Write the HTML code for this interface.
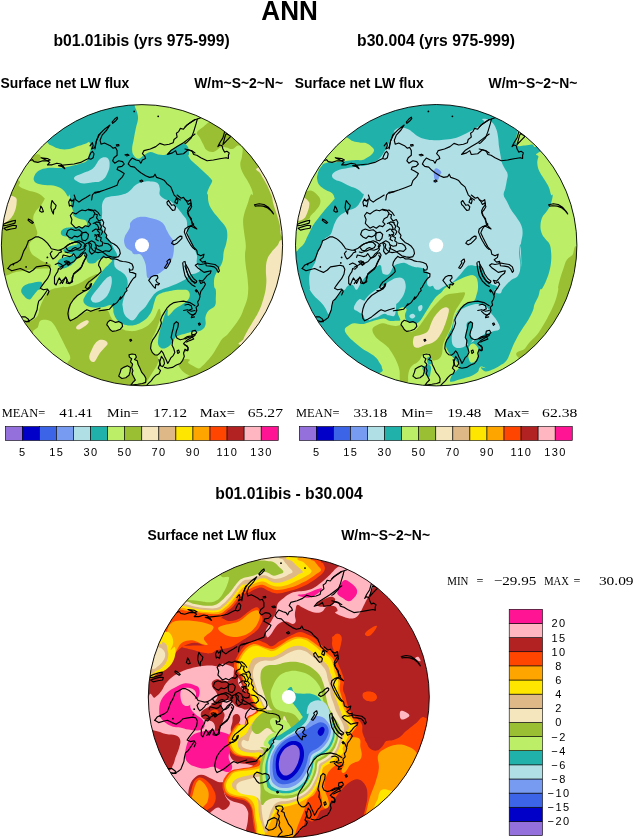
<!DOCTYPE html><html><head><meta charset="utf-8"><style>html,body{margin:0;padding:0;background:#fff;}svg{display:block;will-change:transform}text{font-family:"Liberation Sans",sans-serif;fill:#000}.b{font-weight:bold}.s{font-family:"Liberation Serif",serif;}</style></head><body>
<svg width="633" height="839" viewBox="0 0 633 839">
<rect width="633" height="839" fill="#fff"/>
<defs>
<clipPath id="cp1"><circle cx="142.0" cy="245.2" r="140.6"/></clipPath>
<clipPath id="cp2"><circle cx="436.2" cy="245.2" r="140.7"/></clipPath>
<clipPath id="cp3"><circle cx="288.8" cy="697.0" r="140.5"/></clipPath>
</defs>
<g clip-path="url(#cp1)">
<rect x="0" y="100" width="290" height="290" fill="#BCEE68"/><path d="M17.4,179.8 C23.6,183.0 17.1,184.0 19.0,186.1 C20.9,188.2 23.1,188.6 26.9,190.0 C30.6,191.5 34.4,191.6 37.9,193.2 C41.4,194.8 43.0,196.6 44.2,197.9 C45.5,199.3 45.0,198.1 44.2,199.7 C43.4,201.4 42.0,203.7 40.3,206.1 C38.5,208.4 37.0,209.1 35.5,211.6 C34.1,214.1 33.2,215.7 33.2,218.7 C33.2,221.7 34.8,223.4 35.5,226.6 C36.3,229.8 37.9,231.7 37.1,234.5 C36.3,237.3 33.2,238.6 31.6,240.8 C30.0,243.0 29.2,243.0 29.2,245.6 C29.2,248.1 29.9,250.9 31.6,253.5 C33.3,256.0 35.4,256.5 37.9,258.2 C40.4,259.9 41.7,260.9 44.2,262.1 C46.8,263.4 49.4,263.3 50.6,264.5 C51.7,265.7 51.3,267.2 49.8,268.0 C48.2,268.8 46.0,268.4 42.7,268.6 C39.3,268.9 37.0,268.8 33.2,269.2 C29.4,269.7 27.5,270.2 23.7,270.8 C19.9,271.5 17.7,271.5 14.2,272.4 C10.7,273.4 8.8,275.0 6.3,275.6 C3.8,276.1 5.2,274.4 1.6,275.3 C-2.1,276.1 -9.3,301.1 -12.0,280.0 C-14.7,258.9 -17.9,190.0 -12.0,170.0 C-6.1,150.0 11.2,176.6 17.4,179.8Z" fill="#9ABF32"/>
<path d="M30.8,156.1 C32.5,154.8 35.9,154.0 37.9,154.2 C39.9,154.3 40.4,155.5 40.8,156.9 C41.1,158.2 40.5,159.8 39.5,160.8 C38.5,161.8 37.6,161.9 35.5,161.9 C33.5,161.9 30.2,162.0 29.2,160.8 C28.3,159.7 29.1,157.4 30.8,156.1Z" fill="#9ABF32"/>
<path d="M23.7,323.2 C30.5,321.5 27.2,322.4 29.2,321.6 C31.3,320.8 32.2,320.5 34.0,319.2 C35.7,318.0 36.8,317.3 37.9,315.3 C39.0,313.2 38.7,311.5 39.5,309.0 C40.3,306.4 40.8,305.2 41.9,302.6 C43.0,300.1 44.2,297.8 45.0,296.3 C45.8,294.8 44.7,296.3 45.8,295.0 C46.9,293.7 47.7,291.3 50.6,289.8 C53.4,288.3 56.2,288.0 60.0,287.4 C63.8,286.8 65.7,287.4 69.5,286.6 C73.3,285.8 75.5,285.0 79.0,283.5 C82.5,281.9 84.0,280.3 86.9,278.7 C89.7,277.1 91.3,276.5 93.2,275.6 C95.2,274.6 95.8,274.0 96.7,274.1 C97.5,274.3 98.7,274.8 97.7,276.3 C96.7,277.8 93.9,279.1 91.6,281.7 C89.2,284.3 88.4,286.8 85.9,289.3 C83.4,291.8 81.4,292.3 79.0,294.3 C76.6,296.4 75.5,297.1 73.9,299.4 C72.3,301.7 71.6,302.9 70.7,305.7 C69.9,308.5 69.4,310.4 69.5,313.3 C69.6,316.2 70.1,319.2 71.4,320.0 C72.6,320.8 73.7,318.5 75.8,317.2 C78.0,315.8 79.3,314.6 82.1,313.4 C85.0,312.1 87.5,311.6 90.0,310.9 C92.6,310.1 92.7,310.0 95.0,309.7 C97.3,309.5 98.8,309.6 101.3,309.7 C103.8,309.9 105.7,309.1 107.6,310.5 C109.5,312.0 109.2,314.3 110.8,316.9 C112.4,319.4 113.3,320.8 115.5,323.2 C117.7,325.5 119.0,327.1 121.9,328.7 C124.7,330.3 126.6,330.8 129.8,331.1 C132.9,331.4 134.5,331.1 137.7,330.3 C140.8,329.5 142.9,328.7 145.6,327.1 C148.2,325.5 149.2,324.4 151.1,322.4 C153.0,320.3 153.6,319.4 155.0,316.9 C156.5,314.3 157.2,311.2 158.2,309.7 C159.2,308.3 159.6,308.3 160.1,309.7 C160.6,311.2 160.9,313.9 160.6,316.9 C160.2,319.9 159.3,321.6 158.2,324.8 C157.1,327.9 156.3,329.8 155.0,332.7 C153.8,335.5 152.8,336.4 151.9,339.0 C150.9,341.5 150.3,342.8 150.3,345.3 C150.3,347.8 150.8,349.7 151.9,351.6 C153.0,353.5 154.6,353.3 155.8,354.8 C157.1,356.2 157.9,356.8 158.2,358.7 C158.5,360.6 158.2,362.0 157.4,364.2 C156.6,366.5 155.7,367.4 154.2,369.8 C152.8,372.1 151.7,373.7 150.3,376.1 C148.9,378.5 148.0,379.6 147.1,381.6 C146.2,383.7 145.3,382.7 145.9,386.4 C146.4,390.0 180.2,397.3 150.0,400.0 C119.8,402.7 26.0,414.0 -5.0,400.0 C-36.0,386.0 -10.7,345.4 -5.0,330.0 C0.7,314.6 16.9,324.9 23.7,323.2Z" fill="#9ABF32"/>
<path d="M209.5,121.3 C204.9,126.0 208.5,122.1 207.1,123.4 C205.7,124.6 204.4,125.8 202.4,127.6 C200.3,129.5 197.3,130.8 196.8,132.9 C196.4,134.9 198.7,135.6 200.0,137.9 C201.3,140.2 201.9,141.9 203.2,144.2 C204.4,146.6 204.6,148.2 206.3,149.8 C208.1,151.3 209.8,152.0 211.9,152.1 C213.9,152.2 214.9,151.2 216.6,150.2 C218.3,149.3 218.6,148.0 220.5,147.4 C222.4,146.8 223.7,147.1 226.1,147.4 C228.4,147.7 230.2,149.3 232.4,149.0 C234.6,148.7 235.6,146.4 237.1,145.8 C238.6,145.2 239.0,145.6 240.0,145.8 C240.9,146.0 241.3,146.1 241.9,146.9 C242.4,147.7 242.7,147.8 242.7,149.8 C242.7,151.8 242.3,153.9 241.9,156.9 C241.4,159.9 240.1,161.6 240.3,164.8 C240.5,167.9 241.2,169.5 242.7,172.7 C244.1,175.8 245.7,177.4 247.4,180.6 C249.1,183.7 250.2,185.6 251.4,188.5 C252.5,191.3 253.1,193.5 252.9,194.8 C252.8,196.1 251.7,193.1 250.6,195.0 C249.5,196.9 248.7,200.7 247.4,204.5 C246.1,208.3 245.1,210.5 244.2,214.0 C243.4,217.4 243.1,218.1 243.1,221.9 C243.1,225.6 243.7,228.2 244.2,232.9 C244.8,237.7 245.7,241.1 245.8,245.6 C246.0,250.0 245.0,250.9 245.0,255.0 C245.0,259.1 245.3,261.7 245.8,266.1 C246.3,270.5 246.9,273.0 247.4,277.1 C247.9,281.3 248.0,284.1 248.2,286.6 C248.3,289.2 248.3,287.7 248.2,290.0 C248.0,292.3 248.2,294.4 247.4,297.9 C246.6,301.4 245.7,303.6 244.2,307.4 C242.8,311.2 242.3,313.1 240.3,316.9 C238.2,320.6 236.5,322.9 234.0,326.3 C231.4,329.8 230.0,331.7 227.7,334.2 C225.3,336.8 224.0,336.8 222.1,339.0 C220.2,341.2 219.9,342.4 218.2,345.3 C216.4,348.1 215.6,350.0 213.4,353.2 C211.2,356.4 209.6,358.2 207.1,361.1 C204.6,363.9 202.7,366.0 200.8,367.4 C198.9,368.8 199.2,368.5 197.6,368.2 C196.1,367.9 194.8,366.9 192.9,365.8 C191.0,364.7 188.8,363.9 188.2,362.7 C187.5,361.5 190.7,360.5 189.8,359.8 C188.8,359.2 185.5,358.7 183.5,359.5 C181.4,360.3 180.5,362.7 179.5,363.9 C178.6,365.2 177.9,364.2 178.7,365.8 C179.5,367.5 181.3,370.1 183.5,372.1 C185.7,374.2 188.0,374.7 189.8,376.1 C191.5,377.5 180.1,375.5 192.2,379.3 C204.2,383.0 228.4,410.9 250.0,395.0 C271.6,379.1 290.0,355.0 300.0,300.0 C310.0,245.0 314.0,160.0 300.0,120.0 C286.0,80.0 248.1,99.7 230.0,100.0 C211.9,100.3 214.1,116.7 209.5,121.3Z" fill="#9ABF32"/>
<path d="M40.3,320.8 C42.2,319.4 44.9,319.5 47.4,320.0 C49.9,320.5 50.9,321.0 52.9,323.2 C55.0,325.4 55.6,327.3 57.7,331.1 C59.7,334.9 61.1,338.0 63.2,342.1 C65.2,346.2 66.5,348.5 67.9,351.6 C69.4,354.8 70.3,355.9 70.3,357.9 C70.3,360.0 69.0,360.6 67.9,361.9 C66.8,363.1 68.9,366.6 64.8,364.2 C60.7,361.9 53.7,356.0 47.4,350.0 C41.1,344.0 35.1,338.8 33.2,334.2 C31.3,329.7 36.5,329.8 37.9,327.1 C39.3,324.4 38.4,322.2 40.3,320.8Z" fill="#BCEE68"/>
<path d="M9.5,195.8 C13.9,196.4 14.4,196.4 15.8,197.8 C17.2,199.3 16.7,200.3 16.6,202.9 C16.4,205.5 16.1,207.8 15.0,210.8 C13.9,213.8 13.4,215.4 11.1,217.9 C8.7,220.4 6.6,222.2 3.2,223.4 C-0.3,224.7 -4.4,229.9 -6.3,224.2 C-8.2,218.5 -9.5,200.7 -6.3,195.0 C-3.2,189.3 5.1,195.2 9.5,195.8Z" fill="#F5E6BE"/>
<path d="M258.5,167.6 C252.8,169.8 259.1,170.7 260.8,174.2 C262.6,177.8 265.1,181.2 267.1,185.3 C269.2,189.4 270.2,192.5 271.1,194.8 C272.0,197.0 271.4,194.6 271.9,196.6 C272.4,198.5 272.5,201.0 273.5,204.5 C274.4,208.0 275.4,209.8 276.6,214.0 C277.9,218.1 278.8,220.5 279.8,225.0 C280.8,229.5 279.8,234.1 281.7,236.4 C283.6,238.7 287.7,251.0 289.3,236.4 C290.8,221.8 295.4,177.2 289.3,163.4 C283.1,149.6 264.1,165.4 258.5,167.6Z" fill="#F5E6BE"/>
<path d="M281.8,239.7 C278.2,240.9 279.6,243.0 277.4,245.6 C275.3,248.1 273.2,249.8 271.1,252.7 C269.0,255.5 268.2,256.5 267.1,259.8 C266.1,263.1 266.0,265.1 265.9,269.2 C265.7,273.4 266.4,276.2 266.4,280.3 C266.3,284.4 266.2,286.0 265.6,289.8 C264.9,293.6 264.5,295.3 263.2,299.5 C261.9,303.6 261.3,306.1 259.2,310.5 C257.2,315.0 255.3,317.5 252.9,321.6 C250.6,325.7 249.3,327.6 247.4,331.1 C245.5,334.5 244.5,336.1 243.5,339.0 C242.4,341.8 233.7,344.0 242.2,345.3 C250.7,346.6 275.4,366.4 286.1,345.3 C296.8,324.2 296.4,260.8 295.6,239.7 C294.7,218.6 285.5,238.5 281.8,239.7Z" fill="#F5E6BE"/>
<path d="M76.6,326.3 C78.0,324.5 83.8,321.0 86.1,320.3 C88.4,319.7 89.6,321.3 88.2,323.2 C86.7,325.0 81.3,328.9 79.0,329.5 C76.7,330.1 75.2,328.2 76.6,326.3Z" fill="#F5E6BE"/>
<path d="M89.3,357.9 C88.8,355.6 90.2,353.2 91.6,350.0 C93.0,346.9 94.3,344.2 96.4,342.1 C98.5,340.1 99.9,339.6 102.1,339.8 C104.4,339.9 107.2,341.3 107.6,342.9 C108.1,344.5 106.1,345.6 104.5,347.7 C102.9,349.7 101.8,350.3 99.7,353.2 C97.6,356.0 96.1,360.9 94.0,361.9 C91.9,362.8 89.7,360.3 89.3,357.9Z" fill="#F5E6BE"/>
<path d="M46.6,141.4 C51.0,146.6 49.4,144.3 52.1,145.8 C54.8,147.3 56.6,148.3 60.0,149.0 C63.5,149.6 65.7,149.6 69.5,149.0 C73.3,148.3 75.7,146.9 79.0,145.8 C82.3,144.7 84.0,144.1 86.1,143.4 C88.2,142.7 88.3,141.5 89.3,142.3 C90.2,143.1 90.8,145.1 90.8,147.4 C90.8,149.7 90.0,151.0 89.3,153.7 C88.5,156.4 88.9,158.8 86.9,160.8 C84.8,162.9 82.5,162.9 79.0,164.0 C75.5,165.1 73.6,165.6 69.5,166.4 C65.4,167.1 62.9,167.6 58.5,167.9 C54.0,168.2 51.2,167.5 47.4,167.9 C43.6,168.4 42.0,168.9 39.5,170.3 C37.0,171.7 35.9,173.0 34.8,175.0 C33.6,177.1 33.3,178.8 34.0,180.6 C34.6,182.3 35.2,182.8 37.9,183.7 C40.6,184.7 43.9,184.8 47.4,185.3 C50.9,185.8 52.1,185.2 55.3,186.1 C58.5,187.0 60.7,188.0 63.2,190.0 C65.7,192.1 66.7,195.4 67.9,196.4 C69.2,197.4 68.9,193.4 69.5,195.0 C70.1,196.6 70.3,201.0 71.1,204.5 C71.9,208.0 73.0,210.2 73.5,212.4 C73.9,214.6 72.4,214.3 73.5,215.5 C74.6,216.8 76.6,217.7 79.0,218.7 C81.4,219.6 83.7,219.0 85.3,220.3 C86.9,221.5 87.5,223.6 86.9,225.0 C86.3,226.4 85.6,226.9 82.1,227.4 C78.7,227.9 73.3,227.1 69.5,227.4 C65.7,227.7 64.9,227.9 63.2,229.0 C61.5,230.1 60.8,231.5 60.8,232.9 C60.8,234.3 61.8,235.3 63.2,236.1 C64.6,236.9 66.7,236.1 67.9,236.9 C69.2,237.7 68.2,239.2 69.5,240.0 C70.8,240.8 72.7,240.0 74.2,240.8 C75.8,241.6 77.7,243.0 77.4,244.0 C77.1,244.9 74.9,244.8 72.7,245.6 C70.5,246.3 68.2,247.0 66.4,247.9 C64.5,248.9 63.2,249.3 63.2,250.3 C63.2,251.2 64.8,251.9 66.4,252.7 C67.9,253.5 69.4,253.8 71.1,254.2 C72.8,254.7 75.4,254.6 75.0,255.0 C74.7,255.5 72.2,256.0 69.5,256.6 C66.8,257.2 64.0,257.1 61.6,258.2 C59.2,259.3 58.1,260.4 57.7,262.1 C57.2,263.9 58.1,265.6 59.2,266.9 C60.3,268.1 61.1,268.6 63.2,268.5 C65.2,268.3 67.1,267.5 69.5,266.1 C71.9,264.7 73.1,263.2 75.0,261.4 C76.9,259.5 77.3,258.0 79.0,256.6 C80.7,255.2 82.3,253.9 83.7,254.2 C85.2,254.6 85.2,256.5 86.1,258.2 C87.0,259.9 86.7,262.0 88.5,262.9 C90.2,263.9 92.9,263.5 94.8,262.9 C96.7,262.4 96.3,261.2 97.9,260.2 C99.6,259.2 100.9,258.5 103.0,257.9 C105.0,257.4 106.2,257.2 108.0,257.7 C109.8,258.1 111.9,258.8 112.1,260.2 C112.2,261.6 110.2,262.9 108.7,264.6 C107.1,266.4 106.1,266.9 104.2,269.1 C102.3,271.2 101.2,272.6 99.2,275.4 C97.2,278.2 96.1,279.9 94.1,283.0 C92.1,286.0 91.0,287.8 89.1,290.6 C87.2,293.3 85.8,294.8 84.6,296.9 C83.5,298.9 83.3,299.1 83.4,300.7 C83.5,302.2 83.9,303.2 85.3,304.5 C86.7,305.7 87.8,306.4 90.3,307.0 C92.9,307.6 94.9,307.7 97.9,307.6 C100.9,307.5 103.0,306.9 105.5,306.4 C108.0,305.8 109.0,304.7 110.6,305.1 C112.1,305.5 112.4,306.6 113.1,308.2 C113.7,309.9 112.9,310.9 113.7,313.3 C114.5,315.7 115.3,317.9 117.1,320.0 C118.9,322.1 120.1,322.9 122.6,324.0 C125.2,325.1 127.1,325.4 129.8,325.5 C132.4,325.7 133.5,325.5 136.1,324.8 C138.6,324.0 140.0,323.2 142.4,321.6 C144.8,320.0 146.0,319.1 147.9,316.9 C149.8,314.6 150.6,313.4 151.9,310.5 C153.1,307.7 153.3,305.5 154.2,302.6 C155.2,299.8 155.2,298.2 156.6,296.3 C158.0,294.4 159.1,294.1 161.4,293.2 C163.6,292.2 164.8,292.2 167.7,291.6 C170.5,290.9 172.6,290.4 175.6,290.0 C178.5,289.6 179.8,289.6 182.4,289.8 C184.9,290.0 186.9,289.5 188.3,290.9 C189.7,292.4 190.2,294.5 189.5,296.9 C188.8,299.2 187.6,300.4 184.8,302.8 C181.9,305.2 178.6,306.1 175.3,308.7 C172.0,311.3 169.7,315.8 168.2,315.8 C166.7,315.9 168.4,309.1 167.7,309.0 C166.9,308.8 165.6,312.4 164.5,315.3 C163.4,318.1 163.1,320.0 162.1,323.2 C161.2,326.3 160.6,327.9 159.8,331.1 C159.0,334.2 158.5,336.3 158.2,339.0 C157.9,341.7 157.7,342.8 158.2,344.5 C158.7,346.2 159.3,346.9 160.6,347.7 C161.8,348.5 162.8,348.8 164.5,348.5 C166.2,348.1 167.7,347.3 169.2,346.1 C170.8,344.8 171.1,343.9 172.4,342.1 C173.7,340.4 174.0,338.8 175.6,337.4 C177.1,336.0 178.3,335.8 180.3,335.0 C182.4,334.2 183.6,334.1 185.8,333.4 C188.0,332.8 189.3,332.2 191.4,331.9 C193.4,331.5 193.9,332.3 196.1,331.9 C198.3,331.4 200.5,330.9 202.4,329.5 C204.3,328.1 204.9,327.3 205.5,324.8 C206.2,322.2 204.9,319.7 205.5,316.9 C206.2,314.0 206.8,312.7 208.7,310.5 C210.6,308.3 213.6,308.3 215.0,305.8 C216.4,303.3 215.6,301.1 215.8,297.9 C216.0,294.7 216.1,292.3 215.8,290.0 C215.5,287.7 214.5,288.9 214.2,286.6 C213.9,284.4 213.8,281.6 214.2,278.7 C214.7,275.9 215.3,274.9 216.6,272.4 C217.9,269.9 219.3,268.6 220.5,266.1 C221.8,263.6 222.3,262.6 222.9,259.8 C223.5,256.9 223.1,255.0 223.7,251.9 C224.3,248.7 225.3,247.4 226.1,244.0 C226.8,240.5 227.5,238.0 227.3,234.5 C227.2,231.0 227.0,229.8 225.3,226.6 C223.6,223.4 221.5,221.9 219.0,218.7 C216.4,215.5 214.7,214.0 212.6,210.8 C210.6,207.6 209.6,206.1 208.7,202.9 C207.7,199.7 208.2,196.9 207.9,195.0 C207.6,193.1 207.0,194.5 207.1,193.2 C207.3,191.9 207.7,190.7 208.7,188.5 C209.6,186.3 211.4,184.0 211.9,182.1 C212.3,180.3 212.6,181.0 211.1,179.0 C209.5,176.9 207.0,174.7 204.0,171.9 C201.0,169.0 198.9,167.5 196.1,164.8 C193.2,162.1 191.5,161.0 189.7,158.5 C188.0,155.9 188.3,154.8 187.4,152.1 C186.4,149.4 184.8,144.4 185.0,145.0 C185.2,145.7 187.9,154.8 188.5,155.3 C189.2,155.8 189.2,149.8 188.2,147.4 C187.2,145.0 185.7,143.6 183.5,143.4 C181.3,143.3 179.7,145.2 177.1,146.6 C174.6,148.0 173.0,149.0 170.8,150.6 C168.6,152.1 168.6,153.7 166.1,154.5 C163.6,155.3 161.4,155.0 158.2,154.5 C155.0,154.0 153.1,152.0 150.3,152.1 C147.4,152.3 146.3,154.0 144.0,155.3 C141.6,156.6 140.5,158.8 138.4,158.8 C136.4,158.8 135.0,157.3 133.7,155.3 C132.4,153.3 132.1,152.1 132.1,149.0 C132.1,145.8 133.0,143.6 133.7,139.5 C134.4,135.4 134.9,132.5 135.8,128.4 C136.6,124.3 137.7,122.3 138.0,119.0 C138.2,115.6 137.6,114.6 136.9,111.8 C136.2,109.1 135.1,108.4 134.5,105.1 C133.9,101.7 140.6,100.3 133.7,95.3 C126.8,90.2 120.7,75.1 100.0,80.0 C79.3,84.9 40.7,107.7 30.0,120.0 C19.3,132.3 42.2,136.2 46.6,141.4Z" fill="#20B2AA"/>
<path d="M21.3,289.8 C21.8,287.8 22.9,286.5 25.3,285.0 C27.6,283.6 30.0,283.3 33.2,282.7 C36.3,282.0 39.3,281.4 41.1,281.9 C42.8,282.4 42.2,283.5 41.9,285.0 C41.5,286.6 40.3,288.8 39.5,289.8 C38.7,290.8 39.0,289.0 37.9,290.0 C36.8,291.0 35.7,292.8 34.0,294.7 C32.2,296.6 31.4,299.5 29.2,299.5 C27.0,299.5 24.5,296.7 22.9,294.7 C21.3,292.8 20.9,291.7 21.3,289.8Z" fill="#20B2AA"/>
<path d="M104.5,198.9 C105.7,197.4 105.0,197.7 108.4,196.9 C111.9,196.1 117.7,195.8 121.9,194.8 C126.0,193.7 126.3,193.5 129.0,191.6 C131.7,189.7 132.6,187.2 135.3,185.3 C138.0,183.4 139.4,182.9 142.4,182.1 C145.4,181.4 147.3,181.2 150.3,181.4 C153.3,181.5 155.5,181.5 157.4,182.9 C159.3,184.4 159.3,186.1 159.8,188.5 C160.2,190.8 158.8,192.7 159.8,194.8 C160.7,196.9 162.3,197.6 164.5,198.9 C166.7,200.3 168.3,199.6 170.8,201.3 C173.4,203.1 174.8,205.0 177.1,207.6 C179.5,210.3 180.8,212.2 182.7,214.7 C184.6,217.3 185.6,217.3 186.6,220.3 C187.5,223.3 186.7,226.0 187.4,229.8 C188.0,233.5 188.6,235.8 189.7,239.2 C190.8,242.7 191.5,244.0 192.9,247.1 C194.3,250.3 196.1,251.9 196.8,255.0 C197.6,258.2 196.2,259.9 196.8,262.9 C197.5,265.9 200.2,268.0 200.0,270.0 C199.8,272.1 198.1,272.3 196.1,273.2 C194.0,274.1 191.8,273.6 189.7,274.8 C187.7,276.0 188.1,277.5 185.9,279.1 C183.8,280.7 181.9,281.2 178.8,282.7 C175.8,284.1 174.1,284.8 170.5,286.2 C167.0,287.6 164.1,288.3 161.1,289.8 C158.0,291.2 157.3,291.4 155.1,293.3 C153.0,295.2 152.3,296.6 150.4,299.2 C148.5,301.8 147.8,303.7 145.7,306.4 C143.5,309.0 142.1,309.5 139.7,312.3 C137.3,315.0 136.0,318.8 133.7,320.0 C131.4,321.2 130.1,319.7 128.2,318.4 C126.3,317.2 125.3,316.2 124.2,313.7 C123.1,311.2 123.0,307.9 122.6,305.8 C122.3,303.7 122.2,305.2 122.6,303.2 C122.9,301.2 123.6,298.6 124.5,295.6 C125.3,292.6 126.4,290.8 127.0,288.0 C127.6,285.2 127.9,284.1 127.6,281.7 C127.4,279.3 126.9,277.9 125.7,276.0 C124.6,274.1 123.8,273.7 121.9,272.2 C120.0,270.7 117.8,270.0 116.2,268.4 C114.7,266.9 114.6,266.7 114.3,264.6 C114.0,262.6 114.2,260.1 114.7,258.2 C115.3,256.3 117.3,256.9 117.1,255.0 C117.0,253.1 115.2,251.2 114.0,248.7 C112.7,246.2 112.1,244.6 110.8,242.4 C109.5,240.2 109.1,239.9 107.6,237.7 C106.2,235.4 105.0,234.2 103.7,231.3 C102.4,228.5 101.6,226.9 101.3,223.4 C101.0,220.0 102.0,217.7 102.1,214.0 C102.3,210.2 101.6,207.5 102.1,204.5 C102.6,201.5 103.2,200.5 104.5,198.9Z" fill="#B0E0E6"/>
<path d="M74.2,177.4 C75.2,175.8 79.0,174.9 82.1,173.5 C85.3,172.0 87.5,171.7 90.0,170.3 C92.6,168.9 92.8,168.6 94.8,166.4 C96.7,164.1 97.6,161.1 99.7,159.2 C101.8,157.4 103.4,157.0 105.3,157.2 C107.1,157.3 108.0,158.2 108.9,160.0 C109.8,161.9 109.8,163.8 109.5,166.4 C109.3,168.9 108.6,170.3 107.6,172.7 C106.6,175.0 106.1,176.5 104.5,178.2 C102.9,179.9 101.7,180.6 99.7,181.4 C97.8,182.1 96.4,181.9 94.8,182.1 C93.2,182.4 93.8,182.2 91.6,182.5 C89.4,182.7 86.6,183.6 83.7,183.4 C80.9,183.2 79.3,182.6 77.4,181.4 C75.5,180.2 73.3,179.0 74.2,177.4Z" fill="#B0E0E6"/>
<path d="M91.0,298.1 C91.5,296.6 92.5,295.4 94.1,293.1 C95.8,290.8 97.2,289.3 99.2,286.8 C101.2,284.2 102.3,282.5 104.2,280.4 C106.1,278.4 107.3,277.4 108.7,276.7 C110.0,275.9 110.6,275.6 111.2,276.7 C111.8,277.7 111.9,279.4 111.8,281.7 C111.7,284.0 111.3,285.5 110.6,288.0 C109.8,290.6 109.3,292.2 108.0,294.3 C106.8,296.5 106.0,297.3 104.2,298.8 C102.5,300.3 101.2,301.2 99.2,301.9 C97.2,302.7 95.6,302.8 94.1,302.6 C92.6,302.3 92.2,301.5 91.6,300.7 C91.0,299.8 90.5,299.7 91.0,298.1Z" fill="#B0E0E6"/>
<path d="M130.5,222.6 C131.7,220.8 132.9,219.5 135.3,218.4 C137.7,217.2 139.4,216.9 142.4,216.8 C145.4,216.7 147.1,217.2 150.3,217.9 C153.5,218.6 155.5,219.0 158.2,220.3 C160.9,221.5 162.0,222.2 163.7,224.2 C165.5,226.3 165.6,228.2 166.9,230.5 C168.1,232.9 168.8,234.0 170.0,236.1 C171.3,238.1 172.4,238.6 173.2,240.8 C174.0,243.0 174.0,244.3 174.0,247.1 C174.0,250.0 173.8,252.2 173.2,255.0 C172.6,257.9 172.3,258.8 170.8,261.4 C169.4,263.9 168.1,265.5 166.1,267.7 C164.0,269.9 162.9,270.8 160.6,272.4 C158.2,274.0 156.5,274.5 154.2,275.6 C152.0,276.7 150.9,277.6 149.5,277.9 C148.1,278.3 147.8,278.6 147.1,277.1 C146.5,275.7 146.7,273.4 146.3,270.8 C146.0,268.3 146.2,267.0 145.6,264.5 C144.9,262.0 144.3,260.2 143.2,258.2 C142.1,256.1 141.6,255.0 140.0,254.2 C138.4,253.5 136.7,254.4 135.3,254.2 C133.9,254.1 133.7,254.1 132.9,253.5 C132.1,252.8 132.6,252.2 131.3,251.1 C130.1,250.0 128.0,249.7 126.6,247.9 C125.2,246.2 124.6,244.6 124.2,242.4 C123.8,240.2 124.1,238.9 124.7,236.9 C125.3,234.8 126.4,234.0 127.4,232.1 C128.4,230.2 129.1,229.3 129.8,227.4 C130.4,225.5 129.4,224.4 130.5,222.6Z" fill="#789BF2"/>
<path d="M118.7,376.1 L120.3,372.1 L121.1,369.0 L124.2,367.1 L127.4,365.8 L130.5,367.4 L130.1,371.4 L129.0,375.3 L125.8,377.7 L121.9,378.5Z" fill="#BCEE68"/><path d="M129.0,354.8 L132.1,354.0 L135.3,354.5 L136.4,357.1 L134.5,359.5 L137.3,360.8 L138.0,364.2 L140.0,368.2 L141.6,372.1 L144.3,375.3 L145.9,378.5 L145.6,382.4 L142.4,383.5 L137.7,384.3 L133.7,384.8 L130.5,385.6 L132.9,382.4 L135.3,380.0 L133.7,376.9 L132.1,373.7 L132.9,370.6 L131.7,367.4 L132.6,364.2 L130.5,361.9 L131.7,358.7 L129.4,357.1Z" fill="#BCEE68"/><path d="M107.6,322.4 L110.0,320.3 L113.2,321.3 L115.5,322.4 L118.7,321.6 L121.9,323.2 L122.6,326.3 L120.3,329.2 L116.3,330.8 L112.4,331.4 L110.0,329.5 L108.4,326.7 L106.8,324.8Z" fill="#BCEE68"/><circle cx="142" cy="245.2" r="7" fill="#fff"/><g transform="translate(0,0)"><path d="M26.9,163.2 L29.2,160.8 L32.4,159.7 L34.0,161.6 L37.9,162.4 L42.7,160.8 L47.4,160.8 L49.8,162.4 L47.4,164.8 L52.1,164.8 L56.9,163.2 L60.8,164.0 L63.2,166.4 L64.8,168.7 L61.6,166.4 L58.5,165.6 L66.4,164.8 L74.2,164.0 L80.6,162.4 L85.3,160.0 L88.5,158.5 L90.8,159.2 L93.2,157.7 L94.0,153.7 L92.4,151.3 L90.8,152.9 L89.3,156.1 L88.5,158.5" fill="none" stroke="#000" stroke-width="1.15" stroke-linejoin="round" stroke-linecap="round"/><path d="M90.0,145.8 L92.4,142.7 L93.2,145.8 L91.6,149.0 L94.8,147.4 L96.4,141.1 L98.7,134.8 L100.0,134.0" fill="none" stroke="#000" stroke-width="1.15" stroke-linejoin="round" stroke-linecap="round"/><path d="M41.1,157.7 L47.4,158.5 L50.2,160.0 L47.4,160.8Z" fill="none" stroke="#000" stroke-width="1.15" stroke-linejoin="round" stroke-linecap="round"/><path d="M100.0,191.6 L94.8,192.4 L92.4,194.8 L91.6,200.0" fill="none" stroke="#000" stroke-width="1.15" stroke-linejoin="round" stroke-linecap="round"/><path d="M95.0,149.0 L96.3,141.1 L99.7,134.0 L104.5,129.2 L110.0,125.0 L106.8,130.0 L102.1,135.1 L100.1,140.3 L101.0,144.2 L104.5,143.0 L107.6,144.5 L110.8,146.1 L113.2,148.2 L115.5,147.4 L117.1,150.6 L117.1,155.3 L114.0,157.7 L112.7,160.8 L114.7,163.2 L118.7,160.8 L122.6,161.6 L124.2,164.0 L121.9,166.4 L117.9,167.1 L117.1,169.5 L120.3,171.1 L124.2,173.5 L122.6,176.6 L118.7,180.6 L117.1,185.3 L110.8,187.7 L104.5,190.0 L99.7,191.6 L95.0,193.2" fill="none" stroke="#000" stroke-width="1.15" stroke-linejoin="round" stroke-linecap="round"/><path d="M112.1,122.1 L114.7,119.0 L117.1,117.1 L117.6,118.6 L115.2,121.3 L112.7,123.4Z" fill="none" stroke="#000" stroke-width="1.15" stroke-linejoin="round" stroke-linecap="round"/><path d="M125.0,154.8 L127.4,154.2 L129.0,155.3 L126.6,155.9Z" fill="none" stroke="#000" stroke-width="1.15" stroke-linejoin="round" stroke-linecap="round"/><path d="M116.3,144.9 L118.7,144.5 L119.0,145.8 L116.8,146.1Z" fill="none" stroke="#000" stroke-width="1.15" stroke-linejoin="round" stroke-linecap="round"/><path d="M195.0,119.7 L191.4,122.1 L186.6,125.3 L183.5,129.2 L180.3,128.4 L178.7,131.6 L176.4,133.2 L177.1,137.1 L174.0,139.5 L173.2,142.7 L169.2,144.2 L164.5,145.0 L159.8,143.4 L155.8,146.6 L150.3,149.0 L144.0,150.6 L142.4,153.7 L144.8,156.1 L145.6,158.5 L142.4,160.0 L140.8,163.2 L139.2,160.8 L136.1,160.0 L132.1,158.1 L129.8,160.8 L128.2,164.0 L130.5,166.4 L134.5,167.1 L137.7,170.3 L140.8,172.7 L145.6,175.8 L149.5,177.4 L153.5,176.6 L155.0,174.2 L156.6,177.4 L161.4,179.0 L164.5,180.6 L166.9,183.7 L170.8,186.9 L172.4,190.8 L174.0,194.8 L177.1,197.9 L180.3,200.0" fill="none" stroke="#000" stroke-width="1.15" stroke-linejoin="round" stroke-linecap="round"/><path d="M195.0,134.0 L189.8,137.9 L183.5,142.7 L177.1,146.6 L170.8,150.6 L167.4,154.5 L172.4,152.9 L175.6,150.6 L177.1,154.5 L183.5,153.7 L188.2,149.8 L191.4,150.6 L195.0,152.9" fill="none" stroke="#000" stroke-width="1.15" stroke-linejoin="round" stroke-linecap="round"/><path d="M139.7,180.9 L141.6,179.9 L142.9,181.2 L141.1,182.1Z" fill="none" stroke="#000" stroke-width="1.15" stroke-linejoin="round" stroke-linecap="round"/><path d="M185.0,126.9 L189.7,122.9 L194.5,119.7 L197.3,119.0 L200.8,117.7" fill="none" stroke="#000" stroke-width="1.15" stroke-linejoin="round" stroke-linecap="round"/><path d="M197.3,119.0 L196.1,123.7 L193.7,131.6 L191.3,137.9 L186.6,142.7 L185.0,143.4" fill="none" stroke="#000" stroke-width="1.15" stroke-linejoin="round" stroke-linecap="round"/><path d="M185.0,149.0 L188.2,149.8 L192.1,151.3 L193.7,154.5 L196.8,155.3 L200.8,157.7 L207.1,160.8 L213.4,160.0 L219.8,158.8 L226.1,157.7 L228.4,158.5 L228.4,155.3 L229.2,152.9 L226.9,151.3 L224.5,152.1 L222.9,149.0 L222.1,145.8 L219.8,145.0 L217.9,146.6 L219.8,142.7 L222.9,137.9 L224.5,132.1" fill="none" stroke="#000" stroke-width="1.15" stroke-linejoin="round" stroke-linecap="round"/><path d="M222.9,144.7 L225.3,135.5 L226.4,133.5 L230.8,136.3 L226.9,140.3Z" fill="none" stroke="#000" stroke-width="1.15" stroke-linejoin="round" stroke-linecap="round"/><path d="M3.2,224.2 L7.1,222.6 L11.8,221.1 L15.5,220.3 L15.0,223.1 L11.1,224.2 L7.1,225.3 L3.5,225.8Z" fill="none" stroke="#000" stroke-width="1.15" stroke-linejoin="round" stroke-linecap="round"/><path d="M3.9,228.2 L8.7,226.6 L13.4,225.3 L16.6,225.8 L15.8,228.2 L11.1,229.0 L6.3,230.1Z" fill="none" stroke="#000" stroke-width="1.15" stroke-linejoin="round" stroke-linecap="round"/><path d="M40.8,206.1 L42.3,208.4 L43.4,211.6 L41.4,212.1 L39.5,210.8 L40.3,208.4Z" fill="none" stroke="#000" stroke-width="1.15" stroke-linejoin="round" stroke-linecap="round"/><path d="M52.1,200.5 L53.7,202.9 L56.1,205.3 L55.3,208.4 L53.7,210.0 L53.4,214.0 L52.1,211.6 L50.9,207.6 L51.3,203.7Z" fill="none" stroke="#000" stroke-width="1.15" stroke-linejoin="round" stroke-linecap="round"/><path d="M28.4,219.0 L30.8,220.3 L33.5,222.6 L32.4,223.4 L30.0,221.9 L28.1,220.3Z" fill="none" stroke="#000" stroke-width="1.15" stroke-linejoin="round" stroke-linecap="round"/><path d="M70.3,198.9 L71.9,201.3 L74.2,198.9 L73.5,202.9 L72.7,206.8 L71.1,205.3 L69.5,206.1 L68.7,202.1Z" fill="none" stroke="#000" stroke-width="1.15" stroke-linejoin="round" stroke-linecap="round"/><path d="M7.9,268.5 L10.3,265.3 L13.4,263.7 L17.4,262.1 L20.5,259.8 L22.1,255.8 L23.7,251.1 L26.1,247.1 L27.6,243.2 L28.4,240.8 L31.6,239.2 L35.5,236.9 L38.7,236.9 L41.9,238.4 L45.0,240.8 L47.4,243.2 L49.8,246.3 L51.3,248.7 L54.5,249.5 L57.7,250.3 L60.8,250.0 L61.6,251.9 L59.2,252.7 L57.7,255.0 L55.3,257.4 L52.9,259.0 L51.3,256.6 L50.2,253.5 L52.1,251.1" fill="none" stroke="#000" stroke-width="1.15" stroke-linejoin="round" stroke-linecap="round"/><path d="M7.9,268.5 L11.8,270.8 L17.4,269.2 L20.5,268.5 L25.3,270.8 L29.2,272.4 L33.2,270.0 L36.3,266.9 L41.1,266.1 L45.8,265.3 L49.0,266.1 L50.6,269.2 L49.8,274.0 L47.4,278.7 L44.2,282.7 L41.9,285.8 L40.3,288.2 L43.4,289.8 L47.4,289.0 L49.0,291.4 L47.4,295.0" fill="none" stroke="#000" stroke-width="1.15" stroke-linejoin="round" stroke-linecap="round"/><path d="M55.3,264.5 L58.5,262.9 L61.6,264.5 L63.2,266.9 L60.8,269.2 L58.5,268.5 L57.7,271.6 L56.1,274.0 L54.5,277.1 L54.5,283.5 L56.1,285.0 L57.7,281.1 L59.2,277.9 L60.8,280.3 L62.4,283.5 L64.0,280.3 L65.6,277.1 L67.1,280.3 L68.7,283.5 L71.1,281.9 L72.7,278.7 L73.5,274.0 L75.8,271.6 L79.0,269.2 L81.4,266.9 L82.9,262.9 L84.5,259.8 L86.1,257.4 L86.9,255.0 L85.3,252.7 L82.9,253.5 L81.4,255.8 L79.0,257.4 L76.6,258.2 L75.0,255.8 L73.5,253.5 L71.9,255.8 L69.5,256.6 L66.4,255.8 L63.2,255.0 L62.4,257.4" fill="none" stroke="#000" stroke-width="1.15" stroke-linejoin="round" stroke-linecap="round"/><path d="M74.2,195.0 L75.8,199.7 L79.0,202.1 L82.1,199.7 L86.1,197.4 L90.0,195.0" fill="none" stroke="#000" stroke-width="1.15" stroke-linejoin="round" stroke-linecap="round"/><path d="M70.3,215.5 L72.7,212.4 L75.8,214.0 L79.0,211.6 L82.1,210.0 L85.3,210.8 L88.5,209.2 L92.4,210.0 L94.8,213.2 L93.2,217.1 L90.0,218.7 L88.5,221.9 L90.8,224.2 L88.5,226.6 L85.3,225.8 L82.1,228.2 L79.0,226.6 L75.8,228.2 L73.5,225.8 L71.1,223.4 L71.9,219.5Z" fill="none" stroke="#000" stroke-width="1.15" stroke-linejoin="round" stroke-linecap="round"/><path d="M67.9,230.5 L71.1,229.0 L75.0,230.5 L79.0,229.8 L82.1,232.1 L80.6,235.3 L77.4,236.9 L74.2,236.1 L71.9,238.4 L68.7,236.9 L66.4,234.5Z" fill="none" stroke="#000" stroke-width="1.15" stroke-linejoin="round" stroke-linecap="round"/><path d="M82.1,232.9 L86.1,232.1 L88.5,234.5 L87.7,238.4 L85.3,240.8 L82.1,240.0 L81.4,236.9Z" fill="none" stroke="#000" stroke-width="1.15" stroke-linejoin="round" stroke-linecap="round"/><path d="M88.5,210.0 L91.6,210.8 L94.8,210.0 L97.9,212.4 L100.0,215.5" fill="none" stroke="#000" stroke-width="1.15" stroke-linejoin="round" stroke-linecap="round"/><path d="M65.6,247.1 L69.5,244.0 L74.2,242.4 L79.0,240.8 L82.9,242.4 L86.1,245.6 L83.7,248.7 L79.8,250.3 L75.8,249.5 L71.9,251.1 L67.9,250.3Z" fill="none" stroke="#000" stroke-width="1.15" stroke-linejoin="round" stroke-linecap="round"/><path d="M88.5,242.4 L91.6,240.8 L94.8,242.4 L96.4,247.1 L94.8,251.9 L91.6,254.2 L89.3,251.1 L90.0,247.1Z" fill="none" stroke="#000" stroke-width="1.15" stroke-linejoin="round" stroke-linecap="round"/><path d="M93.2,223.4 L96.4,221.9 L100.0,222.6" fill="none" stroke="#000" stroke-width="1.15" stroke-linejoin="round" stroke-linecap="round"/><path d="M92.4,231.3 L95.6,229.0 L100.0,229.8" fill="none" stroke="#000" stroke-width="1.15" stroke-linejoin="round" stroke-linecap="round"/><path d="M94.8,236.1 L97.9,234.5 L100.0,235.3" fill="none" stroke="#000" stroke-width="1.15" stroke-linejoin="round" stroke-linecap="round"/><path d="M66.4,262.9 L68.7,261.4 L70.3,263.7 L68.2,265.3Z" fill="none" stroke="#000" stroke-width="1.15" stroke-linejoin="round" stroke-linecap="round"/><path d="M95.0,214.0 L97.4,214.7 L96.6,217.9 L98.9,221.1 L102.1,219.5 L103.7,222.6 L102.9,225.8 L105.3,228.2 L104.5,232.1 L106.8,235.3 L106.1,237.7 L108.4,240.0 L110.8,242.4 L114.0,244.0 L117.1,246.3 L119.5,249.5 L120.3,253.5 L118.7,256.6 L115.5,257.4 L111.6,256.9 L107.6,255.8 L104.5,253.5 L101.3,251.1 L98.2,249.5 L95.0,247.9" fill="none" stroke="#000" stroke-width="1.15" stroke-linejoin="round" stroke-linecap="round"/><path d="M95.0,223.4 L97.4,225.0 L98.9,228.2 L97.4,230.5 L99.7,232.9 L98.2,236.1 L101.3,237.7 L100.5,240.8 L102.9,242.4 L102.1,245.6 L98.9,246.3 L95.8,244.8" fill="none" stroke="#000" stroke-width="1.15" stroke-linejoin="round" stroke-linecap="round"/><path d="M99.7,223.4 L101.6,226.6 L100.5,229.0 L102.6,231.7 L101.3,234.5" fill="none" stroke="#000" stroke-width="1.15" stroke-linejoin="round" stroke-linecap="round"/><path d="M95.0,234.5 L96.9,236.4 L95.8,239.2 L98.2,240.8" fill="none" stroke="#000" stroke-width="1.15" stroke-linejoin="round" stroke-linecap="round"/><path d="M148.7,280.3 L151.1,277.1 L154.2,275.6 L157.4,275.6 L157.9,277.9 L155.8,280.3 L157.4,282.7 L159.5,283.5 L158.2,285.0 L155.8,284.3 L155.3,288.2 L153.5,286.6 L151.1,283.5Z" fill="none" stroke="#000" stroke-width="1.15" stroke-linejoin="round" stroke-linecap="round"/><path d="M164.5,267.7 L166.1,265.3 L167.7,262.9 L166.9,261.4 L168.5,259.8 L170.0,259.0 L170.5,261.4 L169.2,263.7 L168.0,266.1 L166.1,268.5Z" fill="none" stroke="#000" stroke-width="1.15" stroke-linejoin="round" stroke-linecap="round"/><path d="M183.5,262.1 L185.0,261.4 L185.8,265.3 L186.6,270.8 L188.2,275.6 L191.4,280.3 L195.0,283.5" fill="none" stroke="#000" stroke-width="1.15" stroke-linejoin="round" stroke-linecap="round"/><path d="M182.7,262.9 L183.5,269.2 L185.0,275.6 L188.2,281.1 L192.2,285.0 L195.0,286.6" fill="none" stroke="#000" stroke-width="1.15" stroke-linejoin="round" stroke-linecap="round"/><path d="M166.9,202.1 L168.5,200.5 L170.0,202.9 L171.6,205.3 L174.0,204.8 L175.6,206.8 L174.8,210.0 L172.7,210.5 L170.8,208.4 L169.2,206.1 L167.4,204.5Z" fill="none" stroke="#000" stroke-width="1.15" stroke-linejoin="round" stroke-linecap="round"/><path d="M174.8,202.1 L176.4,198.2 L177.9,200.5 L177.1,203.7Z" fill="none" stroke="#000" stroke-width="1.15" stroke-linejoin="round" stroke-linecap="round"/><path d="M177.1,195.0 L181.1,198.2 L183.5,197.4 L186.6,201.3 L188.2,204.5 L190.6,202.9 L191.7,206.8 L189.8,210.0 L187.4,212.4 L188.5,215.5 L190.6,218.7 L192.2,222.6 L193.7,224.2 L191.4,225.8 L188.2,226.6 L185.0,229.0 L184.3,232.1 L186.6,237.7 L188.2,240.8 L190.6,244.8 L192.9,247.9 L195.0,249.5" fill="none" stroke="#000" stroke-width="1.15" stroke-linejoin="round" stroke-linecap="round"/><path d="M181.9,236.4 L180.3,236.1 L177.9,237.7 L175.6,240.0 L173.2,240.8 L171.6,243.2 L174.0,244.8 L177.1,243.2 L179.5,240.8 L181.9,238.4Z" fill="none" stroke="#000" stroke-width="1.15" stroke-linejoin="round" stroke-linecap="round"/><path d="M254.5,204.8 L259.2,203.7 L264.0,204.5 L268.7,207.6 L272.7,212.4 L273.5,214.0 L271.1,210.8 L267.1,207.6 L263.2,206.1 L258.5,205.7 L255.3,206.1Z" fill="none" stroke="#000" stroke-width="1.15" stroke-linejoin="round" stroke-linecap="round"/><path d="M185.0,199.7 L188.2,201.3 L190.5,199.7 L191.3,204.5 L188.9,207.6 L187.4,210.8 L188.9,215.5 L191.3,218.7 L192.1,224.2 L194.5,226.6 L196.8,229.0 L193.7,227.4 L190.5,225.8 L188.2,229.0 L186.6,232.9 L188.9,237.7 L191.3,242.4 L193.7,247.1 L196.8,250.3 L197.6,254.2 L200.8,255.8 L204.0,254.2 L203.2,257.4 L200.0,259.8 L202.4,262.1 L205.5,261.4 L204.7,263.7 L200.8,264.5 L197.6,263.7 L195.3,265.3 L197.6,267.7 L200.8,270.0 L204.0,272.4 L207.1,271.6 L211.1,270.8 L210.3,273.2 L207.1,275.6 L204.7,278.7 L202.4,281.1 L199.2,280.3 L200.8,283.5 L204.0,281.9 L205.5,284.3 L203.2,288.2 L200.8,291.4 L200.0,295.0" fill="none" stroke="#000" stroke-width="1.15" stroke-linejoin="round" stroke-linecap="round"/><path d="M205.5,262.9 L210.3,263.7 L215.0,264.5 L218.2,266.9 L219.4,270.8 L218.2,272.4 L216.6,269.2 L214.2,266.9 L210.3,266.1 L206.3,265.8Z" fill="none" stroke="#000" stroke-width="1.15" stroke-linejoin="round" stroke-linecap="round"/><path d="M185.0,266.1 L186.6,270.8 L188.9,276.4 L192.1,281.1 L196.1,282.7 L196.8,281.1 L193.7,278.7 L190.5,274.0 L188.2,268.5 L185.8,264.5" fill="none" stroke="#000" stroke-width="1.15" stroke-linejoin="round" stroke-linecap="round"/><path d="M195.3,290.6 L196.4,289.8 L197.3,290.9 L196.4,292.0Z" fill="none" stroke="#000" stroke-width="1.15" stroke-linejoin="round" stroke-linecap="round"/><path d="M103.6,256.4 L101.1,259.0 L99.2,262.1 L98.5,265.3 L100.4,268.4 L101.1,271.6 L97.9,274.8 L94.1,277.9 L91.0,280.4 L88.4,282.3 L86.5,284.9 L85.3,287.4 L87.2,288.7 L89.7,286.8 L90.3,284.2 L91.6,283.6 L91.0,286.1 L89.1,288.7 L85.9,290.6 L82.7,290.6" fill="none" stroke="#000" stroke-width="1.15" stroke-linejoin="round" stroke-linecap="round"/><path d="M103.6,256.4 L106.1,257.7 L108.7,257.1 L111.2,259.0 L114.3,258.7 L117.5,259.6 L120.0,260.9 L122.6,261.5 L125.7,261.7 L128.9,262.5 L132.0,264.0 L133.3,267.2 L132.7,269.7 L130.1,270.3 L129.3,268.8 L129.8,272.2 L132.7,272.6 L135.8,273.9 L135.6,276.7 L133.3,278.5 L131.4,281.1 L129.5,284.2 L128.2,286.8 L126.4,288.7 L127.0,290.6 L125.1,292.4 L123.8,295.0 L121.9,297.5 L120.0,299.4 L120.7,296.9 L118.8,300.0 L116.9,302.6 L114.3,304.5 L112.4,305.7 L113.7,303.8 L111.8,306.4 L109.3,309.3 L104.2,310.1 L99.2,310.8" fill="none" stroke="#000" stroke-width="1.15" stroke-linejoin="round" stroke-linecap="round"/><path d="M60.0,267.2 L62.5,265.9 L66.3,264.0 L64.4,261.5 L67.0,260.9 L70.1,263.4 L73.9,261.5 L76.4,258.3 L79.0,256.4 L80.9,253.9 L83.4,252.0 L85.3,249.5 L84.0,246.3 L85.9,243.8 L89.1,242.5 L91.6,244.4 L91.0,247.6 L92.9,250.1 L95.4,252.0 L97.9,252.6 L101.7,252.0 L105.5,250.7 L109.3,251.4 L111.8,248.8 L110.6,245.7 L108.0,243.8 L104.2,243.2" fill="none" stroke="#000" stroke-width="1.15" stroke-linejoin="round" stroke-linecap="round"/><path d="M60.0,283.6 L62.5,280.4 L65.7,277.3 L67.0,279.2 L66.3,283.0 L69.5,283.6 L72.6,281.7 L72.0,277.9 L73.9,274.1 L77.1,271.6 L80.2,269.1 L82.1,265.9 L83.4,262.7 L84.6,260.2 L85.9,257.7 L84.6,255.2" fill="none" stroke="#000" stroke-width="1.15" stroke-linejoin="round" stroke-linecap="round"/><path d="M67.0,262.7 L68.6,262.1 L69.4,263.8 L67.8,264.6Z" fill="none" stroke="#000" stroke-width="1.15" stroke-linejoin="round" stroke-linecap="round"/><path d="M60.0,250.1 L63.8,248.2 L67.6,245.1 L71.4,243.2 L75.2,241.9 L79.0,242.5 L81.5,245.1 L80.2,247.6 L77.7,248.8 L75.2,247.6 L72.6,248.8 L70.1,251.4 L67.6,252.6 L65.1,252.0" fill="none" stroke="#000" stroke-width="1.15" stroke-linejoin="round" stroke-linecap="round"/><path d="M47.4,290.0 L44.2,294.7 L41.4,298.7 L38.7,301.1 L37.6,305.8 L37.1,309.7 L35.5,313.7 L34.0,317.6 L30.8,320.0 L26.9,321.6 L23.7,320.8" fill="none" stroke="#000" stroke-width="1.15" stroke-linejoin="round" stroke-linecap="round"/><path d="M21.3,316.9 L25.3,316.9 L28.4,319.2 L29.2,321.6 L25.3,321.6" fill="none" stroke="#000" stroke-width="1.15" stroke-linejoin="round" stroke-linecap="round"/><path d="M86.1,290.0 L82.1,292.4 L77.4,295.5 L73.5,299.5 L70.3,304.2 L68.7,309.0 L67.9,313.7 L68.7,318.4 L70.3,320.8 L73.5,319.2 L77.4,316.9 L81.4,313.7 L84.5,311.3 L86.9,309.7 L90.8,311.3 L94.8,309.7 L100.0,308.2" fill="none" stroke="#000" stroke-width="1.15" stroke-linejoin="round" stroke-linecap="round"/><path d="M107.6,322.4 L110.0,320.3 L113.2,321.3 L115.5,322.4 L118.7,321.6 L121.9,323.2 L122.6,326.3 L120.3,329.2 L116.3,330.8 L112.4,331.4 L110.0,329.5 L108.4,326.7 L106.8,324.8Z" fill="none" stroke="#000" stroke-width="1.15" stroke-linejoin="round" stroke-linecap="round"/><path d="M129.8,339.9 L131.0,339.4 L131.7,340.6 L130.4,341.3Z" fill="none" stroke="#000" stroke-width="1.15" stroke-linejoin="round" stroke-linecap="round"/><path d="M118.7,376.1 L120.3,372.1 L121.1,369.0 L124.2,367.1 L127.4,365.8 L130.5,367.4 L130.1,371.4 L129.0,375.3 L125.8,377.7 L121.9,378.5Z" fill="none" stroke="#000" stroke-width="1.15" stroke-linejoin="round" stroke-linecap="round"/><path d="M129.0,354.8 L132.1,354.0 L135.3,354.5 L136.4,357.1 L134.5,359.5 L137.3,360.8 L138.0,364.2 L140.0,368.2 L141.6,372.1 L144.3,375.3 L145.9,378.5 L145.6,382.4 L142.4,383.5 L137.7,384.3 L133.7,384.8 L130.5,385.6 L132.9,382.4 L135.3,380.0 L133.7,376.9 L132.1,373.7 L132.9,370.6 L131.7,367.4 L132.6,364.2 L130.5,361.9 L131.7,358.7 L129.4,357.1Z" fill="none" stroke="#000" stroke-width="1.15" stroke-linejoin="round" stroke-linecap="round"/><path d="M195.0,305.8 L189.8,302.6 L183.5,301.1 L178.7,301.8 L174.0,302.6 L170.0,305.0 L166.9,308.2 L164.5,312.1 L162.1,316.1 L160.6,320.0 L161.4,323.2 L159.8,327.9 L157.4,332.7 L155.0,336.6 L152.7,339.8 L151.1,343.7 L150.6,348.5 L152.2,352.4 L154.7,354.8 L157.4,355.1 L159.8,353.2 L161.4,350.8 L163.2,353.2 L164.5,356.4 L166.4,360.3 L167.7,363.5 L169.2,361.1 L170.8,357.9 L173.2,355.6 L174.8,352.4 L173.7,348.5 L172.1,345.3 L172.7,340.6 L171.1,337.4 L172.1,332.7 L173.2,328.7 L174.0,324.0 L176.4,321.6 L178.4,323.2 L177.9,327.1 L176.4,331.1 L175.6,335.0 L177.1,338.2 L180.3,339.8 L183.5,339.0 L187.4,336.6 L191.4,335.8 L195.0,334.2" fill="none" stroke="#000" stroke-width="1.15" stroke-linejoin="round" stroke-linecap="round"/><path d="M159.0,359.5 L159.8,364.2 L158.2,368.2 L160.6,370.6 L159.0,373.7 L155.8,375.3 L153.5,377.7 L151.1,380.8 L148.7,383.2 L146.3,385.6" fill="none" stroke="#000" stroke-width="1.15" stroke-linejoin="round" stroke-linecap="round"/><path d="M161.4,356.4 L163.7,359.5 L164.5,363.5 L162.9,366.6 L160.6,365.8 L159.8,361.9Z" fill="none" stroke="#000" stroke-width="1.15" stroke-linejoin="round" stroke-linecap="round"/><path d="M164.5,367.4 L167.7,368.2 L172.4,367.4 L176.4,365.0 L180.3,363.5 L182.7,360.3 L184.3,356.4 L183.5,353.2 L185.0,349.2 L187.4,350.8 L188.2,347.7 L185.8,345.3 L183.5,343.7 L186.6,340.6 L191.4,337.4 L195.0,335.5" fill="none" stroke="#000" stroke-width="1.15" stroke-linejoin="round" stroke-linecap="round"/><path d="M177.1,350.8 L178.7,350.0 L179.4,352.4 L177.8,353.5Z" fill="none" stroke="#000" stroke-width="1.15" stroke-linejoin="round" stroke-linecap="round"/><path d="M183.5,310.5 L187.4,309.7 L191.4,311.3 L195.0,310.5" fill="none" stroke="#000" stroke-width="1.15" stroke-linejoin="round" stroke-linecap="round"/><path d="M187.4,311.3 L189.8,313.7 L192.9,315.3 L195.0,313.7" fill="none" stroke="#000" stroke-width="1.15" stroke-linejoin="round" stroke-linecap="round"/><path d="M196.1,290.0 L198.4,292.4 L200.0,296.3 L199.2,299.5 L197.6,301.8 L198.4,305.0 L196.1,307.4 L196.8,310.5 L195.3,313.7 L192.1,315.3 L191.3,317.6 L194.5,316.9" fill="none" stroke="#000" stroke-width="1.15" stroke-linejoin="round" stroke-linecap="round"/><path d="M185.0,305.0 L188.2,304.2 L191.3,305.8 L192.1,309.0 L189.7,309.7" fill="none" stroke="#000" stroke-width="1.15" stroke-linejoin="round" stroke-linecap="round"/><path d="M192.1,331.1 L195.3,330.3 L196.8,332.7 L194.5,335.0 L191.6,334.2Z" fill="none" stroke="#000" stroke-width="1.15" stroke-linejoin="round" stroke-linecap="round"/><path d="M185.0,339.0 L188.2,337.4 L192.1,336.6 L193.7,339.0 L189.7,340.6 L186.6,342.1" fill="none" stroke="#000" stroke-width="1.15" stroke-linejoin="round" stroke-linecap="round"/><path d="M185.0,345.3 L187.4,346.1 L188.2,350.0 L185.8,350.8" fill="none" stroke="#000" stroke-width="1.15" stroke-linejoin="round" stroke-linecap="round"/><path d="M198.4,323.5 L199.7,322.9 L200.5,324.4 L199.2,325.4Z" fill="none" stroke="#000" stroke-width="1.15" stroke-linejoin="round" stroke-linecap="round"/><circle cx="134.2" cy="111.4" r="0.9" fill="#000"/><circle cx="158.2" cy="116.3" r="0.9" fill="#000"/><circle cx="13.4" cy="264.5" r="0.9" fill="#000"/><circle cx="26.1" cy="266.9" r="0.9" fill="#000"/><circle cx="47.4" cy="257.4" r="0.9" fill="#000"/><circle cx="46.6" cy="262.9" r="0.9" fill="#000"/></g>
</g>
<circle cx="142.0" cy="245.2" r="140.6" fill="none" stroke="#000" stroke-width="0.9"/>
<g clip-path="url(#cp2)">
<rect x="290" y="100" width="292" height="290" fill="#20B2AA"/><path d="M345.5,136.7 C353.2,140.9 349.7,139.9 352.7,141.1 C355.7,142.3 357.7,142.2 360.6,142.7 C363.4,143.1 364.5,142.5 366.9,143.4 C369.2,144.4 371.0,146.0 372.4,147.4 C373.8,148.8 374.1,149.1 374.0,150.6 C373.8,152.0 373.0,153.1 371.6,154.5 C370.2,155.9 368.8,156.6 366.9,157.7 C365.0,158.8 364.3,159.6 362.1,160.0 C359.9,160.5 358.7,159.9 355.8,160.0 C353.0,160.2 350.8,160.5 347.9,160.8 C345.1,161.1 344.4,161.3 341.6,161.6 C338.7,161.9 336.4,162.2 333.7,162.4 C331.0,162.6 330.2,162.1 328.2,162.4 C326.1,162.7 324.7,163.3 323.4,164.0 C322.2,164.7 322.7,164.9 321.8,166.0 C321.0,167.1 320.0,167.9 319.2,169.5 C318.3,171.2 318.0,172.4 317.6,174.2 C317.2,176.1 316.7,176.8 317.1,179.0 C317.5,181.2 317.7,183.1 319.5,185.3 C321.2,187.5 323.3,188.5 325.8,190.0 C328.3,191.6 330.4,191.6 332.1,193.2 C333.9,194.8 334.2,196.6 334.5,197.9 C334.8,199.3 335.0,198.1 333.7,199.7 C332.4,201.4 330.1,203.8 328.2,206.1 C326.3,208.3 326.3,208.3 324.2,210.8 C322.2,213.3 320.1,215.9 317.9,218.7 C315.7,221.5 314.7,222.5 313.2,225.0 C311.6,227.5 311.3,228.8 310.0,231.3 C308.7,233.9 308.1,235.1 306.8,237.7 C305.6,240.2 305.3,241.8 303.7,244.0 C302.1,246.2 300.7,247.1 298.9,248.7 C297.2,250.3 298.9,250.6 295.0,251.9 C291.0,253.1 282.4,275.4 279.2,255.0 C276.0,234.6 272.2,177.0 279.2,150.0 C286.2,123.0 300.9,122.7 314.2,120.0 C327.5,117.3 337.9,132.4 345.5,136.7Z" fill="#BCEE68"/>
<path d="M541.6,150.9 C530.4,156.2 539.3,154.4 538.4,156.9 C537.6,159.3 537.2,160.3 537.3,163.2 C537.5,166.0 537.9,167.9 539.2,171.1 C540.6,174.2 542.1,175.8 544.0,179.0 C545.9,182.1 547.3,183.7 548.7,186.9 C550.1,190.0 550.3,193.2 551.1,194.8 C551.9,196.4 552.7,193.4 552.7,195.0 C552.7,196.6 552.2,199.7 551.1,202.9 C550.0,206.1 548.9,208.0 547.1,210.8 C545.4,213.6 543.7,214.3 542.4,217.1 C541.1,220.0 540.7,221.9 540.5,225.0 C540.3,228.2 540.6,230.1 541.6,232.9 C542.6,235.8 544.0,237.0 545.6,239.2 C547.1,241.4 548.4,241.4 549.5,244.0 C550.6,246.5 550.8,248.4 551.1,251.9 C551.4,255.3 551.4,257.6 551.1,261.4 C550.8,265.1 550.4,267.0 549.5,270.8 C548.6,274.6 547.8,276.8 546.3,280.3 C544.9,283.8 543.7,286.3 542.4,288.2 C541.1,290.1 540.8,288.4 540.0,290.0 C539.2,291.6 539.5,293.5 538.4,296.3 C537.3,299.2 535.6,301.4 534.5,304.2 C533.4,307.1 534.2,307.4 532.9,310.5 C531.6,313.7 530.4,316.2 528.2,320.0 C526.0,323.8 524.1,326.0 521.9,329.5 C519.6,333.0 518.9,334.2 517.1,337.4 C515.4,340.6 514.6,342.1 513.2,345.3 C511.7,348.5 511.4,350.0 510.0,353.2 C508.6,356.4 508.1,358.6 506.1,361.1 C504.0,363.6 502.6,364.1 499.7,365.8 C496.9,367.6 494.7,368.7 491.8,369.8 C489.0,370.9 487.7,371.8 485.5,371.4 C483.3,370.9 480.8,368.0 480.8,367.4 C480.8,366.8 485.4,368.4 485.6,368.2 C485.7,368.0 482.9,366.6 481.6,366.6 C480.4,366.6 480.0,367.1 479.2,368.2 C478.5,369.3 479.2,370.6 477.7,372.1 C476.1,373.7 474.2,374.8 471.3,376.1 C468.5,377.4 466.6,377.5 463.4,378.5 C460.3,379.4 458.6,379.4 455.6,380.8 C452.5,382.3 440.7,381.7 448.4,385.6 C456.2,389.4 465.0,411.1 494.2,400.0 C523.4,388.9 574.2,384.0 594.2,330.0 C614.2,276.0 604.7,165.8 594.2,130.0 C583.7,94.2 552.8,145.5 541.6,150.9Z" fill="#BCEE68"/>
<path d="M517.9,131.3 C516.0,135.5 515.7,141.9 517.1,144.7 C518.5,147.6 522.0,145.5 525.0,145.5 C528.0,145.5 530.0,144.3 532.1,144.5 C534.2,144.8 533.4,147.8 535.4,146.8 C537.5,145.8 544.2,144.1 542.4,139.5 C540.6,134.9 531.5,125.3 526.6,123.7 C521.7,122.1 519.8,127.1 517.9,131.3Z" fill="#BCEE68"/>
<path d="M344.8,329.5 C344.9,327.4 346.8,326.8 348.7,325.5 C350.6,324.3 351.5,323.5 354.2,323.2 C356.9,322.9 359.3,324.1 362.1,324.0 C365.0,323.8 365.6,323.2 368.4,322.4 C371.3,321.6 373.2,320.8 376.3,320.0 C379.5,319.2 381.7,318.3 384.2,318.4 C386.8,318.6 386.9,320.3 389.2,320.8 C391.5,321.3 393.3,321.0 395.5,320.8 C397.7,320.6 399.8,321.4 400.3,320.0 C400.7,318.6 398.2,315.9 397.9,313.7 C397.6,311.5 397.4,310.2 398.7,309.0 C399.9,307.7 402.6,307.2 404.2,307.4 C405.8,307.5 406.4,308.2 406.6,309.7 C406.7,311.3 405.0,313.1 405.0,315.3 C405.0,317.5 405.3,319.4 406.6,320.8 C407.8,322.2 409.3,321.9 411.3,322.4 C413.4,322.9 415.0,323.6 416.8,323.2 C418.7,322.7 419.2,321.9 420.8,320.0 C422.4,318.1 423.2,316.2 424.7,313.7 C426.3,311.2 427.3,309.6 428.7,307.4 C430.1,305.2 430.3,304.8 431.9,302.6 C433.4,300.4 434.7,298.4 436.6,296.3 C438.5,294.3 439.5,294.2 441.3,292.4 C443.2,290.6 442.5,289.8 445.8,287.4 C449.0,285.0 452.9,282.7 457.6,280.3 C462.4,277.9 466.3,276.5 469.5,275.5 C472.7,274.6 472.2,274.8 473.7,275.5 C475.3,276.3 476.2,276.7 477.1,279.1 C477.9,281.5 478.1,284.3 478.0,287.4 C477.9,290.5 477.4,291.9 476.6,294.5 C475.8,297.1 475.9,298.8 474.2,300.4 C472.6,302.1 470.7,301.6 468.3,302.8 C465.9,304.0 464.5,304.7 462.4,306.4 C460.2,308.0 459.3,308.7 457.6,311.1 C456.0,313.5 455.3,314.9 454.1,318.2 C452.9,321.5 452.9,324.4 451.7,327.7 C450.5,331.0 449.3,331.5 448.2,334.8 C447.0,338.1 445.8,340.9 445.8,344.3 C445.8,347.6 447.0,349.0 448.2,351.4 C449.3,353.7 449.6,353.5 451.7,356.1 C453.8,358.7 457.3,361.8 458.7,364.2 C460.1,366.7 459.5,366.6 458.7,368.2 C457.9,369.8 456.2,370.6 454.8,372.1 C453.3,373.7 452.5,374.5 451.6,376.1 C450.7,377.7 450.6,378.2 450.0,380.0 C449.5,381.9 452.1,381.6 448.9,385.6 C445.8,389.6 453.1,401.1 434.2,400.0 C415.3,398.9 365.1,385.4 354.2,380.0 C343.3,374.6 374.0,375.5 379.5,372.9 C385.0,370.4 381.9,369.5 381.9,367.4 C381.9,365.4 380.6,364.6 379.5,362.7 C378.4,360.8 378.2,359.8 376.3,357.9 C374.5,356.0 372.9,355.1 370.0,353.2 C367.2,351.3 365.3,350.7 362.1,348.5 C359.0,346.2 357.1,344.7 354.2,342.1 C351.4,339.6 349.8,338.3 347.9,335.8 C346.0,333.3 344.6,331.5 344.8,329.5Z" fill="#BCEE68"/>
<path d="M303.7,190.0 C309.2,192.2 308.9,189.9 311.6,190.8 C314.3,191.8 315.4,193.0 317.1,194.8 C318.8,196.6 319.8,197.6 320.3,199.7 C320.7,201.8 320.4,203.1 319.5,205.3 C318.5,207.5 317.3,208.7 315.5,210.8 C313.8,212.9 312.1,214.0 310.8,215.5 C309.5,217.1 310.6,217.7 309.2,218.7 C307.8,219.7 306.4,220.0 303.7,220.8 C301.0,221.5 299.7,222.8 295.8,222.6 C291.9,222.5 286.5,228.5 284.2,220.0 C281.9,211.5 280.3,186.0 284.2,180.0 C288.1,174.0 298.2,187.9 303.7,190.0Z" fill="#9ABF32"/>
<path d="M577.9,249.5 C573.6,240.5 574.6,253.0 572.4,255.0 C570.2,257.1 568.6,257.2 566.9,259.8 C565.1,262.3 565.0,264.2 563.7,267.7 C562.5,271.1 561.7,273.4 560.6,277.1 C559.5,280.9 558.7,284.1 558.2,286.6 C557.7,289.2 558.7,287.4 558.2,290.0 C557.7,292.6 557.1,295.7 555.8,299.5 C554.6,303.3 553.6,305.2 551.9,309.0 C550.1,312.7 549.2,314.6 547.1,318.4 C545.1,322.2 543.8,324.4 541.6,327.9 C539.4,331.4 538.4,333.0 536.1,335.8 C533.7,338.7 532.0,339.6 529.8,342.1 C527.5,344.7 527.4,345.5 525.0,348.5 C522.6,351.5 512.1,350.8 517.9,357.1 C523.7,363.5 538.9,391.4 554.2,380.0 C569.5,368.6 589.5,326.1 594.2,300.0 C598.9,273.9 582.3,258.5 577.9,249.5Z" fill="#9ABF32"/>
<path d="M372.4,329.2 C372.7,327.1 374.3,326.7 376.3,325.5 C378.4,324.3 380.1,323.3 382.7,323.2 C385.2,323.0 386.4,324.2 389.0,324.8 C391.6,325.3 392.9,325.9 395.5,326.0 C398.1,326.2 399.9,324.8 401.8,325.5 C403.7,326.2 403.4,328.2 405.0,329.5 C406.6,330.8 407.7,331.7 409.7,331.9 C411.8,332.0 413.4,331.4 415.3,330.3 C417.2,329.2 417.6,328.2 419.2,326.3 C420.8,324.4 421.6,323.0 423.2,320.8 C424.7,318.6 425.5,317.5 427.1,315.3 C428.7,313.1 429.3,312.0 431.1,309.7 C432.8,307.5 433.7,306.4 435.8,304.2 C437.9,302.0 439.1,300.6 441.3,298.7 C443.5,296.8 444.0,295.8 446.9,294.7 C449.7,293.6 452.5,293.6 455.6,293.2 C458.6,292.7 460.0,292.4 461.9,292.4 C463.8,292.3 464.7,291.7 465.0,292.8 C465.3,293.9 464.6,295.6 463.4,297.9 C462.3,300.2 461.1,301.7 459.5,304.2 C457.9,306.7 456.8,308.0 455.6,310.5 C454.3,313.1 454.0,314.0 453.2,316.9 C452.4,319.7 452.5,321.6 451.6,324.8 C450.7,327.9 449.7,329.8 448.4,332.7 C447.2,335.5 446.4,336.4 445.3,339.0 C444.2,341.5 443.5,342.4 442.9,345.3 C442.3,348.1 442.8,350.7 442.1,353.2 C441.5,355.7 441.2,356.5 439.8,357.9 C438.3,359.4 436.7,360.0 435.0,360.3 C433.4,360.6 432.8,360.9 431.5,359.5 C430.3,358.1 430.4,354.3 428.7,353.2 C427.0,352.1 424.9,352.7 423.2,354.0 C421.4,355.2 421.3,357.8 420.0,359.5 C418.7,361.2 418.3,361.6 416.8,362.7 C415.4,363.8 414.3,363.8 412.9,365.0 C411.5,366.3 410.7,366.9 409.7,369.0 C408.8,371.0 408.6,372.6 408.2,375.3 C407.7,378.0 408.9,381.2 407.4,382.4 C405.9,383.7 402.2,384.0 400.6,381.6 C399.0,379.3 400.2,374.4 399.5,370.6 C398.8,366.8 398.4,365.8 397.1,362.7 C395.8,359.5 394.7,357.6 393.1,354.8 C391.6,352.0 389.7,349.7 389.2,348.8 C388.7,347.8 391.2,350.7 390.6,350.0 C389.9,349.3 388.0,347.2 385.8,345.3 C383.6,343.4 381.7,342.4 379.5,340.6 C377.3,338.7 376.2,338.1 374.8,335.8 C373.3,333.5 372.1,331.2 372.4,329.2Z" fill="#9ABF32"/>
<path d="M302.9,197.4 C306.7,198.3 307.2,199.6 308.4,201.3 C309.7,203.1 309.5,203.5 309.2,206.1 C308.9,208.6 307.9,211.4 306.8,214.0 C305.7,216.5 305.6,217.3 303.7,218.7 C301.8,220.1 300.2,220.6 297.4,221.1 C294.5,221.5 291.0,226.0 289.5,221.1 C287.9,216.2 286.8,201.3 289.5,196.6 C292.1,191.8 299.1,196.4 302.9,197.4Z" fill="#F5E6BE"/>
<path d="M413.7,337.4 C414.4,335.7 415.1,336.4 416.8,335.8 C418.6,335.2 420.3,335.0 422.4,334.2 C424.4,333.4 425.7,333.1 427.1,331.9 C428.5,330.6 428.5,330.0 429.5,327.9 C430.4,325.9 430.7,324.0 431.9,321.6 C433.0,319.2 433.6,318.1 435.0,316.1 C436.4,314.0 437.4,312.9 439.0,311.3 C440.5,309.7 441.3,309.0 442.9,308.2 C444.5,307.4 445.7,307.1 446.9,307.4 C448.1,307.7 448.7,308.2 448.9,309.7 C449.1,311.3 448.5,312.9 448.0,315.3 C447.4,317.6 446.9,319.1 446.1,321.6 C445.2,324.1 444.8,325.4 443.7,327.9 C442.6,330.4 442.0,331.9 440.5,334.2 C439.1,336.6 438.3,338.0 436.6,339.8 C434.9,341.5 433.9,342.0 431.9,342.9 C429.8,343.9 428.5,343.7 426.3,344.5 C424.1,345.3 422.8,346.2 420.8,346.9 C418.7,347.5 417.6,348.1 416.1,347.7 C414.5,347.2 413.7,346.6 413.2,344.5 C412.7,342.4 413.0,339.1 413.7,337.4Z" fill="#F5E6BE"/>
<path d="M575.9,269.2 C574.0,268.6 574.7,268.6 574.0,270.8 C573.3,273.0 573.1,276.5 572.4,280.3 C571.7,284.1 570.2,286.6 570.5,289.8 C570.8,292.9 571.4,299.3 574.0,296.1 C576.6,292.9 583.1,279.4 583.5,274.0 C583.8,268.6 577.8,269.9 575.9,269.2Z" fill="#F5E6BE"/>
<path d="M394.2,131.6 C393.5,133.6 391.0,138.5 389.0,142.7 C387.0,146.8 386.1,149.0 384.2,152.1 C382.4,155.3 381.7,156.4 379.5,158.5 C377.3,160.5 376.0,161.0 373.2,162.4 C370.3,163.8 368.4,164.8 365.3,165.6 C362.1,166.4 360.9,165.9 357.4,166.4 C353.9,166.8 351.4,167.3 347.9,167.9 C344.4,168.6 342.9,168.6 340.0,169.5 C337.2,170.5 335.3,171.2 333.7,172.7 C332.1,174.1 331.8,175.2 332.1,176.6 C332.4,178.0 333.4,178.7 335.3,179.8 C337.2,180.9 338.7,180.9 341.6,182.1 C344.4,183.4 346.3,184.7 349.5,186.1 C352.7,187.5 354.9,187.8 357.4,189.3 C359.9,190.7 360.9,192.1 362.1,193.2 C363.4,194.4 364.0,193.4 363.7,195.0 C363.4,196.6 362.1,198.8 360.6,201.3 C359.0,203.8 358.3,205.7 355.8,207.6 C353.3,209.5 351.1,209.2 347.9,210.8 C344.8,212.4 342.5,213.3 340.0,215.5 C337.5,217.7 336.7,219.3 335.3,221.9 C333.9,224.4 333.9,225.6 332.9,228.2 C332.0,230.7 332.1,232.4 330.5,234.5 C329.0,236.5 326.7,236.9 325.0,238.4 C323.3,240.0 323.0,240.3 321.8,242.4 C320.7,244.4 320.4,246.2 319.5,248.7 C318.5,251.2 317.9,252.5 317.1,255.0 C316.3,257.6 316.3,259.1 315.5,261.4 C314.7,263.6 314.3,263.9 313.2,266.1 C312.1,268.3 310.8,269.6 310.0,272.4 C309.2,275.3 309.2,277.1 309.2,280.3 C309.2,283.5 309.8,286.3 310.0,288.2 C310.2,290.1 309.4,288.7 310.0,290.0 C310.6,291.3 311.6,292.8 313.2,294.7 C314.7,296.6 316.0,297.6 317.9,299.5 C319.8,301.4 321.1,302.3 322.6,304.2 C324.2,306.1 324.7,307.1 325.8,309.0 C326.9,310.9 327.3,313.1 328.2,313.7 C329.0,314.3 329.4,313.7 330.2,312.1 C331.0,310.5 331.4,308.0 332.1,305.8 C332.8,303.6 332.6,303.0 333.7,301.1 C334.8,299.2 336.1,298.5 337.6,296.3 C339.2,294.1 340.2,291.3 341.6,290.0 C343.0,288.7 343.5,290.6 344.8,289.8 C346.0,289.0 346.3,286.8 347.9,285.8 C349.5,284.9 350.9,284.3 352.7,285.0 C354.4,285.8 355.0,290.1 356.6,289.8 C358.2,289.5 358.8,286.0 360.6,283.5 C362.3,280.9 363.4,279.4 365.3,277.1 C367.2,274.9 368.1,274.1 370.0,272.4 C371.9,270.7 373.0,269.9 374.8,268.5 C376.5,267.0 377.5,265.8 378.7,265.3 C380.0,264.8 380.5,265.0 381.1,266.1 C381.7,267.2 381.4,269.2 381.9,270.8 C382.4,272.4 382.0,273.4 383.5,274.0 C384.9,274.6 386.9,275.6 389.0,274.0 C391.1,272.4 392.0,268.1 393.9,266.1 C395.9,264.0 396.5,264.4 398.7,263.7 C400.9,263.1 402.8,262.6 405.0,262.9 C407.2,263.2 407.8,264.5 409.7,265.3 C411.6,266.1 412.3,266.4 414.5,266.9 C416.7,267.4 418.7,267.2 420.8,267.7 C422.8,268.1 423.5,268.3 424.7,269.2 C426.0,270.2 426.5,270.8 427.1,272.4 C427.7,274.0 427.9,274.9 427.9,277.1 C427.9,279.4 426.8,281.6 427.1,283.5 C427.4,285.4 428.4,286.2 429.5,286.6 C430.6,287.1 431.5,285.4 432.6,285.8 C433.7,286.3 433.9,288.2 435.0,289.0 C436.1,289.8 436.9,289.9 438.2,289.8 C439.4,289.6 439.9,289.0 441.3,288.2 C442.8,287.4 443.5,286.8 445.3,285.8 C447.0,284.9 448.3,284.4 450.0,283.5 C451.8,282.5 452.4,282.4 454.0,281.1 C455.6,279.8 456.3,278.9 457.9,277.1 C459.5,275.4 460.1,274.5 461.9,272.4 C463.6,270.4 464.9,268.3 466.6,266.9 C468.3,265.5 468.8,265.5 470.6,265.3 C472.3,265.1 473.4,265.8 475.3,266.1 C477.2,266.4 478.3,266.2 480.0,266.9 C481.8,267.5 483.5,268.7 484.0,269.2 C484.5,269.8 482.1,267.9 482.5,269.6 C482.9,271.4 484.4,275.1 486.1,277.9 C487.7,280.8 488.7,282.2 490.8,283.8 C492.9,285.5 494.8,284.8 496.7,286.2 C498.6,287.6 498.6,290.9 500.3,290.9 C501.9,290.9 502.9,288.3 505.0,286.2 C507.2,284.1 508.3,282.4 511.0,280.3 C513.6,278.2 516.2,278.4 518.1,275.5 C520.0,272.7 520.2,270.3 520.4,266.1 C520.7,261.8 519.2,258.5 519.2,254.2 C519.2,250.0 520.0,242.4 520.4,244.7 C520.9,247.1 521.5,263.4 521.5,266.1 C521.6,268.8 520.9,261.4 520.6,258.2 C520.3,255.0 519.9,253.5 520.0,250.3 C520.1,247.1 520.5,245.9 521.1,242.4 C521.6,238.9 522.6,236.4 522.6,232.9 C522.6,229.4 522.3,228.2 521.1,225.0 C519.8,221.9 518.4,220.3 516.3,217.1 C514.3,214.0 512.7,212.4 510.8,209.2 C508.9,206.1 508.3,204.2 506.8,201.3 C505.4,198.5 504.0,197.6 503.7,195.0 C503.4,192.4 504.6,191.4 505.3,188.5 C505.9,185.6 506.4,183.4 506.8,180.6 C507.3,177.7 508.0,176.5 507.6,174.2 C507.3,172.0 506.4,171.7 505.3,169.5 C504.2,167.3 503.1,166.0 502.1,163.2 C501.2,160.3 501.2,158.8 500.5,155.3 C499.9,151.8 499.4,149.3 498.9,145.8 C498.5,142.3 498.6,141.1 498.2,137.9 C497.7,134.8 497.5,132.9 496.6,130.0 C495.6,127.2 495.0,125.8 493.4,123.7 C491.8,121.6 490.9,120.7 488.7,119.7 C486.5,118.8 483.3,118.5 482.4,119.0 C481.4,119.4 484.9,120.5 484.0,122.1 C483.0,123.7 480.2,125.1 477.7,126.9 C475.1,128.6 474.2,129.2 471.3,130.8 C468.5,132.4 466.6,133.3 463.4,134.8 C460.3,136.2 459.0,137.0 455.6,137.9 C452.1,138.9 449.9,139.0 446.1,139.5 C442.3,140.0 440.4,140.3 436.6,140.3 C432.8,140.3 430.6,140.1 427.1,139.5 C423.6,138.9 422.1,138.5 419.2,137.1 C416.4,135.7 415.1,134.0 412.9,132.4 C410.7,130.8 410.4,130.2 408.2,129.2 C405.9,128.3 404.0,127.8 401.8,127.6 C399.6,127.5 399.0,127.5 397.1,128.4 C395.2,129.4 392.9,131.8 392.4,132.4 C391.8,133.0 394.9,129.5 394.2,131.6Z" fill="#B0E0E6"/>
<path d="M389.0,315.3 C386.8,315.3 386.5,313.4 384.2,313.7 C382.0,314.0 380.1,315.9 377.9,316.9 C375.7,317.8 375.1,317.8 373.2,318.4 C371.3,319.1 370.3,320.6 368.4,320.0 C366.6,319.4 365.9,317.0 363.7,315.3 C361.5,313.5 359.4,312.8 357.4,311.3 C355.4,309.8 353.6,310.1 353.9,307.7 C354.2,305.3 356.9,300.9 359.0,299.5 C361.1,298.1 361.0,300.4 364.5,300.7 C368.0,301.1 372.7,301.9 376.3,301.1 C380.0,300.2 380.1,297.9 382.7,296.3 C385.2,294.7 386.5,294.1 389.0,293.2 C391.5,292.2 394.0,287.5 395.3,291.6 C396.6,295.7 396.6,309.0 395.3,313.7 C394.0,318.4 391.2,315.3 389.0,315.3Z" fill="#B0E0E6"/>
<path d="M363.4,313.5 C362.9,310.9 362.5,309.2 362.9,306.4 C363.3,303.5 363.4,302.1 365.3,299.3 C367.2,296.4 369.1,294.8 372.4,292.2 C375.7,289.5 378.6,288.4 381.9,286.2 C385.2,284.1 386.1,283.2 389.0,281.5 C391.8,279.8 393.3,278.6 396.1,277.9 C398.8,277.3 400.8,277.1 402.7,278.4 C404.6,279.7 405.2,281.8 405.6,284.6 C406.0,287.3 405.6,289.2 404.6,292.2 C403.7,295.1 402.5,296.9 400.8,299.3 C399.1,301.6 398.5,302.5 396.1,304.0 C393.7,305.5 391.8,306.0 389.0,306.8 C386.1,307.7 384.5,307.4 381.9,308.3 C379.3,309.1 378.3,309.4 376.0,311.1 C373.6,312.9 372.2,315.4 370.0,317.0 C367.9,318.7 366.6,320.1 365.3,319.4 C364.0,318.7 363.9,316.1 363.4,313.5Z" fill="#B0E0E6"/>
<path d="M418.4,306.6 C419.1,305.6 420.8,304.7 421.6,305.0 C422.4,305.3 422.7,306.9 422.4,308.2 C422.1,309.4 420.8,311.0 420.0,311.3 C419.2,311.6 418.7,310.7 418.4,309.7 C418.1,308.8 417.8,307.5 418.4,306.6Z" fill="#B0E0E6"/>
<path d="M409.7,315.3 C410.3,314.5 411.8,313.5 412.9,313.7 C414.0,313.9 415.3,315.1 415.3,316.1 C415.3,317.0 413.9,318.1 412.9,318.4 C411.9,318.8 410.7,318.3 410.1,317.6 C409.4,317.0 409.2,316.1 409.7,315.3Z" fill="#B0E0E6"/>
<path d="M456.5,313.5 C458.1,311.1 459.5,310.4 462.4,308.7 C465.2,307.1 467.4,306.1 470.7,305.2 C474.0,304.2 475.9,303.7 479.0,304.0 C482.0,304.2 483.6,304.5 486.1,306.4 C488.5,308.2 489.2,310.6 491.3,313.5 C493.4,316.3 495.2,317.5 496.7,320.6 C498.3,323.6 499.8,326.7 499.1,328.9 C498.4,331.0 495.8,330.3 493.2,331.2 C490.6,332.2 488.7,332.4 486.1,333.6 C483.5,334.8 482.5,335.7 480.1,337.2 C477.8,338.6 476.6,339.3 474.2,340.7 C471.9,342.1 470.9,342.8 468.3,344.3 C465.7,345.7 464.0,347.3 461.2,347.8 C458.3,348.3 456.0,348.3 454.1,346.6 C452.2,345.0 451.9,342.8 451.7,339.5 C451.5,336.2 452.4,333.8 452.9,330.0 C453.4,326.3 453.4,323.9 454.1,320.6 C454.8,317.3 454.8,315.8 456.5,313.5Z" fill="#B0E0E6"/>
<path d="M479.2,305.8 C481.1,302.8 482.0,305.3 483.9,306.6 C485.8,307.9 486.8,309.9 488.7,312.1 C490.6,314.3 491.5,315.4 493.4,317.6 C495.3,319.9 496.9,321.0 498.2,323.2 C499.4,325.4 500.4,327.4 499.7,328.7 C499.1,330.0 497.2,329.7 495.0,329.5 C492.8,329.3 490.9,327.8 488.7,327.9 C486.5,328.1 485.8,329.5 483.9,330.3 C482.0,331.1 481.1,333.6 479.2,331.9 C477.3,330.1 474.5,326.8 474.5,321.6 C474.5,316.4 477.3,308.8 479.2,305.8Z" fill="#B0E0E6"/>
<path d="M495.0,289.2 C496.1,288.6 500.2,288.4 501.3,289.2 C502.4,290.0 501.6,292.5 500.5,293.2 C499.4,293.8 496.9,293.2 495.8,292.4 C494.7,291.6 493.9,289.8 495.0,289.2Z" fill="#B0E0E6"/>
<path d="M466.6,324.0 C467.1,322.4 467.8,321.9 469.0,321.6 C470.2,321.3 471.8,321.3 472.6,322.4 C473.4,323.5 473.2,325.4 472.9,327.1 C472.7,328.9 471.8,329.3 471.3,331.1 C470.9,332.8 470.2,334.4 470.6,335.8 C470.9,337.2 472.8,336.9 472.9,338.2 C473.1,339.4 472.3,340.9 471.3,342.1 C470.4,343.4 469.1,344.8 468.2,344.5 C467.2,344.2 467.1,342.3 466.6,340.6 C466.1,338.8 465.8,338.0 465.8,335.8 C465.8,333.6 466.5,331.9 466.6,329.5 C466.8,327.1 466.1,325.5 466.6,324.0Z" fill="#20B2AA"/>
<path d="M469.0,346.9 C469.8,345.0 470.7,344.0 472.1,343.7 C473.6,343.4 474.8,344.0 476.1,345.3 C477.4,346.6 478.1,347.8 478.5,350.0 C478.8,352.2 478.3,354.1 477.7,356.4 C477.0,358.6 476.6,359.8 475.3,361.1 C474.0,362.4 472.6,363.0 471.3,362.7 C470.1,362.4 469.6,361.4 469.0,359.5 C468.3,357.6 468.2,355.7 468.2,353.2 C468.2,350.7 468.2,348.8 469.0,346.9Z" fill="#BCEE68"/>
<path d="M422.4,367.4 C422.8,366.5 424.3,366.5 425.5,365.8 C426.8,365.2 427.6,363.9 428.7,364.2 C429.8,364.6 430.7,365.8 431.1,367.4 C431.4,369.0 430.9,370.3 430.6,372.1 C430.3,374.0 430.2,376.1 429.5,376.9 C428.8,377.7 428.1,376.7 427.1,376.1 C426.2,375.5 425.5,374.8 424.7,373.7 C424.0,372.6 423.6,371.8 423.2,370.6 C422.7,369.3 421.9,368.4 422.4,367.4Z" fill="#20B2AA"/>
<path d="M427.1,357.9 C427.5,356.8 429.1,357.0 430.0,357.6 C430.8,358.2 431.4,359.8 431.5,361.1 C431.7,362.4 431.3,363.8 430.6,364.2 C429.9,364.7 428.6,364.7 427.9,363.5 C427.2,362.2 426.7,359.1 427.1,357.9Z" fill="#20B2AA"/>
<path d="M434.2,170.3 C434.8,168.8 435.2,167.9 436.6,168.2 C438.0,168.6 440.7,170.5 441.3,171.9 C442.0,173.2 440.4,173.5 439.8,175.0 C439.1,176.6 439.1,178.8 438.2,179.8 C437.2,180.7 435.9,180.6 435.0,179.8 C434.2,179.0 434.1,177.7 433.9,175.8 C433.7,173.9 433.7,171.8 434.2,170.3Z" fill="#789BF2"/>
<path d="M433.1,181.4 C433.4,180.9 435.1,180.2 435.8,180.3 C436.5,180.3 436.9,181.4 436.6,181.8 C436.3,182.3 434.9,182.6 434.2,182.5 C433.5,182.4 432.8,181.8 433.1,181.4Z" fill="#789BF2"/>
<circle cx="436.2" cy="245.2" r="7" fill="#fff"/><g transform="translate(294.2,0)"><path d="M26.9,163.2 L29.2,160.8 L32.4,159.7 L34.0,161.6 L37.9,162.4 L42.7,160.8 L47.4,160.8 L49.8,162.4 L47.4,164.8 L52.1,164.8 L56.9,163.2 L60.8,164.0 L63.2,166.4 L64.8,168.7 L61.6,166.4 L58.5,165.6 L66.4,164.8 L74.2,164.0 L80.6,162.4 L85.3,160.0 L88.5,158.5 L90.8,159.2 L93.2,157.7 L94.0,153.7 L92.4,151.3 L90.8,152.9 L89.3,156.1 L88.5,158.5" fill="none" stroke="#000" stroke-width="1.15" stroke-linejoin="round" stroke-linecap="round"/><path d="M90.0,145.8 L92.4,142.7 L93.2,145.8 L91.6,149.0 L94.8,147.4 L96.4,141.1 L98.7,134.8 L100.0,134.0" fill="none" stroke="#000" stroke-width="1.15" stroke-linejoin="round" stroke-linecap="round"/><path d="M41.1,157.7 L47.4,158.5 L50.2,160.0 L47.4,160.8Z" fill="none" stroke="#000" stroke-width="1.15" stroke-linejoin="round" stroke-linecap="round"/><path d="M100.0,191.6 L94.8,192.4 L92.4,194.8 L91.6,200.0" fill="none" stroke="#000" stroke-width="1.15" stroke-linejoin="round" stroke-linecap="round"/><path d="M95.0,149.0 L96.3,141.1 L99.7,134.0 L104.5,129.2 L110.0,125.0 L106.8,130.0 L102.1,135.1 L100.1,140.3 L101.0,144.2 L104.5,143.0 L107.6,144.5 L110.8,146.1 L113.2,148.2 L115.5,147.4 L117.1,150.6 L117.1,155.3 L114.0,157.7 L112.7,160.8 L114.7,163.2 L118.7,160.8 L122.6,161.6 L124.2,164.0 L121.9,166.4 L117.9,167.1 L117.1,169.5 L120.3,171.1 L124.2,173.5 L122.6,176.6 L118.7,180.6 L117.1,185.3 L110.8,187.7 L104.5,190.0 L99.7,191.6 L95.0,193.2" fill="none" stroke="#000" stroke-width="1.15" stroke-linejoin="round" stroke-linecap="round"/><path d="M112.1,122.1 L114.7,119.0 L117.1,117.1 L117.6,118.6 L115.2,121.3 L112.7,123.4Z" fill="none" stroke="#000" stroke-width="1.15" stroke-linejoin="round" stroke-linecap="round"/><path d="M125.0,154.8 L127.4,154.2 L129.0,155.3 L126.6,155.9Z" fill="none" stroke="#000" stroke-width="1.15" stroke-linejoin="round" stroke-linecap="round"/><path d="M116.3,144.9 L118.7,144.5 L119.0,145.8 L116.8,146.1Z" fill="none" stroke="#000" stroke-width="1.15" stroke-linejoin="round" stroke-linecap="round"/><path d="M195.0,119.7 L191.4,122.1 L186.6,125.3 L183.5,129.2 L180.3,128.4 L178.7,131.6 L176.4,133.2 L177.1,137.1 L174.0,139.5 L173.2,142.7 L169.2,144.2 L164.5,145.0 L159.8,143.4 L155.8,146.6 L150.3,149.0 L144.0,150.6 L142.4,153.7 L144.8,156.1 L145.6,158.5 L142.4,160.0 L140.8,163.2 L139.2,160.8 L136.1,160.0 L132.1,158.1 L129.8,160.8 L128.2,164.0 L130.5,166.4 L134.5,167.1 L137.7,170.3 L140.8,172.7 L145.6,175.8 L149.5,177.4 L153.5,176.6 L155.0,174.2 L156.6,177.4 L161.4,179.0 L164.5,180.6 L166.9,183.7 L170.8,186.9 L172.4,190.8 L174.0,194.8 L177.1,197.9 L180.3,200.0" fill="none" stroke="#000" stroke-width="1.15" stroke-linejoin="round" stroke-linecap="round"/><path d="M195.0,134.0 L189.8,137.9 L183.5,142.7 L177.1,146.6 L170.8,150.6 L167.4,154.5 L172.4,152.9 L175.6,150.6 L177.1,154.5 L183.5,153.7 L188.2,149.8 L191.4,150.6 L195.0,152.9" fill="none" stroke="#000" stroke-width="1.15" stroke-linejoin="round" stroke-linecap="round"/><path d="M139.7,180.9 L141.6,179.9 L142.9,181.2 L141.1,182.1Z" fill="none" stroke="#000" stroke-width="1.15" stroke-linejoin="round" stroke-linecap="round"/><path d="M185.0,126.9 L189.7,122.9 L194.5,119.7 L197.3,119.0 L200.8,117.7" fill="none" stroke="#000" stroke-width="1.15" stroke-linejoin="round" stroke-linecap="round"/><path d="M197.3,119.0 L196.1,123.7 L193.7,131.6 L191.3,137.9 L186.6,142.7 L185.0,143.4" fill="none" stroke="#000" stroke-width="1.15" stroke-linejoin="round" stroke-linecap="round"/><path d="M185.0,149.0 L188.2,149.8 L192.1,151.3 L193.7,154.5 L196.8,155.3 L200.8,157.7 L207.1,160.8 L213.4,160.0 L219.8,158.8 L226.1,157.7 L228.4,158.5 L228.4,155.3 L229.2,152.9 L226.9,151.3 L224.5,152.1 L222.9,149.0 L222.1,145.8 L219.8,145.0 L217.9,146.6 L219.8,142.7 L222.9,137.9 L224.5,132.1" fill="none" stroke="#000" stroke-width="1.15" stroke-linejoin="round" stroke-linecap="round"/><path d="M222.9,144.7 L225.3,135.5 L226.4,133.5 L230.8,136.3 L226.9,140.3Z" fill="none" stroke="#000" stroke-width="1.15" stroke-linejoin="round" stroke-linecap="round"/><path d="M3.2,224.2 L7.1,222.6 L11.8,221.1 L15.5,220.3 L15.0,223.1 L11.1,224.2 L7.1,225.3 L3.5,225.8Z" fill="none" stroke="#000" stroke-width="1.15" stroke-linejoin="round" stroke-linecap="round"/><path d="M3.9,228.2 L8.7,226.6 L13.4,225.3 L16.6,225.8 L15.8,228.2 L11.1,229.0 L6.3,230.1Z" fill="none" stroke="#000" stroke-width="1.15" stroke-linejoin="round" stroke-linecap="round"/><path d="M40.8,206.1 L42.3,208.4 L43.4,211.6 L41.4,212.1 L39.5,210.8 L40.3,208.4Z" fill="none" stroke="#000" stroke-width="1.15" stroke-linejoin="round" stroke-linecap="round"/><path d="M52.1,200.5 L53.7,202.9 L56.1,205.3 L55.3,208.4 L53.7,210.0 L53.4,214.0 L52.1,211.6 L50.9,207.6 L51.3,203.7Z" fill="none" stroke="#000" stroke-width="1.15" stroke-linejoin="round" stroke-linecap="round"/><path d="M28.4,219.0 L30.8,220.3 L33.5,222.6 L32.4,223.4 L30.0,221.9 L28.1,220.3Z" fill="none" stroke="#000" stroke-width="1.15" stroke-linejoin="round" stroke-linecap="round"/><path d="M70.3,198.9 L71.9,201.3 L74.2,198.9 L73.5,202.9 L72.7,206.8 L71.1,205.3 L69.5,206.1 L68.7,202.1Z" fill="none" stroke="#000" stroke-width="1.15" stroke-linejoin="round" stroke-linecap="round"/><path d="M7.9,268.5 L10.3,265.3 L13.4,263.7 L17.4,262.1 L20.5,259.8 L22.1,255.8 L23.7,251.1 L26.1,247.1 L27.6,243.2 L28.4,240.8 L31.6,239.2 L35.5,236.9 L38.7,236.9 L41.9,238.4 L45.0,240.8 L47.4,243.2 L49.8,246.3 L51.3,248.7 L54.5,249.5 L57.7,250.3 L60.8,250.0 L61.6,251.9 L59.2,252.7 L57.7,255.0 L55.3,257.4 L52.9,259.0 L51.3,256.6 L50.2,253.5 L52.1,251.1" fill="none" stroke="#000" stroke-width="1.15" stroke-linejoin="round" stroke-linecap="round"/><path d="M7.9,268.5 L11.8,270.8 L17.4,269.2 L20.5,268.5 L25.3,270.8 L29.2,272.4 L33.2,270.0 L36.3,266.9 L41.1,266.1 L45.8,265.3 L49.0,266.1 L50.6,269.2 L49.8,274.0 L47.4,278.7 L44.2,282.7 L41.9,285.8 L40.3,288.2 L43.4,289.8 L47.4,289.0 L49.0,291.4 L47.4,295.0" fill="none" stroke="#000" stroke-width="1.15" stroke-linejoin="round" stroke-linecap="round"/><path d="M55.3,264.5 L58.5,262.9 L61.6,264.5 L63.2,266.9 L60.8,269.2 L58.5,268.5 L57.7,271.6 L56.1,274.0 L54.5,277.1 L54.5,283.5 L56.1,285.0 L57.7,281.1 L59.2,277.9 L60.8,280.3 L62.4,283.5 L64.0,280.3 L65.6,277.1 L67.1,280.3 L68.7,283.5 L71.1,281.9 L72.7,278.7 L73.5,274.0 L75.8,271.6 L79.0,269.2 L81.4,266.9 L82.9,262.9 L84.5,259.8 L86.1,257.4 L86.9,255.0 L85.3,252.7 L82.9,253.5 L81.4,255.8 L79.0,257.4 L76.6,258.2 L75.0,255.8 L73.5,253.5 L71.9,255.8 L69.5,256.6 L66.4,255.8 L63.2,255.0 L62.4,257.4" fill="none" stroke="#000" stroke-width="1.15" stroke-linejoin="round" stroke-linecap="round"/><path d="M74.2,195.0 L75.8,199.7 L79.0,202.1 L82.1,199.7 L86.1,197.4 L90.0,195.0" fill="none" stroke="#000" stroke-width="1.15" stroke-linejoin="round" stroke-linecap="round"/><path d="M70.3,215.5 L72.7,212.4 L75.8,214.0 L79.0,211.6 L82.1,210.0 L85.3,210.8 L88.5,209.2 L92.4,210.0 L94.8,213.2 L93.2,217.1 L90.0,218.7 L88.5,221.9 L90.8,224.2 L88.5,226.6 L85.3,225.8 L82.1,228.2 L79.0,226.6 L75.8,228.2 L73.5,225.8 L71.1,223.4 L71.9,219.5Z" fill="none" stroke="#000" stroke-width="1.15" stroke-linejoin="round" stroke-linecap="round"/><path d="M67.9,230.5 L71.1,229.0 L75.0,230.5 L79.0,229.8 L82.1,232.1 L80.6,235.3 L77.4,236.9 L74.2,236.1 L71.9,238.4 L68.7,236.9 L66.4,234.5Z" fill="none" stroke="#000" stroke-width="1.15" stroke-linejoin="round" stroke-linecap="round"/><path d="M82.1,232.9 L86.1,232.1 L88.5,234.5 L87.7,238.4 L85.3,240.8 L82.1,240.0 L81.4,236.9Z" fill="none" stroke="#000" stroke-width="1.15" stroke-linejoin="round" stroke-linecap="round"/><path d="M88.5,210.0 L91.6,210.8 L94.8,210.0 L97.9,212.4 L100.0,215.5" fill="none" stroke="#000" stroke-width="1.15" stroke-linejoin="round" stroke-linecap="round"/><path d="M65.6,247.1 L69.5,244.0 L74.2,242.4 L79.0,240.8 L82.9,242.4 L86.1,245.6 L83.7,248.7 L79.8,250.3 L75.8,249.5 L71.9,251.1 L67.9,250.3Z" fill="none" stroke="#000" stroke-width="1.15" stroke-linejoin="round" stroke-linecap="round"/><path d="M88.5,242.4 L91.6,240.8 L94.8,242.4 L96.4,247.1 L94.8,251.9 L91.6,254.2 L89.3,251.1 L90.0,247.1Z" fill="none" stroke="#000" stroke-width="1.15" stroke-linejoin="round" stroke-linecap="round"/><path d="M93.2,223.4 L96.4,221.9 L100.0,222.6" fill="none" stroke="#000" stroke-width="1.15" stroke-linejoin="round" stroke-linecap="round"/><path d="M92.4,231.3 L95.6,229.0 L100.0,229.8" fill="none" stroke="#000" stroke-width="1.15" stroke-linejoin="round" stroke-linecap="round"/><path d="M94.8,236.1 L97.9,234.5 L100.0,235.3" fill="none" stroke="#000" stroke-width="1.15" stroke-linejoin="round" stroke-linecap="round"/><path d="M66.4,262.9 L68.7,261.4 L70.3,263.7 L68.2,265.3Z" fill="none" stroke="#000" stroke-width="1.15" stroke-linejoin="round" stroke-linecap="round"/><path d="M95.0,214.0 L97.4,214.7 L96.6,217.9 L98.9,221.1 L102.1,219.5 L103.7,222.6 L102.9,225.8 L105.3,228.2 L104.5,232.1 L106.8,235.3 L106.1,237.7 L108.4,240.0 L110.8,242.4 L114.0,244.0 L117.1,246.3 L119.5,249.5 L120.3,253.5 L118.7,256.6 L115.5,257.4 L111.6,256.9 L107.6,255.8 L104.5,253.5 L101.3,251.1 L98.2,249.5 L95.0,247.9" fill="none" stroke="#000" stroke-width="1.15" stroke-linejoin="round" stroke-linecap="round"/><path d="M95.0,223.4 L97.4,225.0 L98.9,228.2 L97.4,230.5 L99.7,232.9 L98.2,236.1 L101.3,237.7 L100.5,240.8 L102.9,242.4 L102.1,245.6 L98.9,246.3 L95.8,244.8" fill="none" stroke="#000" stroke-width="1.15" stroke-linejoin="round" stroke-linecap="round"/><path d="M99.7,223.4 L101.6,226.6 L100.5,229.0 L102.6,231.7 L101.3,234.5" fill="none" stroke="#000" stroke-width="1.15" stroke-linejoin="round" stroke-linecap="round"/><path d="M95.0,234.5 L96.9,236.4 L95.8,239.2 L98.2,240.8" fill="none" stroke="#000" stroke-width="1.15" stroke-linejoin="round" stroke-linecap="round"/><path d="M148.7,280.3 L151.1,277.1 L154.2,275.6 L157.4,275.6 L157.9,277.9 L155.8,280.3 L157.4,282.7 L159.5,283.5 L158.2,285.0 L155.8,284.3 L155.3,288.2 L153.5,286.6 L151.1,283.5Z" fill="none" stroke="#000" stroke-width="1.15" stroke-linejoin="round" stroke-linecap="round"/><path d="M164.5,267.7 L166.1,265.3 L167.7,262.9 L166.9,261.4 L168.5,259.8 L170.0,259.0 L170.5,261.4 L169.2,263.7 L168.0,266.1 L166.1,268.5Z" fill="none" stroke="#000" stroke-width="1.15" stroke-linejoin="round" stroke-linecap="round"/><path d="M183.5,262.1 L185.0,261.4 L185.8,265.3 L186.6,270.8 L188.2,275.6 L191.4,280.3 L195.0,283.5" fill="none" stroke="#000" stroke-width="1.15" stroke-linejoin="round" stroke-linecap="round"/><path d="M182.7,262.9 L183.5,269.2 L185.0,275.6 L188.2,281.1 L192.2,285.0 L195.0,286.6" fill="none" stroke="#000" stroke-width="1.15" stroke-linejoin="round" stroke-linecap="round"/><path d="M166.9,202.1 L168.5,200.5 L170.0,202.9 L171.6,205.3 L174.0,204.8 L175.6,206.8 L174.8,210.0 L172.7,210.5 L170.8,208.4 L169.2,206.1 L167.4,204.5Z" fill="none" stroke="#000" stroke-width="1.15" stroke-linejoin="round" stroke-linecap="round"/><path d="M174.8,202.1 L176.4,198.2 L177.9,200.5 L177.1,203.7Z" fill="none" stroke="#000" stroke-width="1.15" stroke-linejoin="round" stroke-linecap="round"/><path d="M177.1,195.0 L181.1,198.2 L183.5,197.4 L186.6,201.3 L188.2,204.5 L190.6,202.9 L191.7,206.8 L189.8,210.0 L187.4,212.4 L188.5,215.5 L190.6,218.7 L192.2,222.6 L193.7,224.2 L191.4,225.8 L188.2,226.6 L185.0,229.0 L184.3,232.1 L186.6,237.7 L188.2,240.8 L190.6,244.8 L192.9,247.9 L195.0,249.5" fill="none" stroke="#000" stroke-width="1.15" stroke-linejoin="round" stroke-linecap="round"/><path d="M181.9,236.4 L180.3,236.1 L177.9,237.7 L175.6,240.0 L173.2,240.8 L171.6,243.2 L174.0,244.8 L177.1,243.2 L179.5,240.8 L181.9,238.4Z" fill="none" stroke="#000" stroke-width="1.15" stroke-linejoin="round" stroke-linecap="round"/><path d="M254.5,204.8 L259.2,203.7 L264.0,204.5 L268.7,207.6 L272.7,212.4 L273.5,214.0 L271.1,210.8 L267.1,207.6 L263.2,206.1 L258.5,205.7 L255.3,206.1Z" fill="none" stroke="#000" stroke-width="1.15" stroke-linejoin="round" stroke-linecap="round"/><path d="M185.0,199.7 L188.2,201.3 L190.5,199.7 L191.3,204.5 L188.9,207.6 L187.4,210.8 L188.9,215.5 L191.3,218.7 L192.1,224.2 L194.5,226.6 L196.8,229.0 L193.7,227.4 L190.5,225.8 L188.2,229.0 L186.6,232.9 L188.9,237.7 L191.3,242.4 L193.7,247.1 L196.8,250.3 L197.6,254.2 L200.8,255.8 L204.0,254.2 L203.2,257.4 L200.0,259.8 L202.4,262.1 L205.5,261.4 L204.7,263.7 L200.8,264.5 L197.6,263.7 L195.3,265.3 L197.6,267.7 L200.8,270.0 L204.0,272.4 L207.1,271.6 L211.1,270.8 L210.3,273.2 L207.1,275.6 L204.7,278.7 L202.4,281.1 L199.2,280.3 L200.8,283.5 L204.0,281.9 L205.5,284.3 L203.2,288.2 L200.8,291.4 L200.0,295.0" fill="none" stroke="#000" stroke-width="1.15" stroke-linejoin="round" stroke-linecap="round"/><path d="M205.5,262.9 L210.3,263.7 L215.0,264.5 L218.2,266.9 L219.4,270.8 L218.2,272.4 L216.6,269.2 L214.2,266.9 L210.3,266.1 L206.3,265.8Z" fill="none" stroke="#000" stroke-width="1.15" stroke-linejoin="round" stroke-linecap="round"/><path d="M185.0,266.1 L186.6,270.8 L188.9,276.4 L192.1,281.1 L196.1,282.7 L196.8,281.1 L193.7,278.7 L190.5,274.0 L188.2,268.5 L185.8,264.5" fill="none" stroke="#000" stroke-width="1.15" stroke-linejoin="round" stroke-linecap="round"/><path d="M195.3,290.6 L196.4,289.8 L197.3,290.9 L196.4,292.0Z" fill="none" stroke="#000" stroke-width="1.15" stroke-linejoin="round" stroke-linecap="round"/><path d="M103.6,256.4 L101.1,259.0 L99.2,262.1 L98.5,265.3 L100.4,268.4 L101.1,271.6 L97.9,274.8 L94.1,277.9 L91.0,280.4 L88.4,282.3 L86.5,284.9 L85.3,287.4 L87.2,288.7 L89.7,286.8 L90.3,284.2 L91.6,283.6 L91.0,286.1 L89.1,288.7 L85.9,290.6 L82.7,290.6" fill="none" stroke="#000" stroke-width="1.15" stroke-linejoin="round" stroke-linecap="round"/><path d="M103.6,256.4 L106.1,257.7 L108.7,257.1 L111.2,259.0 L114.3,258.7 L117.5,259.6 L120.0,260.9 L122.6,261.5 L125.7,261.7 L128.9,262.5 L132.0,264.0 L133.3,267.2 L132.7,269.7 L130.1,270.3 L129.3,268.8 L129.8,272.2 L132.7,272.6 L135.8,273.9 L135.6,276.7 L133.3,278.5 L131.4,281.1 L129.5,284.2 L128.2,286.8 L126.4,288.7 L127.0,290.6 L125.1,292.4 L123.8,295.0 L121.9,297.5 L120.0,299.4 L120.7,296.9 L118.8,300.0 L116.9,302.6 L114.3,304.5 L112.4,305.7 L113.7,303.8 L111.8,306.4 L109.3,309.3 L104.2,310.1 L99.2,310.8" fill="none" stroke="#000" stroke-width="1.15" stroke-linejoin="round" stroke-linecap="round"/><path d="M60.0,267.2 L62.5,265.9 L66.3,264.0 L64.4,261.5 L67.0,260.9 L70.1,263.4 L73.9,261.5 L76.4,258.3 L79.0,256.4 L80.9,253.9 L83.4,252.0 L85.3,249.5 L84.0,246.3 L85.9,243.8 L89.1,242.5 L91.6,244.4 L91.0,247.6 L92.9,250.1 L95.4,252.0 L97.9,252.6 L101.7,252.0 L105.5,250.7 L109.3,251.4 L111.8,248.8 L110.6,245.7 L108.0,243.8 L104.2,243.2" fill="none" stroke="#000" stroke-width="1.15" stroke-linejoin="round" stroke-linecap="round"/><path d="M60.0,283.6 L62.5,280.4 L65.7,277.3 L67.0,279.2 L66.3,283.0 L69.5,283.6 L72.6,281.7 L72.0,277.9 L73.9,274.1 L77.1,271.6 L80.2,269.1 L82.1,265.9 L83.4,262.7 L84.6,260.2 L85.9,257.7 L84.6,255.2" fill="none" stroke="#000" stroke-width="1.15" stroke-linejoin="round" stroke-linecap="round"/><path d="M67.0,262.7 L68.6,262.1 L69.4,263.8 L67.8,264.6Z" fill="none" stroke="#000" stroke-width="1.15" stroke-linejoin="round" stroke-linecap="round"/><path d="M60.0,250.1 L63.8,248.2 L67.6,245.1 L71.4,243.2 L75.2,241.9 L79.0,242.5 L81.5,245.1 L80.2,247.6 L77.7,248.8 L75.2,247.6 L72.6,248.8 L70.1,251.4 L67.6,252.6 L65.1,252.0" fill="none" stroke="#000" stroke-width="1.15" stroke-linejoin="round" stroke-linecap="round"/><path d="M47.4,290.0 L44.2,294.7 L41.4,298.7 L38.7,301.1 L37.6,305.8 L37.1,309.7 L35.5,313.7 L34.0,317.6 L30.8,320.0 L26.9,321.6 L23.7,320.8" fill="none" stroke="#000" stroke-width="1.15" stroke-linejoin="round" stroke-linecap="round"/><path d="M21.3,316.9 L25.3,316.9 L28.4,319.2 L29.2,321.6 L25.3,321.6" fill="none" stroke="#000" stroke-width="1.15" stroke-linejoin="round" stroke-linecap="round"/><path d="M86.1,290.0 L82.1,292.4 L77.4,295.5 L73.5,299.5 L70.3,304.2 L68.7,309.0 L67.9,313.7 L68.7,318.4 L70.3,320.8 L73.5,319.2 L77.4,316.9 L81.4,313.7 L84.5,311.3 L86.9,309.7 L90.8,311.3 L94.8,309.7 L100.0,308.2" fill="none" stroke="#000" stroke-width="1.15" stroke-linejoin="round" stroke-linecap="round"/><path d="M107.6,322.4 L110.0,320.3 L113.2,321.3 L115.5,322.4 L118.7,321.6 L121.9,323.2 L122.6,326.3 L120.3,329.2 L116.3,330.8 L112.4,331.4 L110.0,329.5 L108.4,326.7 L106.8,324.8Z" fill="none" stroke="#000" stroke-width="1.15" stroke-linejoin="round" stroke-linecap="round"/><path d="M129.8,339.9 L131.0,339.4 L131.7,340.6 L130.4,341.3Z" fill="none" stroke="#000" stroke-width="1.15" stroke-linejoin="round" stroke-linecap="round"/><path d="M118.7,376.1 L120.3,372.1 L121.1,369.0 L124.2,367.1 L127.4,365.8 L130.5,367.4 L130.1,371.4 L129.0,375.3 L125.8,377.7 L121.9,378.5Z" fill="none" stroke="#000" stroke-width="1.15" stroke-linejoin="round" stroke-linecap="round"/><path d="M129.0,354.8 L132.1,354.0 L135.3,354.5 L136.4,357.1 L134.5,359.5 L137.3,360.8 L138.0,364.2 L140.0,368.2 L141.6,372.1 L144.3,375.3 L145.9,378.5 L145.6,382.4 L142.4,383.5 L137.7,384.3 L133.7,384.8 L130.5,385.6 L132.9,382.4 L135.3,380.0 L133.7,376.9 L132.1,373.7 L132.9,370.6 L131.7,367.4 L132.6,364.2 L130.5,361.9 L131.7,358.7 L129.4,357.1Z" fill="none" stroke="#000" stroke-width="1.15" stroke-linejoin="round" stroke-linecap="round"/><path d="M195.0,305.8 L189.8,302.6 L183.5,301.1 L178.7,301.8 L174.0,302.6 L170.0,305.0 L166.9,308.2 L164.5,312.1 L162.1,316.1 L160.6,320.0 L161.4,323.2 L159.8,327.9 L157.4,332.7 L155.0,336.6 L152.7,339.8 L151.1,343.7 L150.6,348.5 L152.2,352.4 L154.7,354.8 L157.4,355.1 L159.8,353.2 L161.4,350.8 L163.2,353.2 L164.5,356.4 L166.4,360.3 L167.7,363.5 L169.2,361.1 L170.8,357.9 L173.2,355.6 L174.8,352.4 L173.7,348.5 L172.1,345.3 L172.7,340.6 L171.1,337.4 L172.1,332.7 L173.2,328.7 L174.0,324.0 L176.4,321.6 L178.4,323.2 L177.9,327.1 L176.4,331.1 L175.6,335.0 L177.1,338.2 L180.3,339.8 L183.5,339.0 L187.4,336.6 L191.4,335.8 L195.0,334.2" fill="none" stroke="#000" stroke-width="1.15" stroke-linejoin="round" stroke-linecap="round"/><path d="M159.0,359.5 L159.8,364.2 L158.2,368.2 L160.6,370.6 L159.0,373.7 L155.8,375.3 L153.5,377.7 L151.1,380.8 L148.7,383.2 L146.3,385.6" fill="none" stroke="#000" stroke-width="1.15" stroke-linejoin="round" stroke-linecap="round"/><path d="M161.4,356.4 L163.7,359.5 L164.5,363.5 L162.9,366.6 L160.6,365.8 L159.8,361.9Z" fill="none" stroke="#000" stroke-width="1.15" stroke-linejoin="round" stroke-linecap="round"/><path d="M164.5,367.4 L167.7,368.2 L172.4,367.4 L176.4,365.0 L180.3,363.5 L182.7,360.3 L184.3,356.4 L183.5,353.2 L185.0,349.2 L187.4,350.8 L188.2,347.7 L185.8,345.3 L183.5,343.7 L186.6,340.6 L191.4,337.4 L195.0,335.5" fill="none" stroke="#000" stroke-width="1.15" stroke-linejoin="round" stroke-linecap="round"/><path d="M177.1,350.8 L178.7,350.0 L179.4,352.4 L177.8,353.5Z" fill="none" stroke="#000" stroke-width="1.15" stroke-linejoin="round" stroke-linecap="round"/><path d="M183.5,310.5 L187.4,309.7 L191.4,311.3 L195.0,310.5" fill="none" stroke="#000" stroke-width="1.15" stroke-linejoin="round" stroke-linecap="round"/><path d="M187.4,311.3 L189.8,313.7 L192.9,315.3 L195.0,313.7" fill="none" stroke="#000" stroke-width="1.15" stroke-linejoin="round" stroke-linecap="round"/><path d="M196.1,290.0 L198.4,292.4 L200.0,296.3 L199.2,299.5 L197.6,301.8 L198.4,305.0 L196.1,307.4 L196.8,310.5 L195.3,313.7 L192.1,315.3 L191.3,317.6 L194.5,316.9" fill="none" stroke="#000" stroke-width="1.15" stroke-linejoin="round" stroke-linecap="round"/><path d="M185.0,305.0 L188.2,304.2 L191.3,305.8 L192.1,309.0 L189.7,309.7" fill="none" stroke="#000" stroke-width="1.15" stroke-linejoin="round" stroke-linecap="round"/><path d="M192.1,331.1 L195.3,330.3 L196.8,332.7 L194.5,335.0 L191.6,334.2Z" fill="none" stroke="#000" stroke-width="1.15" stroke-linejoin="round" stroke-linecap="round"/><path d="M185.0,339.0 L188.2,337.4 L192.1,336.6 L193.7,339.0 L189.7,340.6 L186.6,342.1" fill="none" stroke="#000" stroke-width="1.15" stroke-linejoin="round" stroke-linecap="round"/><path d="M185.0,345.3 L187.4,346.1 L188.2,350.0 L185.8,350.8" fill="none" stroke="#000" stroke-width="1.15" stroke-linejoin="round" stroke-linecap="round"/><path d="M198.4,323.5 L199.7,322.9 L200.5,324.4 L199.2,325.4Z" fill="none" stroke="#000" stroke-width="1.15" stroke-linejoin="round" stroke-linecap="round"/><circle cx="134.2" cy="111.4" r="0.9" fill="#000"/><circle cx="158.2" cy="116.3" r="0.9" fill="#000"/><circle cx="13.4" cy="264.5" r="0.9" fill="#000"/><circle cx="26.1" cy="266.9" r="0.9" fill="#000"/><circle cx="47.4" cy="257.4" r="0.9" fill="#000"/><circle cx="46.6" cy="262.9" r="0.9" fill="#000"/></g>
</g>
<circle cx="436.2" cy="245.2" r="140.7" fill="none" stroke="#000" stroke-width="0.9"/>
<g clip-path="url(#cp3)">
<rect x="145" y="550" width="292" height="292" fill="#B22222"/><path d="M277.5,604.1 C279.0,601.4 280.7,600.7 283.1,598.6 C285.4,596.5 286.5,595.3 289.4,593.9 C292.2,592.4 294.1,592.1 297.3,591.5 C300.5,590.9 302.0,591.3 305.2,590.7 C308.4,590.1 309.9,589.9 313.1,588.3 C316.2,586.8 318.1,585.0 321.0,582.8 C323.8,580.6 324.9,579.5 327.3,577.3 C329.7,575.1 330.9,573.6 332.8,571.7 C334.7,569.9 334.7,569.2 336.8,567.8 C338.8,566.4 340.9,565.0 343.1,564.6 C345.3,564.3 341.5,562.4 347.8,566.2 C354.1,570.0 369.4,579.6 374.7,583.6 C379.9,587.5 374.7,584.2 373.9,586.0 C373.1,587.7 372.1,589.6 370.7,592.3 C369.3,595.0 368.2,596.7 366.8,599.4 C365.3,602.1 364.9,603.2 363.6,605.7 C362.3,608.2 362.0,609.7 360.4,612.0 C358.9,614.4 357.9,616.3 355.7,617.6 C353.5,618.8 352.2,618.7 349.4,618.4 C346.5,618.0 344.3,617.1 341.5,616.0 C338.6,614.9 335.9,613.9 335.2,612.8 C334.4,611.7 337.6,611.7 337.6,610.5 C337.6,609.2 336.6,607.5 335.2,606.5 C333.8,605.6 332.4,605.6 330.5,605.7 C328.6,605.9 327.3,606.2 325.7,607.3 C324.1,608.4 324.5,610.1 322.6,611.2 C320.7,612.3 319.1,613.0 316.2,612.8 C313.4,612.7 311.2,611.6 308.4,610.5 C305.5,609.3 304.2,608.4 302.0,607.3 C299.8,606.2 298.6,604.6 297.3,604.9 C296.0,605.2 296.2,606.8 295.7,608.9 C295.2,610.9 294.9,612.7 294.9,615.2 C294.9,617.7 296.2,619.8 295.7,621.5 C295.2,623.2 294.4,623.9 292.6,623.9 C290.7,623.9 288.8,621.7 286.2,621.5 C283.7,621.4 282.1,621.8 279.9,623.1 C277.7,624.4 276.9,625.6 275.2,627.8 C273.4,630.0 272.8,632.3 271.2,634.1 C269.6,636.0 268.4,637.9 267.3,637.3 C266.2,636.7 265.5,633.2 265.7,631.0 C265.9,628.8 266.8,628.5 268.1,626.2 C269.3,624.0 270.4,622.8 272.0,619.9 C273.6,617.1 274.9,615.2 276.0,612.0 C277.1,608.9 276.1,606.8 277.5,604.1Z" fill="#FFB6C1"/>
<path d="M316.2,604.1 C316.6,603.0 318.8,602.2 321.0,601.0 C323.2,599.7 324.9,598.6 327.3,597.8 C329.7,597.0 331.3,596.5 332.8,597.0 C334.4,597.5 335.4,598.6 335.2,600.2 C335.0,601.8 333.9,603.7 332.0,604.9 C330.2,606.2 328.3,606.2 325.7,606.5 C323.2,606.8 321.3,607.0 319.4,606.5 C317.5,606.0 315.9,605.2 316.2,604.1Z" fill="#B22222"/>
<path d="M298.1,594.7 C299.3,594.2 302.5,594.5 305.2,593.9 C307.9,593.2 309.0,592.4 311.5,591.5 C314.0,590.5 315.8,589.8 317.8,589.1 C319.9,588.5 321.3,587.9 321.8,588.3 C322.3,588.8 321.6,590.1 320.2,591.5 C318.8,592.9 317.0,594.2 314.7,595.4 C312.3,596.7 310.7,597.5 308.4,597.8 C306.0,598.1 304.7,597.4 302.8,597.0 C300.9,596.6 299.8,596.4 298.9,595.9 C297.9,595.4 296.8,595.1 298.1,594.7Z" fill="#FF1493"/>
<path d="M337.5,591.5 C337.9,589.6 338.5,587.5 339.9,585.2 C341.3,582.9 342.7,580.8 344.6,580.1 C346.5,579.5 347.2,580.5 349.4,582.0 C351.6,583.5 354.2,585.3 355.7,587.5 C357.2,589.8 357.4,590.9 357.0,593.1 C356.5,595.3 355.0,597.0 353.3,598.6 C351.7,600.2 350.8,601.4 348.6,601.3 C346.4,601.1 344.4,599.1 342.3,597.8 C340.2,596.5 339.0,595.9 338.0,594.7 C337.1,593.4 337.2,593.4 337.5,591.5Z" fill="#FF1493"/>
<path d="M147.8,702.3 C150.3,685.0 152.2,699.8 154.9,697.6 C157.6,695.3 159.0,694.1 161.2,691.2 C163.4,688.4 163.7,686.2 166.0,683.3 C168.2,680.5 169.4,679.2 172.3,677.0 C175.1,674.8 177.0,673.9 180.2,672.3 C183.3,670.7 184.6,670.2 188.1,669.1 C191.5,668.0 193.8,667.4 197.6,666.7 C201.3,666.1 203.6,665.8 207.0,665.6 C210.5,665.5 212.4,665.7 214.9,666.0 C217.5,666.2 218.2,667.2 219.7,666.7 C221.1,666.3 220.4,664.0 222.1,663.7 C223.9,663.4 226.2,664.5 228.5,665.3 C230.7,666.1 231.6,666.4 233.2,667.6 C234.8,668.9 234.9,668.9 236.4,671.6 C237.8,674.3 238.4,677.0 240.3,681.1 C242.2,685.2 242.8,688.3 245.8,692.1 C248.8,695.9 251.5,697.2 255.3,700.0 C259.1,702.9 262.9,700.7 264.8,706.4 C266.7,712.0 267.3,721.5 264.8,728.5 C262.3,735.4 258.4,738.3 252.1,741.1 C245.9,743.9 238.0,740.7 233.5,742.3 C229.0,744.0 230.1,746.6 229.5,749.4 C228.8,752.3 229.4,754.2 230.4,756.5 C231.5,758.9 232.4,759.9 234.7,761.3 C237.0,762.7 238.9,763.0 241.8,763.6 C244.6,764.3 246.3,763.6 248.9,764.4 C251.5,765.1 254.3,765.7 254.8,767.2 C255.3,768.7 253.9,770.5 251.3,771.9 C248.7,773.4 245.3,773.5 241.8,774.3 C238.2,775.2 236.1,775.0 233.5,776.2 C230.9,777.4 230.4,778.2 228.8,780.2 C227.1,782.2 226.0,783.5 225.2,786.2 C224.4,788.8 224.0,790.7 224.7,793.3 C225.4,795.9 226.5,797.4 228.8,799.2 C231.0,801.0 233.0,801.2 235.9,802.3 C238.7,803.4 240.6,802.9 243.0,804.6 C245.3,806.4 246.4,807.6 247.7,811.0 C249.0,814.5 249.1,815.8 249.4,821.7 C249.6,827.6 264.6,836.9 248.9,840.7 C233.2,844.5 192.0,852.0 170.7,840.7 C149.4,829.3 146.8,811.5 142.3,783.8 C137.7,756.1 145.3,719.5 147.8,702.3Z" fill="#FFB6C1"/>
<path d="M144.6,731.2 C147.0,723.1 149.8,729.9 154.1,730.5 C158.4,731.0 161.7,733.1 166.0,734.0 C170.2,735.0 172.6,734.0 175.4,735.2 C178.3,736.4 179.5,737.3 180.2,739.9 C180.9,742.6 179.9,744.7 179.0,748.2 C178.0,751.8 176.6,754.4 175.4,757.7 C174.3,761.0 174.7,762.2 173.1,764.8 C171.4,767.4 173.3,769.6 167.1,770.8 C161.0,771.9 146.8,778.7 142.3,770.8 C137.8,762.8 142.3,739.2 144.6,731.2Z" fill="#B22222"/>
<path d="M182.5,807.5 C183.5,805.1 186.0,804.4 187.3,800.4 C188.6,796.3 187.9,791.7 189.2,787.3 C190.5,783.0 191.5,781.1 193.9,778.6 C196.3,776.1 197.9,774.9 201.0,774.8 C204.2,774.6 206.4,776.4 209.8,777.9 C213.2,779.3 215.0,780.8 218.1,781.9 C221.2,783.0 224.0,781.5 225.2,783.3 C226.4,785.1 223.8,788.0 224.0,790.9 C224.3,793.8 225.2,795.6 226.4,798.0 C227.6,800.4 229.7,800.8 229.9,802.7 C230.2,804.6 229.0,806.1 227.6,807.5 C226.1,808.9 224.7,809.9 222.8,809.9 C220.9,809.9 220.0,807.5 218.1,807.5 C216.2,807.5 215.2,808.4 213.4,809.9 C211.5,811.3 210.5,812.2 208.6,814.6 C206.7,817.0 209.1,822.2 203.9,821.7 C198.7,821.2 186.8,815.1 182.5,812.2 C178.3,809.4 181.6,809.9 182.5,807.5Z" fill="#B22222"/>
<path d="M245.3,840.7 C243.2,836.9 247.0,827.4 247.7,821.7 C248.4,816.0 247.9,815.1 248.9,812.2 C249.8,809.4 250.6,808.0 252.5,807.5 C254.3,807.0 256.2,808.0 258.4,809.9 C260.5,811.7 261.7,814.1 263.1,817.0 C264.5,819.8 265.5,821.2 265.5,824.1 C265.5,826.9 264.5,827.9 263.1,831.2 C261.7,834.5 261.9,838.8 258.4,840.7 C254.8,842.6 247.5,844.5 245.3,840.7Z" fill="#B22222"/>
<path d="M211.9,682.7 C212.5,681.1 213.8,680.0 215.8,679.5 C217.9,679.0 219.6,680.0 222.1,680.3 C224.7,680.6 226.2,681.9 228.5,681.1 C230.7,680.3 232.1,678.5 233.2,676.3 C234.3,674.1 233.3,672.5 234.0,670.0 C234.6,667.5 235.1,665.3 236.4,663.7 C237.6,662.1 238.9,661.6 240.3,662.1 C241.7,662.6 242.7,664.2 243.5,666.1 C244.2,668.0 244.7,669.7 244.2,671.6 C243.8,673.5 242.4,674.0 241.1,675.5 C239.8,677.1 238.2,677.4 237.9,679.5 C237.6,681.5 238.2,683.6 239.5,685.8 C240.8,688.0 242.4,689.0 244.2,690.6 C246.1,692.1 246.8,692.4 249.0,693.7 C251.2,695.0 253.4,695.3 255.3,696.9 C257.2,698.5 258.3,699.7 258.5,701.6 C258.6,703.5 257.7,705.1 256.1,706.4 C254.5,707.6 252.6,707.3 250.6,707.9 C248.5,708.6 247.7,709.5 245.8,709.5 C243.9,709.5 243.0,708.6 241.1,707.9 C239.2,707.3 237.9,707.3 236.4,706.4 C234.8,705.4 234.5,704.3 233.2,703.2 C231.9,702.1 231.6,701.5 230.0,700.8 C228.5,700.2 226.9,699.6 225.3,700.0 C223.7,700.5 222.8,701.3 222.1,703.2 C221.5,705.1 221.7,707.3 222.1,709.5 C222.6,711.7 224.2,712.4 224.5,714.2 C224.8,716.1 224.3,716.8 223.7,719.0 C223.1,721.2 222.3,723.1 221.3,725.3 C220.4,727.5 219.8,728.2 219.0,730.0 C218.2,731.9 218.0,733.5 217.4,734.8 C216.8,736.1 216.4,736.7 215.8,736.4 C215.2,736.1 214.4,735.1 214.2,733.2 C214.1,731.3 215.3,729.1 215.0,726.9 C214.7,724.7 214.1,723.4 212.7,722.1 C211.2,720.9 210.0,721.4 207.9,720.6 C205.9,719.8 203.8,719.6 202.4,718.2 C201.0,716.8 200.5,715.2 200.8,713.5 C201.1,711.7 202.2,710.9 204.0,709.5 C205.7,708.1 207.8,707.6 209.5,706.4 C211.2,705.1 211.4,704.5 212.7,703.2 C213.9,701.9 214.9,701.6 215.8,700.0 C216.8,698.5 217.6,697.2 217.4,695.3 C217.2,693.4 216.0,692.1 215.0,690.6 C214.1,689.0 213.3,689.0 212.7,687.4 C212.0,685.8 211.2,684.2 211.9,682.7Z" fill="#B22222"/>
<path d="M233.2,715.8 C234.3,714.2 236.5,713.6 237.9,714.2 C239.4,714.9 240.3,716.8 240.3,719.0 C240.3,721.2 239.0,722.8 237.9,725.3 C236.8,727.8 236.0,729.7 234.8,731.6 C233.5,733.5 232.4,735.4 231.6,734.8 C230.8,734.2 230.7,731.0 230.8,728.5 C231.0,725.9 231.9,724.7 232.4,722.1 C232.9,719.6 232.1,717.4 233.2,715.8Z" fill="#B22222"/>
<path d="M209.5,712.7 C210.0,711.6 212.5,709.8 214.2,709.5 C216.0,709.2 217.6,710.1 218.2,711.1 C218.8,712.0 218.7,713.5 217.4,714.2 C216.1,715.0 213.4,715.4 211.9,715.0 C210.3,714.7 209.0,713.8 209.5,712.7Z" fill="#FF4500"/>
<path d="M159.2,711.1 C159.2,707.6 159.2,704.5 160.9,700.7 C162.6,696.9 164.7,694.8 167.9,692.0 C171.0,689.2 173.1,688.5 176.5,686.8 C180.0,685.0 181.8,683.7 185.2,683.3 C188.7,683.0 191.1,684.0 193.9,685.0 C196.7,686.1 198.2,686.1 199.1,688.5 C200.0,690.9 199.8,694.8 198.4,697.2 C197.1,699.6 193.8,698.6 192.2,700.7 C190.6,702.8 189.8,704.9 190.4,707.6 C191.1,710.4 193.2,712.2 195.7,714.6 C198.1,717.0 200.9,717.4 202.6,719.8 C204.4,722.2 205.0,724.7 204.4,726.8 C203.7,728.8 202.3,729.7 199.1,730.2 C196.0,730.8 192.5,730.1 188.7,729.5 C184.9,729.0 183.1,728.0 180.0,727.4 C176.9,726.9 175.8,727.6 173.1,726.8 C170.3,725.9 168.6,725.0 166.1,723.3 C163.7,721.5 162.3,720.5 160.9,718.1 C159.5,715.6 159.2,714.6 159.2,711.1Z" fill="#FF1493"/>
<path d="M181.1,690.3 C182.5,687.3 185.8,687.5 188.7,687.8 C191.6,688.2 194.6,689.4 195.7,692.0 C196.7,694.6 195.5,697.9 193.9,700.7 C192.4,703.5 190.4,705.5 188.0,705.9 C185.6,706.2 183.1,705.5 181.8,702.4 C180.4,699.3 179.7,693.2 181.1,690.3Z" fill="#FFB6C1"/>
<path d="M185.2,756.3 C184.9,752.5 185.6,748.3 187.0,744.1 C188.4,740.0 189.4,737.9 192.2,735.4 C195.0,733.0 197.1,733.0 200.9,732.0 C204.7,730.9 207.1,730.2 211.3,730.2 C215.5,730.2 217.9,730.9 221.7,732.0 C225.6,733.0 228.0,733.7 230.4,735.4 C232.9,737.2 233.9,737.9 233.9,740.7 C233.9,743.4 231.5,745.9 230.4,749.3 C229.4,752.8 228.3,754.6 228.7,758.0 C229.0,761.5 232.2,763.9 232.2,766.7 C232.2,769.5 230.8,771.2 228.7,771.9 C226.6,772.6 224.9,771.2 221.7,770.2 C218.6,769.2 216.5,767.1 213.0,766.7 C209.6,766.4 207.8,768.5 204.4,768.5 C200.9,768.5 198.8,767.8 195.7,766.7 C192.5,765.7 190.8,765.3 188.7,763.2 C186.6,761.2 185.6,760.1 185.2,756.3Z" fill="#FF1493"/>
<path d="M399.9,712.6 C400.2,710.9 401.2,710.3 403.1,711.0 C405.0,711.6 409.7,714.0 409.4,715.7 C409.1,717.4 403.4,720.0 401.5,719.4 C399.6,718.7 399.6,714.2 399.9,712.6Z" fill="#FFB6C1"/>
<path d="M414.9,658.8 C414.5,658.0 417.0,656.3 418.1,656.8 C419.2,657.3 421.1,660.8 420.5,661.2 C419.8,661.6 415.4,659.7 414.9,658.8Z" fill="#FFB6C1"/>
<path d="M321.0,559.1 C320.1,563.6 322.6,562.0 323.4,563.8 C324.1,565.7 325.1,566.7 324.9,568.6 C324.8,570.5 324.0,571.6 322.6,573.3 C321.1,575.1 320.4,575.4 317.8,577.3 C315.3,579.2 313.4,580.8 309.9,582.8 C306.5,584.9 304.9,585.8 300.5,587.5 C296.0,589.3 292.6,590.3 287.8,591.5 C283.1,592.7 280.7,593.5 276.8,593.4 C272.8,593.2 270.9,591.8 268.1,590.7 C265.2,589.6 264.9,588.1 262.5,587.7 C260.2,587.3 259.1,587.6 256.2,588.7 C253.4,589.7 250.6,591.8 248.3,592.8 C246.1,593.7 246.6,592.4 244.9,593.4 C243.3,594.4 241.9,596.0 240.2,597.8 C238.5,599.6 237.8,600.7 236.3,602.6 C234.7,604.4 234.2,605.5 232.3,607.3 C230.4,609.1 228.9,609.7 226.8,611.7 C224.6,613.8 222.4,616.2 221.6,617.6 C220.8,618.9 221.4,617.7 222.8,618.4 C224.2,619.0 225.9,620.5 228.5,620.9 C231.2,621.2 233.4,620.7 236.1,619.9 C238.8,619.1 239.5,618.6 241.8,617.1 C244.1,615.5 245.2,614.0 247.5,612.3 C249.7,610.6 251.1,609.5 253.2,608.5 C255.2,607.6 256.4,606.6 257.9,607.6 C259.4,608.5 259.8,611.0 260.7,613.3 C261.7,615.5 262.6,616.7 262.6,619.0 C262.6,621.2 261.9,622.4 260.7,624.6 C259.6,626.9 259.2,628.1 257.0,630.3 C254.7,632.6 252.4,633.9 249.4,636.0 C246.3,638.1 244.8,638.9 241.8,640.8 C238.8,642.7 237.2,644.0 234.2,645.5 C231.2,647.0 230.0,647.5 226.6,648.3 C223.2,649.2 220.6,649.3 217.1,649.7 C213.7,650.0 212.2,651.1 209.6,650.2 C206.9,649.4 206.9,647.0 203.9,645.5 C200.8,644.0 198.2,642.7 194.4,642.7 C190.6,642.7 187.9,644.2 184.9,645.5 C181.9,646.8 181.9,647.0 179.2,649.3 C176.6,651.6 174.3,653.8 171.6,656.9 C169.0,659.9 168.6,661.4 166.0,664.5 C163.3,667.5 161.4,669.8 158.4,672.0 C155.3,674.3 154.6,674.3 150.8,675.8 C147.0,677.3 142.3,704.4 139.4,679.6 C136.6,654.9 137.1,579.6 136.6,552.0 C136.0,524.4 98.3,543.7 136.6,541.6 C174.8,539.5 290.9,538.1 327.7,541.6 C364.6,545.1 321.9,554.7 321.0,559.1Z" fill="#FF4500"/>
<path d="M182.5,646.2 C177.2,647.0 190.4,648.9 194.4,650.2 C198.3,651.4 199.1,651.9 202.3,652.5 C205.5,653.2 207.7,653.6 210.2,653.3 C212.7,653.0 212.7,652.4 214.9,650.9 C217.1,649.5 227.7,647.2 221.2,646.2 C214.8,645.3 187.9,645.4 182.5,646.2Z" fill="#FF4500"/>
<path d="M237.5,655.8 C238.2,654.4 237.0,655.6 238.7,653.4 C240.4,651.3 242.5,647.7 245.8,645.1 C249.1,642.5 251.5,640.9 255.3,640.4 C259.1,639.9 261.4,641.6 264.8,642.8 C268.1,644.0 269.0,646.6 271.9,646.3 C274.7,646.1 276.1,643.2 279.0,641.6 C281.8,639.9 283.2,639.5 286.1,638.0 C288.9,636.6 290.4,635.7 293.2,634.5 C296.0,633.3 297.5,632.1 300.3,632.1 C303.2,632.1 304.6,633.3 307.4,634.5 C310.3,635.7 311.9,636.1 314.5,638.0 C317.1,639.9 318.1,641.8 320.5,644.0 C322.8,646.1 324.0,647.3 326.4,648.7 C328.7,650.1 330.4,649.4 332.3,651.1 C334.2,652.7 334.7,654.4 335.9,657.0 C337.0,659.6 337.0,661.0 338.2,664.1 C339.4,667.2 340.6,669.1 341.8,672.4 C343.0,675.7 343.9,677.4 344.1,680.7 C344.4,684.0 342.7,685.9 343.0,689.0 C343.2,692.1 344.4,692.8 345.3,696.1 C346.3,699.4 346.5,702.3 347.7,705.6 C348.9,708.9 349.4,710.1 351.3,712.7 C353.2,715.3 355.0,716.2 357.2,718.6 C359.3,721.0 360.8,721.7 361.9,724.5 C363.0,727.4 361.7,729.5 362.6,732.8 C363.4,736.2 364.7,738.1 366.1,741.1 C367.5,744.2 367.5,746.3 369.7,748.2 C371.8,750.1 374.2,751.1 376.8,750.6 C379.4,750.1 380.8,747.8 382.7,745.9 C384.6,744.0 384.1,742.3 386.3,741.1 C388.4,739.9 390.5,740.9 393.4,739.9 C396.2,739.0 398.1,738.1 400.5,736.4 C402.9,734.7 403.1,733.5 405.2,731.7 C407.4,729.8 408.8,728.8 411.1,726.9 C413.5,725.0 414.9,724.1 417.1,722.2 C419.2,720.3 419.9,718.1 421.8,717.4 C423.7,716.7 424.2,717.2 426.5,718.6 C428.9,720.0 432.2,706.8 433.7,724.5 C435.1,742.3 445.0,783.3 433.7,807.5 C422.3,831.7 411.9,838.8 376.8,845.4 C341.7,852.0 282.5,843.5 258.1,840.7 C233.7,837.8 255.9,835.0 254.8,830.9 C253.8,826.9 253.6,825.0 252.9,820.5 C252.2,816.0 252.6,812.3 251.3,808.4 C249.9,804.6 248.8,803.2 246.0,801.3 C243.3,799.4 241.0,799.9 237.5,799.0 C234.1,798.0 231.5,797.9 228.7,796.3 C225.9,794.8 224.7,793.9 223.5,791.1 C222.3,788.3 222.3,785.5 222.8,782.4 C223.3,779.2 224.3,777.9 226.1,775.5 C228.0,773.1 229.1,771.7 232.1,770.3 C235.0,768.9 237.0,769.1 240.8,768.4 C244.7,767.7 247.8,768.1 251.3,766.7 C254.7,765.4 258.1,763.3 258.1,761.5 C258.1,759.8 254.4,758.8 251.3,758.0 C248.1,757.1 245.9,757.9 242.5,757.2 C239.0,756.6 236.7,756.6 234.0,754.6 C231.2,752.7 230.0,750.7 228.7,747.5 C227.5,744.4 226.9,742.5 227.6,739.0 C228.2,735.5 230.0,733.4 232.1,730.2 C234.1,727.1 235.7,724.0 238.0,723.4 C240.3,722.7 241.9,727.6 243.4,726.9 C245.0,726.2 244.9,721.9 245.8,719.8 C246.8,717.7 246.8,717.4 248.2,716.2 C249.6,715.0 251.3,715.0 252.9,713.9 C254.6,712.7 256.2,712.0 256.5,710.3 C256.7,708.6 255.3,707.9 254.1,705.6 C252.9,703.2 252.0,701.3 250.5,698.5 C249.1,695.6 248.4,694.2 247.0,691.4 C245.6,688.5 244.6,687.1 243.4,684.2 C242.3,681.4 242.3,679.5 241.1,677.1 C239.9,674.8 238.9,674.3 237.5,672.4 C236.1,670.5 234.4,670.0 234.0,667.7 C233.5,665.3 234.4,662.9 235.1,660.5 C235.9,658.2 236.8,657.2 237.5,655.8Z" fill="#FF4500"/>
<path d="M350.3,781.7 C353.8,779.6 355.6,778.7 358.7,779.6 C361.7,780.4 363.9,782.5 365.6,785.8 C367.4,789.2 367.4,791.7 367.4,796.3 C367.3,800.8 366.4,803.6 365.3,808.4 C364.2,813.3 363.5,815.9 361.8,820.6 C360.1,825.3 359.1,826.9 356.6,831.7 C354.1,836.6 361.5,842.3 349.3,844.9 C337.1,847.6 304.7,848.4 295.4,844.9 C286.2,841.5 300.8,832.6 303.1,827.6 C305.3,822.5 304.6,821.2 306.5,819.9 C308.5,818.7 310.6,821.9 312.8,821.3 C315.0,820.7 315.8,819.2 317.3,817.1 C318.8,815.0 318.4,812.8 320.4,810.9 C322.5,808.9 324.6,809.8 327.4,807.4 C330.2,805.0 331.6,802.5 334.3,799.0 C337.1,795.6 338.1,793.5 341.3,790.0 C344.5,786.5 346.9,783.8 350.3,781.7Z" fill="#B22222"/>
<path d="M366.0,738.2 C369.0,737.1 379.6,736.8 382.6,738.2 C385.6,739.6 381.9,743.1 381.0,745.3 C380.0,747.5 379.7,748.6 377.8,749.3 C375.9,749.9 373.5,749.6 371.5,748.5 C369.4,747.4 368.7,745.8 367.5,743.7 C366.4,741.7 363.0,739.3 366.0,738.2Z" fill="#B22222"/>
<path d="M332.9,638.5 C333.8,636.1 334.8,634.2 336.5,633.8 C338.2,633.3 340.4,634.2 341.2,636.1 C342.1,638.0 341.3,640.6 340.8,643.2 C340.2,645.8 339.5,647.5 338.4,649.2 C337.3,650.8 336.5,652.2 335.3,651.5 C334.1,650.8 332.7,648.2 332.2,645.6 C331.8,643.0 332.1,640.9 332.9,638.5Z" fill="#FF4500"/>
<path d="M364.9,633.8 C365.2,632.3 367.3,630.6 369.7,629.0 C372.0,627.5 376.1,625.2 376.8,625.9 C377.5,626.6 374.9,630.5 373.2,632.6 C371.6,634.6 370.2,635.9 368.5,636.1 C366.8,636.4 364.7,635.2 364.9,633.8Z" fill="#FF4500"/>
<path d="M362.6,694.2 C362.8,692.5 364.9,692.0 367.3,691.8 C369.7,691.6 372.5,691.8 374.4,693.0 C376.3,694.2 377.0,696.1 376.8,697.7 C376.5,699.4 375.4,700.8 373.2,701.3 C371.1,701.8 368.3,701.5 366.1,700.1 C364.0,698.7 362.3,695.8 362.6,694.2Z" fill="#FF4500"/>
<path d="M332.0,638.1 C332.0,636.2 333.1,636.6 334.4,635.7 C335.6,634.9 336.9,633.4 338.3,633.8 C339.7,634.3 341.0,635.8 341.5,638.1 C342.0,640.4 341.3,642.4 340.7,645.2 C340.1,648.0 339.7,650.6 338.3,652.0 C336.9,653.4 334.4,653.4 333.6,652.0 C332.8,650.6 334.7,648.0 334.4,645.2 C334.1,642.4 332.0,640.0 332.0,638.1Z" fill="#FF4500"/>
<path d="M362.6,696.1 C362.6,694.4 364.0,692.6 366.1,691.8 C368.3,691.1 371.1,691.5 373.2,692.6 C375.4,693.6 376.8,695.6 376.8,697.3 C376.8,699.0 375.4,700.2 373.2,700.8 C371.1,701.5 368.3,701.3 366.1,700.4 C364.0,699.4 362.6,697.8 362.6,696.1Z" fill="#FF4500"/>
<path d="M190.4,794.3 C191.4,790.8 191.7,787.8 192.8,784.8 C193.9,781.8 194.2,780.7 196.0,779.3 C197.7,777.9 199.1,777.2 201.5,777.7 C203.9,778.2 205.6,779.6 207.8,781.7 C210.0,783.7 211.0,785.1 212.6,788.0 C214.1,790.8 215.4,792.7 215.7,795.9 C216.0,799.0 215.4,801.2 214.1,803.8 C212.9,806.3 212.1,806.9 209.4,808.5 C206.7,810.1 205.0,812.9 200.7,811.7 C196.4,810.4 190.1,805.7 188.1,802.2 C186.0,798.7 189.5,797.8 190.4,794.3Z" fill="#FF4500"/>
<path d="M311.5,557.1 C308.9,561.0 313.4,559.8 314.7,561.5 C315.9,563.2 316.6,563.7 317.8,565.4 C319.1,567.2 321.3,568.4 321.0,570.2 C320.7,571.9 318.8,572.2 316.2,574.1 C313.7,576.0 311.8,577.6 308.4,579.6 C304.9,581.7 303.0,582.6 298.9,584.4 C294.8,586.1 292.2,587.2 287.8,588.3 C283.4,589.4 280.5,590.1 276.8,589.9 C273.0,589.8 271.5,588.6 268.9,587.5 C266.2,586.5 265.5,585.3 263.3,584.9 C261.1,584.4 260.5,584.7 257.8,585.5 C255.1,586.2 252.6,587.6 249.9,588.7 C247.2,589.7 246.1,589.5 244.2,590.7 C242.2,591.9 241.9,592.8 240.2,594.7 C238.5,596.5 237.2,598.1 235.5,600.2 C233.7,602.2 233.4,603.0 231.5,604.9 C229.6,606.8 228.5,607.9 226.0,609.7 C223.5,611.5 223.0,613.1 218.9,613.9 C214.8,614.7 210.3,614.1 205.5,613.6 C200.6,613.2 198.2,612.3 194.4,611.7 C190.6,611.1 189.8,611.2 186.5,610.8 C183.2,610.4 181.9,608.8 177.8,609.7 C173.7,610.5 174.2,626.7 166.0,615.2 C157.7,603.7 142.4,566.7 136.6,552.0 C130.7,537.3 98.3,543.7 136.6,541.6 C174.8,539.5 292.8,538.5 327.7,541.6 C362.7,544.7 314.1,553.1 311.5,557.1Z" fill="#FFA500"/>
<path d="M158.4,662.6 C158.4,659.5 160.6,656.1 162.2,651.2 C163.7,646.3 164.8,642.5 166.0,637.9 C167.1,633.4 166.3,631.7 167.9,628.4 C169.4,625.2 170.1,623.4 173.5,621.8 C177.0,620.2 180.4,620.6 184.9,620.5 C189.5,620.4 191.7,620.6 196.3,621.2 C200.8,621.9 204.3,622.6 207.7,623.7 C211.1,624.8 212.6,625.0 213.4,626.5 C214.1,628.1 212.8,629.6 211.5,631.3 C210.1,633.0 208.2,633.6 206.7,635.1 C205.2,636.6 203.7,637.0 203.9,638.9 C204.1,640.8 208.0,643.5 207.7,644.5 C207.3,645.6 204.6,644.7 202.0,644.0 C199.3,643.2 197.4,641.4 194.4,640.8 C191.4,640.1 189.5,640.2 186.8,640.8 C184.2,641.3 183.0,641.9 181.1,643.6 C179.2,645.3 178.8,646.6 177.3,649.3 C175.8,651.9 175.4,653.8 173.5,656.9 C171.6,659.9 170.1,662.6 167.9,664.5 C165.6,666.4 164.1,666.7 162.2,666.4 C160.3,666.0 158.4,665.6 158.4,662.6Z" fill="#FFA500"/>
<path d="M218.1,628.4 C218.1,626.9 220.4,626.5 222.8,625.6 C225.3,624.6 227.4,624.5 230.4,623.7 C233.4,622.9 235.3,622.9 238.0,621.8 C240.6,620.7 241.4,619.7 243.7,618.0 C246.0,616.3 247.1,614.8 249.4,613.3 C251.6,611.8 253.2,610.8 255.1,610.4 C257.0,610.0 257.9,610.0 258.8,611.4 C259.8,612.7 260.0,614.8 259.8,617.1 C259.6,619.3 259.0,620.5 257.9,622.7 C256.8,625.0 256.0,626.4 254.1,628.4 C252.2,630.5 250.9,631.7 248.4,633.2 C246.0,634.7 244.4,635.3 241.8,636.0 C239.1,636.8 237.8,637.0 235.2,637.0 C232.5,637.0 231.0,636.8 228.5,636.0 C226.1,635.3 224.9,634.7 222.8,633.2 C220.7,631.7 218.1,630.0 218.1,628.4Z" fill="#FFA500"/>
<path d="M239.2,657.4 C238.0,659.5 236.9,662.1 236.7,663.9 C236.5,665.7 237.1,669.0 237.8,670.7 C238.5,672.4 241.3,674.9 242.2,676.6 C243.1,678.4 242.5,679.3 244.5,683.8 C246.6,688.3 256.4,706.3 257.7,710.4 C258.9,714.6 254.8,713.9 253.7,714.8 C252.5,715.7 249.9,716.4 249.0,717.2 C248.1,717.9 247.5,718.9 246.9,720.3 C246.3,721.7 244.7,726.8 244.2,727.8 C243.6,728.9 243.7,728.3 242.9,728.0 C242.1,727.6 239.5,724.5 238.2,724.9 C236.9,725.3 234.3,728.9 233.1,730.9 C231.9,732.9 229.5,737.5 229.1,739.7 C228.7,741.9 229.3,745.4 230.1,747.3 C230.9,749.2 233.3,752.5 235.0,753.7 C236.7,754.9 240.5,755.6 242.7,756.1 C244.9,756.5 249.8,756.4 251.6,756.8 C253.4,757.2 255.1,758.7 256.0,759.1 C257.0,759.5 258.2,759.3 258.9,759.7 C259.5,760.2 260.9,761.5 260.9,762.4 C260.9,763.2 260.1,765.2 258.7,766.0 C257.4,766.7 254.2,767.4 250.9,768.1 C247.5,768.8 236.4,770.2 233.4,771.2 C230.4,772.3 229.3,774.3 228.1,775.9 C226.9,777.5 224.6,781.2 224.3,783.3 C224.0,785.4 224.6,789.8 225.7,791.5 C226.7,793.2 229.4,795.0 232.1,796.1 C234.8,797.1 243.1,797.8 245.7,799.4 C248.4,800.9 250.9,803.6 252.2,807.7 C253.6,811.9 255.1,826.4 256.0,830.6 C256.9,834.9 254.0,838.1 259.0,839.5 C264.0,840.9 289.0,840.8 293.8,840.9 C298.6,841.0 294.8,840.6 294.9,840.1 C295.0,839.6 294.4,839.0 294.7,837.3 C295.0,835.6 295.9,831.2 297.2,827.6 C298.4,823.9 302.7,813.9 304.1,810.2 C305.5,806.4 306.3,801.6 307.7,799.5 C309.0,797.4 312.5,796.6 314.3,794.4 C316.0,792.3 319.5,785.5 320.5,783.6 C321.5,781.7 321.1,780.8 321.7,780.2 C322.3,779.6 324.1,780.0 325.0,778.9 C325.9,777.8 327.3,773.6 328.4,771.9 C329.6,770.3 332.0,767.9 333.7,766.7 C335.3,765.6 338.8,763.5 340.6,763.2 C342.5,763.0 345.7,765.2 347.6,765.0 C349.4,764.8 352.9,762.7 354.5,761.5 C356.1,760.4 359.3,758.4 359.7,756.3 C360.2,754.2 358.9,748.2 358.0,745.9 C357.1,743.6 353.8,740.1 352.8,738.9 C351.7,737.7 350.2,738.0 350.2,737.0 C350.2,736.0 352.1,732.9 353.0,731.5 C353.8,730.2 356.0,727.6 356.5,726.7 C357.0,725.9 357.2,726.3 356.8,725.2 C356.3,724.2 354.1,720.4 353.0,718.8 C351.8,717.1 349.3,714.5 348.2,712.8 C347.1,711.1 346.0,709.1 344.8,706.0 C343.7,703.0 340.4,693.2 339.8,689.9 C339.1,686.6 340.6,683.8 340.2,681.4 C339.7,679.0 337.3,674.2 336.6,671.8 C335.9,669.4 335.3,665.4 334.7,663.4 C334.0,661.5 334.5,660.0 331.6,657.1 C328.8,654.3 316.7,644.9 313.3,642.3 C309.9,639.8 308.4,638.7 306.1,638.0 C303.8,637.2 298.7,636.5 296.2,636.8 C293.7,637.1 290.7,638.7 287.6,640.3 C284.5,641.9 277.2,648.4 272.8,648.9 C268.4,649.4 258.4,644.0 254.8,643.9 C251.1,643.9 247.7,646.6 245.6,648.4 C243.6,650.2 240.4,655.4 239.2,657.4Z " fill="#FFA500" fill-rule="evenodd"/>
<path d="M378.1,755.3 C379.5,751.2 382.2,750.4 385.8,748.3 C389.4,746.2 392.0,745.3 396.2,744.8 C400.4,744.3 402.8,744.6 406.6,745.9 C410.5,747.1 412.7,748.0 415.3,751.1 C418.0,754.2 418.8,756.6 419.9,761.5 C420.9,766.4 419.0,767.8 420.6,775.4 C422.1,783.1 434.5,785.8 427.5,799.7 C420.6,813.6 399.3,835.9 385.8,844.9 C372.2,854.0 364.5,848.4 359.7,844.9 C355.0,841.5 361.3,832.4 362.2,827.6 C363.1,822.7 363.3,824.1 364.2,820.6 C365.1,817.1 365.5,815.0 366.7,810.2 C367.9,805.3 368.4,801.8 370.2,796.3 C371.9,790.7 373.6,787.9 375.4,782.4 C377.1,776.8 378.3,773.9 378.8,768.5 C379.4,763.0 376.8,759.3 378.1,755.3Z" fill="#FFA500"/>
<path d="M347.0,738.2 C349.2,737.1 356.2,736.5 358.9,738.2 C361.5,739.9 359.9,743.6 360.4,746.9 C361.0,750.2 361.9,752.1 361.7,754.8 C361.5,757.5 361.2,758.7 359.6,760.3 C358.1,761.9 356.0,761.7 354.1,762.7 C352.2,763.6 351.6,763.6 350.2,765.1 C348.7,766.5 348.3,768.2 347.0,769.8 C345.7,771.4 345.0,772.8 343.8,773.0 C342.7,773.1 341.3,772.3 341.5,770.6 C341.6,768.9 343.4,766.8 344.6,764.3 C345.9,761.7 347.0,760.8 347.8,758.0 C348.6,755.1 348.6,752.9 348.6,750.1 C348.6,747.2 348.1,746.1 347.8,743.7 C347.5,741.4 344.8,739.3 347.0,738.2Z" fill="#FFA500"/>
<path d="M192.8,794.3 C193.6,791.0 194.1,788.4 195.2,785.6 C196.3,782.8 196.9,781.2 198.3,780.4 C199.8,779.6 200.7,780.5 202.3,781.7 C203.9,782.9 205.0,784.2 206.2,786.4 C207.5,788.6 208.3,789.9 208.6,792.7 C208.9,795.6 208.5,798.2 207.8,800.6 C207.2,803.0 207.2,803.0 205.5,804.6 C203.7,806.1 202.0,809.0 199.1,808.5 C196.3,808.0 192.5,805.0 191.2,802.2 C190.0,799.3 192.0,797.6 192.8,794.3Z" fill="#FFA500"/>
<path d="M319.4,786.4 C319.4,783.5 319.7,781.2 320.2,778.5 C320.7,775.8 320.8,773.9 321.8,773.0 C322.7,772.0 324.3,772.3 324.9,773.8 C325.6,775.2 325.1,777.5 324.9,780.1 C324.8,782.6 324.0,783.9 324.1,786.4 C324.3,788.9 324.9,790.2 325.7,792.7 C326.5,795.2 327.5,796.5 328.1,799.0 C328.7,801.6 329.4,803.5 328.9,805.4 C328.4,807.2 327.0,808.5 325.7,808.5 C324.5,808.5 323.4,807.2 322.6,805.4 C321.8,803.5 322.3,801.6 321.8,799.0 C321.3,796.5 320.7,795.2 320.2,792.7 C319.7,790.2 319.4,789.2 319.4,786.4Z" fill="#FFA500"/>
<path d="M298.9,556.7 C294.0,560.9 301.7,560.2 303.6,562.3 C305.5,564.3 306.8,565.1 308.4,567.0 C309.9,568.9 312.1,569.9 311.5,571.7 C310.9,573.6 308.4,574.6 305.2,576.5 C302.0,578.4 299.5,579.5 295.7,581.2 C291.9,583.0 290.0,584.1 286.2,585.2 C282.4,586.2 280.1,586.6 276.8,586.4 C273.4,586.3 272.2,585.3 269.6,584.4 C267.1,583.4 266.5,582.1 264.1,581.7 C261.7,581.3 260.6,581.6 257.8,582.3 C255.0,583.1 252.8,584.4 249.9,585.5 C247.0,586.5 245.5,586.3 243.4,587.5 C241.3,588.7 241.2,589.4 239.4,591.5 C237.7,593.5 236.6,595.4 234.7,597.8 C232.8,600.2 231.8,601.4 229.9,603.3 C228.0,605.3 227.6,605.9 225.2,607.6 C222.8,609.3 222.0,611.1 218.1,612.0 C214.1,612.9 210.2,612.3 205.5,612.0 C200.7,611.7 197.9,611.0 194.4,610.5 C190.9,609.9 191.1,609.8 188.1,609.2 C185.1,608.6 183.8,607.0 179.4,607.6 C175.0,608.2 174.5,623.2 166.0,612.0 C157.4,600.9 142.4,566.1 136.6,552.0 C130.7,537.9 98.3,543.7 136.6,541.6 C174.8,539.5 295.3,538.5 327.7,541.6 C360.2,544.6 303.7,552.6 298.9,556.7Z" fill="#FFE600"/>
<path d="M164.4,631.8 C170.7,632.1 167.5,631.5 169.1,632.6 C170.7,633.7 171.5,635.1 172.3,637.3 C173.1,639.5 173.4,641.1 173.1,643.6 C172.8,646.2 170.4,649.3 170.7,649.9 C171.0,650.6 173.7,646.3 174.6,647.0 C175.6,647.7 175.8,650.5 175.4,653.3 C175.1,656.2 174.5,658.4 173.1,661.2 C171.6,664.1 170.4,665.5 168.3,667.5 C166.3,669.6 165.2,670.1 162.8,671.5 C160.4,672.9 159.3,673.4 156.5,674.6 C153.6,675.9 152.4,680.2 148.6,677.8 C144.8,675.4 139.7,672.1 137.5,662.8 C135.3,653.5 132.2,637.4 137.5,631.2 C142.9,625.0 158.1,631.5 164.4,631.8Z" fill="#FFE600"/>
<path d="M241.1,658.2 C242.7,655.3 244.1,652.3 247.0,649.9 C249.8,647.4 251.7,646.1 255.3,645.9 C258.8,645.6 261.2,647.7 264.8,648.7 C268.3,649.7 269.7,651.5 273.1,651.1 C276.4,650.6 278.3,648.1 281.4,646.3 C284.4,644.5 285.4,643.6 288.5,642.1 C291.5,640.5 293.4,639.2 296.8,638.7 C300.1,638.3 302.0,638.6 305.0,639.7 C308.1,640.7 309.3,641.9 312.2,644.0 C315.0,646.0 316.7,647.7 319.3,649.9 C321.9,652.0 323.1,653.0 325.2,654.6 C327.3,656.3 328.4,656.3 329.9,658.2 C331.4,660.1 331.8,661.3 332.8,664.1 C333.7,666.9 333.6,668.8 334.7,672.4 C335.8,675.9 337.6,678.3 338.2,681.9 C338.8,685.4 337.3,686.8 337.7,690.2 C338.2,693.5 339.5,695.1 340.6,698.5 C341.6,701.8 341.8,703.7 343.0,706.8 C344.1,709.8 344.9,711.3 346.5,713.9 C348.2,716.5 349.6,717.4 351.3,719.8 C352.9,722.2 354.8,723.6 354.8,725.7 C354.8,727.8 353.2,727.1 351.3,730.5 C349.4,733.8 347.7,737.6 345.3,742.3 C343.0,747.1 341.9,750.4 339.4,754.2 C336.9,758.0 335.6,759.0 333.0,761.3 C330.4,763.5 328.4,763.9 326.4,765.3 C324.3,766.7 323.8,766.6 322.8,768.4 C321.9,770.2 322.4,771.5 321.6,774.3 C320.8,777.2 320.6,778.8 318.8,782.6 C317.0,786.4 315.8,789.7 312.6,793.3 C309.5,796.8 307.5,797.9 303.2,800.4 C298.8,802.8 295.4,804.1 290.8,805.6 C286.2,807.1 283.2,806.5 280.2,808.0 C277.1,809.4 277.3,809.9 275.4,812.7 C273.5,815.4 272.6,818.0 270.7,821.7 C268.8,825.4 267.6,827.4 265.9,831.2 C264.3,835.0 264.1,838.8 262.4,840.7 C260.7,842.6 258.7,843.3 257.7,840.7 C256.6,838.1 257.6,832.3 257.2,827.6 C256.8,822.9 256.1,821.7 255.5,817.2 C254.9,812.6 255.5,808.7 254.1,804.9 C252.7,801.0 251.1,799.8 248.4,798.0 C245.8,796.3 243.9,796.8 240.8,796.1 C237.8,795.4 235.9,795.5 233.2,794.5 C230.6,793.4 229.0,793.0 227.6,790.9 C226.1,788.8 225.7,786.8 226.1,784.0 C226.6,781.3 227.8,779.6 229.7,777.2 C231.6,774.7 231.3,773.4 235.6,771.9 C239.9,770.5 246.4,770.9 251.3,770.0 C256.1,769.2 257.6,769.2 260.0,767.7 C262.4,766.1 263.3,764.2 263.3,762.2 C263.3,760.3 262.1,759.1 260.0,758.0 C257.9,756.8 256.0,756.8 252.9,756.3 C249.8,755.8 247.6,756.1 244.4,755.4 C241.2,754.6 239.3,754.5 236.8,752.7 C234.3,751.0 233.2,749.4 232.1,746.8 C230.9,744.3 230.6,742.9 231.1,739.9 C231.6,737.0 232.9,734.9 234.7,731.9 C236.5,728.9 237.7,726.5 240.1,725.0 C242.6,723.5 245.1,725.8 247.0,724.5 C248.8,723.2 247.9,720.5 249.4,718.6 C250.8,716.7 252.2,716.6 254.1,715.0 C256.0,713.5 258.4,712.7 258.8,710.8 C259.3,708.9 257.7,708.0 256.5,705.6 C255.3,703.1 254.3,701.3 252.9,698.5 C251.5,695.6 250.8,694.2 249.4,691.4 C247.9,688.5 247.0,687.1 245.8,684.2 C244.6,681.4 244.6,679.7 243.4,677.1 C242.3,674.5 240.8,673.8 239.9,671.2 C238.9,668.6 238.5,666.7 238.7,664.1 C238.9,661.5 239.4,661.0 241.1,658.2Z" fill="#FFE600"/>
<path d="M379.4,792.7 C380.3,790.8 380.8,790.1 382.6,789.6 C384.3,789.0 386.0,788.9 388.1,789.9 C390.1,790.8 395.5,790.2 392.8,794.3 C390.1,798.3 378.1,808.2 374.7,810.1 C371.2,812.0 374.8,806.0 375.4,803.8 C376.1,801.6 377.0,801.2 377.8,799.0 C378.6,796.8 378.4,794.6 379.4,792.7Z" fill="#FFE600"/>
<path d="M384.1,813.6 C384.7,810.2 386.8,807.7 389.3,806.7 C391.7,805.7 393.4,806.3 396.2,808.4 C399.0,810.5 403.9,812.6 403.2,817.1 C402.5,821.6 396.2,829.6 392.7,831.0 C389.3,832.4 387.5,827.6 385.8,824.1 C384.1,820.6 383.4,817.1 384.1,813.6Z" fill="#FFE600"/>
<path d="M332.0,743.7 C333.9,743.1 336.1,744.1 338.3,745.3 C340.5,746.6 342.4,748.2 343.1,750.1 C343.7,752.0 342.7,754.2 341.5,754.8 C340.2,755.4 338.6,753.7 336.7,753.2 C334.8,752.7 333.6,753.4 332.0,752.4 C330.4,751.5 328.8,750.2 328.8,748.5 C328.8,746.7 330.1,744.4 332.0,743.7Z" fill="#FFE600"/>
<path d="M288.6,555.9 C281.6,559.9 290.8,559.4 292.6,561.5 C294.3,563.5 295.2,564.2 297.3,566.2 C299.3,568.3 302.5,570.2 302.8,571.7 C303.1,573.3 300.9,572.9 298.9,574.1 C296.8,575.4 295.4,576.6 292.6,578.1 C289.7,579.5 287.8,580.3 284.7,581.2 C281.5,582.2 279.6,582.8 276.8,582.8 C273.9,582.8 272.6,582.1 270.4,581.2 C268.2,580.4 267.9,579.0 265.7,578.5 C263.5,578.1 262.2,578.2 259.4,578.9 C256.5,579.6 254.3,580.9 251.5,582.0 C248.6,583.1 247.1,583.8 245.2,584.4 C243.2,585.0 243.3,584.1 241.8,585.2 C240.3,586.3 239.4,587.9 237.8,589.9 C236.3,592.0 235.6,593.2 233.9,595.4 C232.2,597.7 231.0,598.9 229.1,601.0 C227.3,603.0 226.8,603.9 224.4,605.7 C222.0,607.5 221.1,609.3 217.3,610.1 C213.5,611.0 210.0,610.5 205.5,610.1 C200.9,609.8 199.3,609.4 194.4,608.6 C189.5,607.7 186.7,606.0 181.0,606.0 C175.3,606.1 174.8,619.7 166.0,608.9 C157.1,598.1 142.4,565.5 136.6,552.0 C130.7,538.5 98.3,543.7 136.6,541.6 C174.8,539.5 297.3,538.7 327.7,541.6 C358.2,544.4 295.6,552.0 288.6,555.9Z" fill="#DEB887"/>
<path d="M158.8,643.6 C163.9,645.8 161.2,641.7 162.8,642.0 C164.4,642.4 165.8,643.2 166.7,645.2 C167.7,647.2 167.7,651.6 167.5,652.0 C167.4,652.4 165.8,646.7 166.0,647.0 C166.1,647.3 168.2,650.5 168.3,653.3 C168.5,656.2 168.0,658.4 166.7,661.2 C165.5,664.1 164.1,665.6 162.0,667.5 C160.0,669.4 158.8,669.6 156.5,670.7 C154.1,671.8 154.0,674.6 150.2,673.1 C146.4,671.5 140.0,671.2 137.5,662.8 C135.0,654.4 133.3,635.0 137.5,631.2 C141.8,627.4 153.8,641.5 158.8,643.6Z" fill="#DEB887"/>
<path d="M250.5,662.9 C251.7,660.5 251.7,659.4 254.1,658.2 C256.5,657.0 258.8,657.2 262.4,657.0 C265.9,656.8 268.3,657.7 271.9,657.0 C275.4,656.3 277.1,655.1 280.2,653.4 C283.2,651.8 284.2,650.2 287.3,648.7 C290.4,647.2 292.3,646.2 295.6,645.9 C298.9,645.5 300.8,645.8 303.9,646.8 C306.9,647.8 308.1,649.0 311.0,651.1 C313.8,653.1 315.5,654.9 318.1,657.0 C320.7,659.1 322.0,659.8 324.0,661.7 C326.0,663.6 327.0,664.1 328.3,666.5 C329.5,668.8 329.4,670.5 330.4,673.6 C331.4,676.7 332.9,678.3 333.5,681.9 C334.1,685.4 332.9,687.8 333.5,691.4 C334.1,694.9 335.1,696.3 336.3,699.6 C337.5,703.0 338.1,704.6 339.4,707.9 C340.7,711.3 341.5,713.4 343.0,716.2 C344.4,719.1 345.3,719.8 346.5,722.2 C347.7,724.5 349.2,725.9 348.9,728.1 C348.6,730.2 346.3,730.1 344.9,732.8 C343.4,735.5 343.3,737.7 341.8,741.6 C340.2,745.5 339.3,748.9 337.0,752.5 C334.8,756.1 333.2,757.4 330.6,759.6 C328.1,761.8 326.4,762.2 324.5,763.6 C322.6,765.1 322.1,764.8 321.2,766.7 C320.2,768.6 320.6,770.2 319.7,773.1 C318.9,776.1 318.6,777.8 316.9,781.4 C315.1,785.1 314.1,788.0 311.0,791.4 C307.9,794.8 305.8,796.1 301.5,798.5 C297.2,800.8 294.1,801.9 289.6,803.2 C285.1,804.5 282.3,803.3 279.0,805.1 C275.7,806.9 275.2,808.4 273.1,812.2 C270.9,816.0 269.7,819.8 268.3,824.1 C266.9,828.3 267.3,833.5 265.9,833.5 C264.6,833.5 263.1,828.1 261.7,824.1 C260.3,820.1 259.6,818.5 258.8,813.6 C258.0,808.8 259.2,803.8 257.7,799.7 C256.1,795.5 253.9,794.4 251.3,792.8 C248.6,791.2 247.5,792.4 244.4,791.8 C241.3,791.3 238.1,791.1 235.6,789.9 C233.2,788.8 232.4,787.8 232.1,785.9 C231.7,784.1 232.2,782.5 234.0,780.7 C235.7,779.0 237.4,778.3 240.8,777.2 C244.3,776.0 246.8,775.8 251.3,774.8 C255.8,773.7 260.2,773.9 263.3,771.9 C266.5,769.9 266.5,767.6 266.9,764.8 C267.3,762.0 266.6,760.4 265.2,758.0 C263.9,755.5 262.8,753.8 260.0,752.7 C257.2,751.7 254.8,753.1 251.3,752.7 C247.7,752.4 245.1,752.5 242.5,751.1 C239.8,749.7 238.6,748.3 238.0,745.9 C237.3,743.5 237.6,741.4 239.2,739.0 C240.8,736.6 243.8,736.4 246.0,733.8 C248.3,731.1 248.7,728.5 250.5,725.7 C252.4,722.9 253.4,721.7 255.3,719.8 C257.2,717.9 257.9,717.9 260.0,716.2 C262.2,714.6 265.2,713.2 265.9,711.5 C266.7,709.8 264.8,710.1 263.6,707.9 C262.4,705.8 261.4,703.9 260.0,700.8 C258.6,697.7 257.9,695.9 256.5,692.5 C255.0,689.2 254.1,687.3 252.9,684.2 C251.7,681.2 251.5,680.0 250.5,677.1 C249.6,674.3 248.2,672.9 248.2,670.0 C248.2,667.2 249.4,665.3 250.5,662.9Z" fill="#DEB887"/>
<path d="M282.3,555.5 C273.4,559.1 282.6,558.2 283.4,559.9 C284.2,561.6 285.0,562.3 286.2,563.8 C287.4,565.4 288.1,566.2 289.4,567.8 C290.7,569.4 292.6,570.5 292.6,571.7 C292.6,573.0 291.3,573.0 289.4,574.1 C287.5,575.2 285.9,576.3 283.1,577.3 C280.2,578.2 277.9,578.9 275.2,578.9 C272.5,578.9 271.5,578.0 269.6,577.3 C267.8,576.6 267.8,575.6 265.7,575.4 C263.6,575.1 262.2,575.3 259.4,576.0 C256.5,576.8 254.4,578.4 251.5,579.2 C248.6,580.0 247.2,579.2 244.9,580.1 C242.7,581.0 241.9,582.0 240.2,583.6 C238.5,585.2 237.8,586.3 236.3,588.3 C234.7,590.4 234.0,591.7 232.3,593.9 C230.6,596.1 229.5,597.3 227.6,599.4 C225.7,601.4 225.0,602.4 222.8,604.1 C220.6,605.9 220.0,607.3 216.5,608.1 C213.0,608.9 209.9,608.4 205.5,608.1 C201.0,607.8 199.0,607.3 194.4,606.5 C189.8,605.7 188.2,604.3 182.5,604.1 C176.9,604.0 175.2,616.1 166.0,605.7 C156.8,595.3 142.4,564.8 136.6,552.0 C130.7,539.2 98.3,543.7 136.6,541.6 C174.8,539.5 298.6,538.8 327.7,541.6 C356.9,544.4 291.2,551.8 282.3,555.5Z" fill="#F5E6BE"/>
<path d="M156.5,646.2 C161.5,648.3 161.1,647.6 162.8,649.4 C164.5,651.1 165.2,652.5 165.2,654.9 C165.2,657.3 164.2,659.0 162.8,661.2 C161.4,663.4 160.3,664.4 158.1,666.0 C155.8,667.5 155.8,669.4 151.7,668.8 C147.6,668.2 140.4,668.7 137.5,662.8 C134.7,656.9 133.7,642.4 137.5,639.1 C141.3,635.8 151.4,644.2 156.5,646.2Z" fill="#F5E6BE"/>
<path d="M254.1,667.7 C255.0,665.3 255.5,664.3 257.7,662.9 C259.8,661.5 261.7,661.0 264.8,660.5 C267.8,660.1 269.7,661.3 273.1,660.5 C276.4,659.8 278.3,658.5 281.4,657.0 C284.4,655.5 285.4,654.4 288.5,653.0 C291.5,651.5 293.5,650.3 296.8,649.9 C300.0,649.5 301.7,650.0 304.6,651.1 C307.4,652.2 308.5,653.4 311.0,655.3 C313.4,657.2 314.7,658.5 316.9,660.5 C319.1,662.6 320.3,663.6 322.1,665.8 C323.9,667.9 324.8,668.7 325.9,671.2 C327.0,673.7 326.8,675.2 327.6,678.3 C328.4,681.4 329.3,683.3 329.9,686.6 C330.5,689.9 329.9,691.6 330.6,694.9 C331.4,698.2 332.3,699.9 333.5,703.2 C334.6,706.5 335.0,708.4 336.3,711.5 C337.7,714.6 338.8,716.0 340.1,718.6 C341.4,721.2 342.2,722.2 343.0,724.5 C343.8,726.9 344.5,728.3 344.1,730.5 C343.8,732.6 342.0,733.2 341.1,735.2 C340.1,737.3 340.5,737.5 339.4,740.7 C338.3,743.8 337.5,747.6 335.4,751.1 C333.2,754.6 331.3,756.0 328.7,758.2 C326.2,760.4 324.7,760.7 322.8,762.0 C320.9,763.3 320.2,762.8 319.3,764.8 C318.3,766.8 318.9,768.9 318.1,771.9 C317.2,775.0 316.8,776.7 315.0,780.2 C313.2,783.8 312.3,786.4 309.3,789.7 C306.3,793.0 304.0,794.6 299.8,796.8 C295.7,799.0 292.9,799.8 288.5,800.8 C284.1,801.9 281.1,800.7 277.8,802.3 C274.5,803.8 273.8,805.3 271.9,808.7 C270.0,812.1 269.4,815.3 268.3,819.3 C267.3,823.4 267.6,828.3 266.7,828.8 C265.7,829.3 264.5,825.0 263.6,821.7 C262.6,818.4 262.5,816.3 261.9,812.2 C261.3,808.2 262.1,804.8 260.5,801.6 C258.9,798.3 257.0,797.5 254.1,796.1 C251.2,794.7 248.9,795.4 245.8,794.7 C242.7,793.9 240.6,793.9 238.7,792.3 C236.8,790.7 236.3,788.6 236.3,786.6 C236.3,784.7 237.0,783.9 238.7,782.6 C240.4,781.3 241.8,781.2 244.6,780.2 C247.5,779.3 248.9,779.0 252.9,777.9 C256.9,776.7 261.4,776.7 264.8,774.3 C268.2,771.9 269.3,769.6 270.0,766.0 C270.7,762.5 269.8,759.7 268.3,756.5 C266.8,753.4 265.5,751.4 262.4,750.1 C259.3,748.9 256.5,750.5 252.9,750.1 C249.4,749.8 246.9,749.3 244.6,748.2 C242.3,747.2 241.9,746.3 241.5,744.7 C241.2,743.0 241.6,740.7 243.0,739.9 C244.3,739.2 246.8,742.1 248.2,741.1 C249.6,740.2 248.9,737.8 250.1,735.2 C251.3,732.6 252.3,730.7 254.1,728.1 C255.9,725.5 256.9,724.3 258.8,722.2 C260.7,720.0 261.7,719.3 263.6,717.4 C265.5,715.5 268.1,714.8 268.3,712.7 C268.6,710.5 266.2,709.4 264.8,706.8 C263.3,704.1 262.6,702.7 261.2,699.6 C259.8,696.6 258.9,694.7 257.7,691.4 C256.4,688.0 255.8,686.4 254.8,683.1 C253.9,679.7 253.1,677.8 252.9,674.8 C252.8,671.7 253.2,670.0 254.1,667.7Z" fill="#F5E6BE"/>
<path d="M262.5,558.0 C250.1,561.8 263.8,560.0 265.7,560.7 C267.6,561.4 270.0,560.8 272.0,561.5 C274.1,562.1 274.4,562.6 276.0,563.8 C277.5,565.1 278.4,566.2 279.9,567.8 C281.4,569.4 283.4,570.5 283.4,571.7 C283.4,573.0 281.9,573.3 279.9,574.1 C278.0,574.9 275.8,575.9 273.6,575.7 C271.4,575.5 270.8,574.1 268.9,573.3 C267.0,572.5 266.3,571.6 264.1,571.7 C261.9,571.9 260.6,573.2 257.8,574.1 C255.0,575.1 252.8,575.7 249.9,576.5 C247.0,577.3 245.6,577.1 243.4,578.1 C241.1,579.0 240.4,579.6 238.6,581.2 C236.9,582.8 236.3,583.9 234.7,586.0 C233.1,588.0 232.5,589.4 230.7,591.5 C229.0,593.5 227.9,594.3 226.0,596.2 C224.1,598.1 223.5,599.2 221.2,601.0 C219.0,602.7 218.1,604.0 214.9,604.9 C211.8,605.9 209.6,605.9 205.5,605.7 C201.3,605.6 198.7,605.0 194.4,604.1 C190.1,603.2 189.8,601.6 184.1,601.3 C178.4,601.0 175.5,612.4 166.0,602.6 C156.4,592.7 142.4,564.2 136.6,552.0 C130.7,539.8 98.3,543.7 136.6,541.6 C174.8,539.5 302.6,538.3 327.7,541.6 C352.9,544.9 274.9,554.2 262.5,558.0Z" fill="#9ABF32"/>
<path d="M262.4,668.8 C264.0,666.7 265.5,666.1 268.3,665.3 C271.2,664.5 273.3,665.4 276.6,664.8 C279.9,664.2 281.6,663.1 284.9,662.4 C288.2,661.8 289.9,661.6 293.2,661.7 C296.5,661.8 298.4,662.1 301.5,662.9 C304.6,663.7 306.0,664.3 308.6,665.8 C311.2,667.2 312.3,668.1 314.5,670.0 C316.8,671.9 318.1,672.9 319.7,675.2 C321.4,677.6 321.7,678.9 322.8,681.9 C323.9,684.9 324.5,686.8 325.2,690.2 C325.9,693.5 325.7,695.1 326.4,698.5 C327.1,701.8 327.6,703.7 328.7,706.8 C329.9,709.8 330.9,711.3 332.3,713.9 C333.7,716.5 334.4,717.4 335.9,719.8 C337.3,722.2 338.6,723.3 339.4,725.7 C340.3,728.1 340.4,729.7 340.1,731.6 C339.9,733.5 338.7,733.5 338.2,735.2 C337.7,736.9 338.7,737.0 337.7,739.9 C336.8,742.9 335.7,746.8 333.5,750.1 C331.3,753.5 329.3,754.5 326.8,756.5 C324.4,758.5 323.1,758.8 321.2,760.1 C319.3,761.4 318.3,760.8 317.4,762.9 C316.4,765.1 317.2,767.5 316.4,770.8 C315.6,774.0 315.0,775.6 313.3,779.0 C311.6,782.5 310.9,784.8 307.9,788.1 C304.9,791.3 302.5,793.1 298.4,795.2 C294.3,797.2 291.9,797.9 287.3,798.5 C282.7,799.0 279.5,797.6 275.4,798.0 C271.4,798.4 269.7,799.0 267.1,800.4 C264.5,801.8 263.7,805.1 262.4,805.1 C261.1,805.1 260.9,803.7 260.5,800.4 C260.1,797.1 260.7,794.7 260.5,788.5 C260.3,782.4 259.3,776.0 259.5,769.6 C259.8,763.2 261.1,760.3 261.9,756.5 C262.7,752.7 263.9,752.5 263.6,750.6 C263.3,748.7 259.1,747.7 260.5,747.1 C261.9,746.4 268.0,748.7 270.6,747.3 C273.2,746.0 272.5,743.0 273.6,740.4 C274.6,737.8 276.1,736.0 275.8,734.3 C275.6,732.5 273.6,732.7 272.4,731.7 C271.1,730.6 271.0,729.8 269.8,729.1 C268.5,728.4 267.7,727.9 266.3,728.2 C264.9,728.5 264.2,729.8 262.8,730.8 C261.4,731.8 260.9,732.9 259.3,733.4 C257.8,733.9 256.5,734.5 255.0,733.4 C253.4,732.4 251.7,730.6 251.5,728.2 C251.3,725.8 252.6,723.9 254.1,721.2 C255.7,718.6 256.9,717.3 259.3,715.2 C261.8,713.1 263.7,711.9 266.3,710.8 C268.9,709.8 271.6,710.5 272.4,710.0 C273.1,709.4 271.1,709.8 270.0,707.9 C268.8,706.1 267.9,703.9 266.7,700.8 C265.4,697.7 264.7,695.9 263.6,692.5 C262.5,689.2 261.8,687.6 261.2,684.2 C260.6,680.9 260.3,679.0 260.5,675.9 C260.7,672.9 260.8,671.0 262.4,668.8Z" fill="#9ABF32"/>
<path d="M284.0,716.0 C284.7,715.9 285.6,717.8 286.3,719.5 C287.0,721.2 287.3,722.8 287.5,724.7 C287.7,726.6 287.6,728.0 287.1,729.1 C286.6,730.1 285.8,730.5 285.0,729.9 C284.3,729.4 283.7,728.4 283.3,726.5 C282.9,724.6 282.8,722.5 283.0,720.4 C283.1,718.3 283.3,716.2 284.0,716.0Z" fill="#F5E6BE"/>
<path d="M270.6,719.5 C271.4,718.5 272.5,717.8 274.1,717.8 C275.7,717.8 277.2,718.3 278.4,719.5 C279.7,720.7 280.4,721.9 280.5,723.9 C280.7,725.8 280.1,727.4 279.3,729.1 C278.5,730.7 277.9,731.8 276.7,732.0 C275.6,732.3 274.6,731.4 273.6,730.3 C272.5,729.2 272.2,727.9 271.5,726.5 C270.8,725.0 270.3,724.4 270.1,723.0 C269.9,721.6 269.8,720.6 270.6,719.5Z" fill="#BCEE68"/>
<path d="M184.9,597.8 C185.9,601.3 194.4,600.1 199.1,601.0 C203.9,601.9 205.5,602.2 208.6,602.2 C211.8,602.3 212.7,602.1 214.9,601.3 C217.1,600.5 217.9,599.9 219.7,598.1 C221.4,596.3 222.2,594.7 223.6,592.3 C225.0,589.9 225.7,588.5 226.8,586.0 C227.8,583.4 228.5,581.4 228.8,579.6 C229.1,577.8 229.6,577.4 228.4,577.0 C227.2,576.5 225.2,577.5 222.8,577.3 C220.5,577.0 222.2,574.4 216.5,575.7 C210.8,577.0 200.7,579.2 194.4,583.6 C188.1,588.0 184.0,594.3 184.9,597.8Z" fill="#BCEE68"/>
<path d="M277.1,678.3 C279.0,675.9 280.0,675.0 282.5,673.6 C285.0,672.2 286.6,671.7 289.6,671.2 C292.7,670.7 294.6,670.7 297.9,671.2 C301.3,671.7 303.4,672.3 306.2,673.6 C309.1,674.9 309.9,675.7 312.2,677.6 C314.4,679.5 315.6,680.5 317.4,683.1 C319.2,685.6 320.1,687.1 321.2,690.2 C322.3,693.2 322.2,695.4 322.8,698.5 C323.5,701.5 323.5,702.7 324.5,705.6 C325.4,708.4 326.2,710.1 327.6,712.7 C328.9,715.3 329.7,716.2 331.1,718.6 C332.5,721.0 333.6,722.2 334.7,724.5 C335.7,726.9 336.0,728.6 336.3,730.5 C336.7,732.3 336.4,732.3 336.3,734.0 C336.2,735.8 336.8,736.3 335.9,739.2 C334.9,742.2 333.7,745.6 331.6,748.7 C329.5,751.8 327.6,753.0 325.2,754.9 C322.8,756.8 321.6,756.9 319.7,758.2 C317.8,759.5 316.8,759.0 315.7,761.3 C314.7,763.5 315.3,766.3 314.5,769.6 C313.7,772.9 313.3,774.5 311.7,777.9 C310.0,781.3 309.1,783.5 306.2,786.6 C303.4,789.7 301.4,791.5 297.5,793.3 C293.5,795.1 291.2,795.4 286.6,795.6 C281.9,795.9 278.0,795.2 274.2,794.5 C270.5,793.7 269.7,793.7 267.6,792.1 C265.5,790.4 264.6,790.9 263.6,786.2 C262.5,781.4 262.1,774.5 262.4,768.4 C262.7,762.2 264.3,759.4 265.2,755.4 C266.2,751.3 267.5,750.4 267.1,748.2 C266.8,746.1 263.8,746.6 263.6,744.7 C263.3,742.8 264.5,740.9 265.9,738.8 C267.4,736.6 268.6,735.4 270.7,734.0 C272.8,732.6 275.0,733.5 276.6,731.7 C278.2,729.8 278.4,726.9 278.5,724.5 C278.6,722.2 277.0,720.8 277.1,719.8 C277.2,718.9 277.7,719.8 279.0,719.8 C280.3,719.8 281.8,719.1 283.7,719.8 C285.6,720.5 286.8,721.4 288.5,723.3 C290.1,725.2 290.6,727.4 292.0,729.3 C293.4,731.2 294.1,732.6 295.6,732.8 C297.0,733.1 298.1,732.1 299.1,730.5 C300.2,728.8 301.0,726.9 300.8,724.5 C300.5,722.2 299.5,720.7 297.9,718.6 C296.4,716.5 295.6,715.1 293.2,713.9 C290.8,712.6 288.9,712.9 286.1,712.2 C283.2,711.5 281.4,711.4 279.0,710.3 C276.6,709.2 275.8,708.9 274.2,706.8 C272.7,704.6 272.1,702.5 271.4,699.6 C270.7,696.8 270.4,695.4 270.7,692.5 C271.0,689.7 271.8,688.3 273.1,685.4 C274.3,682.6 275.2,680.7 277.1,678.3Z" fill="#BCEE68"/>
<path d="M287.3,690.2 C288.1,688.6 289.9,686.6 291.3,687.1 C292.7,687.6 292.1,691.2 294.4,692.5 C296.7,693.9 299.4,693.5 302.7,693.7 C306.0,694.0 308.1,693.2 311.0,693.7 C313.8,694.2 314.9,694.8 316.9,696.1 C318.9,697.4 319.7,698.2 321.2,700.4 C322.6,702.5 322.9,704.1 324.0,706.8 C325.1,709.5 325.5,711.3 326.8,713.9 C328.2,716.5 329.3,717.4 330.6,719.8 C332.0,722.2 332.7,723.3 333.5,725.7 C334.3,728.1 334.4,730.2 334.7,731.6 C334.9,733.1 334.8,731.4 334.7,732.8 C334.5,734.3 334.9,735.8 334.0,738.8 C333.0,741.7 332.0,744.8 329.9,747.8 C327.8,750.7 325.9,751.7 323.5,753.5 C321.2,755.2 320.0,755.2 318.1,756.5 C316.2,757.9 315.1,757.7 314.1,760.1 C313.0,762.5 313.5,765.1 312.6,768.4 C311.8,771.7 311.4,773.4 309.8,776.7 C308.2,780.0 307.3,782.1 304.6,785.0 C301.8,787.8 299.7,789.2 296.0,790.9 C292.3,792.6 290.4,793.2 286.1,793.3 C281.8,793.4 278.1,792.3 274.7,791.4 C271.3,790.4 270.6,790.0 269.0,788.5 C267.4,787.0 267.4,788.1 266.7,783.8 C265.9,779.5 264.9,773.1 265.2,767.2 C265.6,761.3 267.2,758.2 268.3,754.2 C269.4,750.1 270.7,749.4 270.7,747.1 C270.7,744.7 267.8,744.2 268.3,742.3 C268.8,740.4 270.9,739.0 273.1,737.6 C275.2,736.2 276.6,736.4 279.0,735.2 C281.4,734.0 282.3,733.3 284.9,731.7 C287.5,730.0 289.4,728.8 292.0,726.9 C294.6,725.0 295.7,724.3 297.9,722.2 C300.2,720.0 301.7,718.9 303.2,716.3 C304.6,713.6 304.9,708.9 305.0,709.1 C305.2,709.4 305.0,716.9 303.9,717.4 C302.7,717.9 300.8,713.6 299.1,711.5 C297.5,709.4 297.2,708.9 295.6,706.8 C293.9,704.6 292.5,703.2 290.8,700.8 C289.2,698.5 288.0,697.0 287.3,694.9 C286.6,692.8 286.5,691.7 287.3,690.2Z" fill="#20B2AA"/>
<path d="M307.1,710.0 C307.5,708.1 307.6,706.5 308.9,704.7 C310.1,703.0 311.1,702.1 313.2,701.3 C315.3,700.4 317.0,700.2 319.3,700.4 C321.5,700.6 322.8,701.1 324.5,702.5 C326.2,703.9 326.8,705.0 328.0,707.3 C329.1,709.7 329.4,711.2 330.2,714.3 C331.0,717.4 331.4,719.9 332.0,723.0 C332.6,726.1 333.0,728.2 333.2,729.9 C333.4,731.7 333.2,730.1 333.0,731.7 C332.8,733.2 333.2,734.7 332.3,737.6 C331.4,740.4 330.3,743.0 328.3,745.9 C326.2,748.7 324.5,750.0 322.1,751.8 C319.7,753.6 318.3,753.5 316.4,754.9 C314.5,756.3 313.7,756.4 312.6,758.9 C311.5,761.4 311.9,763.9 311.0,767.2 C310.0,770.5 309.5,772.3 307.9,775.5 C306.2,778.7 305.4,780.6 302.7,783.3 C300.0,786.0 297.8,787.5 294.4,789.0 C291.0,790.5 289.4,791.0 285.6,790.9 C281.8,790.8 278.7,790.4 275.4,788.5 C272.1,786.6 270.6,786.2 269.0,781.4 C267.5,776.7 267.3,770.5 267.6,764.8 C267.9,759.1 269.4,756.8 270.7,753.0 C272.0,749.2 274.0,747.8 274.2,745.9 C274.5,744.0 271.9,744.7 271.9,743.5 C271.9,742.3 272.6,740.7 274.2,739.9 C275.9,739.2 277.8,740.8 280.2,739.9 C282.5,739.1 283.5,737.6 286.1,735.9 C288.7,734.3 290.4,733.5 293.2,731.7 C296.0,729.9 297.7,729.0 300.3,726.9 C302.9,724.8 304.6,723.6 306.2,721.0 C307.9,718.4 308.5,715.3 308.6,713.9 C308.7,712.5 307.2,714.6 306.9,713.9 C306.6,713.1 306.7,711.8 307.1,710.0Z" fill="#B0E0E6"/>
<path d="M311.0,719.8 C312.9,717.9 313.5,716.8 315.7,716.3 C317.9,715.7 319.9,716.0 322.1,717.0 C324.3,717.9 325.1,718.8 326.8,721.0 C328.6,723.2 330.0,725.0 330.6,728.1 C331.3,731.2 330.9,733.2 329.9,736.4 C329.0,739.6 327.8,741.4 325.9,744.0 C324.0,746.6 322.7,747.6 320.5,749.4 C318.2,751.2 316.4,751.6 314.5,753.0 C312.6,754.4 312.0,754.2 311.0,756.5 C309.9,758.9 310.3,761.5 309.3,764.8 C308.4,768.1 307.9,769.9 306.2,773.1 C304.5,776.3 303.4,778.3 300.8,780.9 C298.2,783.5 296.4,784.7 293.2,786.2 C290.0,787.6 288.3,788.1 284.9,788.1 C281.5,788.0 279.0,787.7 276.1,785.7 C273.3,783.6 271.9,782.5 270.7,777.9 C269.5,773.2 269.5,767.7 270.0,762.5 C270.5,757.2 271.4,755.5 273.1,751.8 C274.8,748.1 276.1,746.6 278.5,744.0 C280.9,741.4 282.2,740.7 284.9,738.8 C287.6,736.9 289.2,736.2 292.0,734.5 C294.9,732.8 296.3,732.2 299.1,730.5 C302.0,728.7 303.9,727.9 306.2,725.7 C308.6,723.6 309.1,721.7 311.0,719.8Z" fill="#789BF2"/>
<path d="M273.1,774.3 C272.3,769.9 272.4,764.8 273.1,760.1 C273.7,755.4 274.4,754.0 276.1,750.6 C277.9,747.2 279.4,745.5 281.8,743.0 C284.3,740.6 285.7,739.9 288.5,738.3 C291.2,736.7 292.7,736.5 295.6,735.2 C298.4,733.9 300.1,733.1 302.7,731.7 C305.3,730.2 306.2,729.5 308.6,728.1 C311.0,726.7 312.2,725.7 314.5,724.5 C316.9,723.4 318.2,722.2 320.5,722.2 C322.7,722.2 324.2,722.9 325.9,724.5 C327.6,726.2 328.6,727.9 328.7,730.5 C328.9,733.1 328.0,735.0 326.8,737.6 C325.7,740.2 324.7,741.4 322.8,743.5 C320.9,745.6 319.5,746.7 317.4,748.2 C315.2,749.8 313.9,749.7 312.2,751.1 C310.4,752.5 309.6,753.1 308.6,755.4 C307.6,757.6 307.9,759.4 306.9,762.5 C306.0,765.5 305.4,767.7 303.9,770.8 C302.3,773.8 301.5,775.5 299.1,777.9 C296.8,780.2 295.0,781.3 292.0,782.6 C289.0,783.9 287.2,784.4 284.2,784.3 C281.2,784.1 279.3,783.9 277.1,781.9 C274.9,779.9 273.9,778.7 273.1,774.3Z" fill="#3C64E6"/>
<path d="M318.1,730.5 C318.8,729.0 320.4,727.2 321.6,726.9 C322.9,726.6 324.1,727.5 324.5,728.8 C324.9,730.1 324.3,732.1 323.5,733.5 C322.7,735.0 321.5,735.8 320.5,735.9 C319.4,736.0 318.6,735.1 318.1,734.0 C317.6,732.9 317.4,731.9 318.1,730.5Z" fill="#0000C8"/>
<path d="M276.1,770.8 C275.6,767.1 275.5,762.9 276.1,758.9 C276.8,754.9 277.7,753.5 279.5,750.6 C281.2,747.8 282.4,746.6 284.9,744.7 C287.4,742.8 289.2,741.6 292.0,741.1 C294.9,740.7 296.9,740.9 299.1,742.3 C301.4,743.7 302.2,745.4 303.2,748.2 C304.1,751.1 304.2,753.2 303.9,756.5 C303.5,759.9 302.8,761.7 301.5,764.8 C300.2,767.9 299.5,769.3 297.5,771.9 C295.4,774.5 293.8,776.2 291.3,777.9 C288.8,779.5 287.4,780.4 284.9,780.2 C282.4,780.1 280.7,779.0 279.0,777.2 C277.2,775.3 276.7,774.4 276.1,770.8Z" fill="#0000C8"/>
<path d="M279.0,767.2 C278.7,764.5 278.7,762.0 279.5,758.9 C280.2,755.8 281.0,754.2 282.5,751.8 C284.1,749.4 285.1,748.5 287.3,747.1 C289.4,745.6 291.1,744.7 293.2,744.7 C295.3,744.7 296.6,745.4 297.9,747.1 C299.3,748.7 299.7,750.1 299.8,753.0 C299.9,755.8 299.4,758.2 298.4,761.3 C297.5,764.4 296.7,765.9 295.1,768.4 C293.5,770.9 292.4,772.4 290.4,773.8 C288.3,775.3 286.8,775.8 284.9,775.5 C283.0,775.2 282.1,774.1 280.9,772.4 C279.7,770.8 279.3,769.9 279.0,767.2Z" fill="#9370DB"/>
<circle cx="288.8" cy="697" r="7" fill="#fff"/><g transform="translate(146.8,451.8)"><path d="M26.9,163.2 L29.2,160.8 L32.4,159.7 L34.0,161.6 L37.9,162.4 L42.7,160.8 L47.4,160.8 L49.8,162.4 L47.4,164.8 L52.1,164.8 L56.9,163.2 L60.8,164.0 L63.2,166.4 L64.8,168.7 L61.6,166.4 L58.5,165.6 L66.4,164.8 L74.2,164.0 L80.6,162.4 L85.3,160.0 L88.5,158.5 L90.8,159.2 L93.2,157.7 L94.0,153.7 L92.4,151.3 L90.8,152.9 L89.3,156.1 L88.5,158.5" fill="none" stroke="#000" stroke-width="1.15" stroke-linejoin="round" stroke-linecap="round"/><path d="M90.0,145.8 L92.4,142.7 L93.2,145.8 L91.6,149.0 L94.8,147.4 L96.4,141.1 L98.7,134.8 L100.0,134.0" fill="none" stroke="#000" stroke-width="1.15" stroke-linejoin="round" stroke-linecap="round"/><path d="M41.1,157.7 L47.4,158.5 L50.2,160.0 L47.4,160.8Z" fill="none" stroke="#000" stroke-width="1.15" stroke-linejoin="round" stroke-linecap="round"/><path d="M100.0,191.6 L94.8,192.4 L92.4,194.8 L91.6,200.0" fill="none" stroke="#000" stroke-width="1.15" stroke-linejoin="round" stroke-linecap="round"/><path d="M95.0,149.0 L96.3,141.1 L99.7,134.0 L104.5,129.2 L110.0,125.0 L106.8,130.0 L102.1,135.1 L100.1,140.3 L101.0,144.2 L104.5,143.0 L107.6,144.5 L110.8,146.1 L113.2,148.2 L115.5,147.4 L117.1,150.6 L117.1,155.3 L114.0,157.7 L112.7,160.8 L114.7,163.2 L118.7,160.8 L122.6,161.6 L124.2,164.0 L121.9,166.4 L117.9,167.1 L117.1,169.5 L120.3,171.1 L124.2,173.5 L122.6,176.6 L118.7,180.6 L117.1,185.3 L110.8,187.7 L104.5,190.0 L99.7,191.6 L95.0,193.2" fill="none" stroke="#000" stroke-width="1.15" stroke-linejoin="round" stroke-linecap="round"/><path d="M112.1,122.1 L114.7,119.0 L117.1,117.1 L117.6,118.6 L115.2,121.3 L112.7,123.4Z" fill="none" stroke="#000" stroke-width="1.15" stroke-linejoin="round" stroke-linecap="round"/><path d="M125.0,154.8 L127.4,154.2 L129.0,155.3 L126.6,155.9Z" fill="none" stroke="#000" stroke-width="1.15" stroke-linejoin="round" stroke-linecap="round"/><path d="M116.3,144.9 L118.7,144.5 L119.0,145.8 L116.8,146.1Z" fill="none" stroke="#000" stroke-width="1.15" stroke-linejoin="round" stroke-linecap="round"/><path d="M195.0,119.7 L191.4,122.1 L186.6,125.3 L183.5,129.2 L180.3,128.4 L178.7,131.6 L176.4,133.2 L177.1,137.1 L174.0,139.5 L173.2,142.7 L169.2,144.2 L164.5,145.0 L159.8,143.4 L155.8,146.6 L150.3,149.0 L144.0,150.6 L142.4,153.7 L144.8,156.1 L145.6,158.5 L142.4,160.0 L140.8,163.2 L139.2,160.8 L136.1,160.0 L132.1,158.1 L129.8,160.8 L128.2,164.0 L130.5,166.4 L134.5,167.1 L137.7,170.3 L140.8,172.7 L145.6,175.8 L149.5,177.4 L153.5,176.6 L155.0,174.2 L156.6,177.4 L161.4,179.0 L164.5,180.6 L166.9,183.7 L170.8,186.9 L172.4,190.8 L174.0,194.8 L177.1,197.9 L180.3,200.0" fill="none" stroke="#000" stroke-width="1.15" stroke-linejoin="round" stroke-linecap="round"/><path d="M195.0,134.0 L189.8,137.9 L183.5,142.7 L177.1,146.6 L170.8,150.6 L167.4,154.5 L172.4,152.9 L175.6,150.6 L177.1,154.5 L183.5,153.7 L188.2,149.8 L191.4,150.6 L195.0,152.9" fill="none" stroke="#000" stroke-width="1.15" stroke-linejoin="round" stroke-linecap="round"/><path d="M139.7,180.9 L141.6,179.9 L142.9,181.2 L141.1,182.1Z" fill="none" stroke="#000" stroke-width="1.15" stroke-linejoin="round" stroke-linecap="round"/><path d="M185.0,126.9 L189.7,122.9 L194.5,119.7 L197.3,119.0 L200.8,117.7" fill="none" stroke="#000" stroke-width="1.15" stroke-linejoin="round" stroke-linecap="round"/><path d="M197.3,119.0 L196.1,123.7 L193.7,131.6 L191.3,137.9 L186.6,142.7 L185.0,143.4" fill="none" stroke="#000" stroke-width="1.15" stroke-linejoin="round" stroke-linecap="round"/><path d="M185.0,149.0 L188.2,149.8 L192.1,151.3 L193.7,154.5 L196.8,155.3 L200.8,157.7 L207.1,160.8 L213.4,160.0 L219.8,158.8 L226.1,157.7 L228.4,158.5 L228.4,155.3 L229.2,152.9 L226.9,151.3 L224.5,152.1 L222.9,149.0 L222.1,145.8 L219.8,145.0 L217.9,146.6 L219.8,142.7 L222.9,137.9 L224.5,132.1" fill="none" stroke="#000" stroke-width="1.15" stroke-linejoin="round" stroke-linecap="round"/><path d="M222.9,144.7 L225.3,135.5 L226.4,133.5 L230.8,136.3 L226.9,140.3Z" fill="none" stroke="#000" stroke-width="1.15" stroke-linejoin="round" stroke-linecap="round"/><path d="M3.2,224.2 L7.1,222.6 L11.8,221.1 L15.5,220.3 L15.0,223.1 L11.1,224.2 L7.1,225.3 L3.5,225.8Z" fill="none" stroke="#000" stroke-width="1.15" stroke-linejoin="round" stroke-linecap="round"/><path d="M3.9,228.2 L8.7,226.6 L13.4,225.3 L16.6,225.8 L15.8,228.2 L11.1,229.0 L6.3,230.1Z" fill="none" stroke="#000" stroke-width="1.15" stroke-linejoin="round" stroke-linecap="round"/><path d="M40.8,206.1 L42.3,208.4 L43.4,211.6 L41.4,212.1 L39.5,210.8 L40.3,208.4Z" fill="none" stroke="#000" stroke-width="1.15" stroke-linejoin="round" stroke-linecap="round"/><path d="M52.1,200.5 L53.7,202.9 L56.1,205.3 L55.3,208.4 L53.7,210.0 L53.4,214.0 L52.1,211.6 L50.9,207.6 L51.3,203.7Z" fill="none" stroke="#000" stroke-width="1.15" stroke-linejoin="round" stroke-linecap="round"/><path d="M28.4,219.0 L30.8,220.3 L33.5,222.6 L32.4,223.4 L30.0,221.9 L28.1,220.3Z" fill="none" stroke="#000" stroke-width="1.15" stroke-linejoin="round" stroke-linecap="round"/><path d="M70.3,198.9 L71.9,201.3 L74.2,198.9 L73.5,202.9 L72.7,206.8 L71.1,205.3 L69.5,206.1 L68.7,202.1Z" fill="none" stroke="#000" stroke-width="1.15" stroke-linejoin="round" stroke-linecap="round"/><path d="M7.9,268.5 L10.3,265.3 L13.4,263.7 L17.4,262.1 L20.5,259.8 L22.1,255.8 L23.7,251.1 L26.1,247.1 L27.6,243.2 L28.4,240.8 L31.6,239.2 L35.5,236.9 L38.7,236.9 L41.9,238.4 L45.0,240.8 L47.4,243.2 L49.8,246.3 L51.3,248.7 L54.5,249.5 L57.7,250.3 L60.8,250.0 L61.6,251.9 L59.2,252.7 L57.7,255.0 L55.3,257.4 L52.9,259.0 L51.3,256.6 L50.2,253.5 L52.1,251.1" fill="none" stroke="#000" stroke-width="1.15" stroke-linejoin="round" stroke-linecap="round"/><path d="M7.9,268.5 L11.8,270.8 L17.4,269.2 L20.5,268.5 L25.3,270.8 L29.2,272.4 L33.2,270.0 L36.3,266.9 L41.1,266.1 L45.8,265.3 L49.0,266.1 L50.6,269.2 L49.8,274.0 L47.4,278.7 L44.2,282.7 L41.9,285.8 L40.3,288.2 L43.4,289.8 L47.4,289.0 L49.0,291.4 L47.4,295.0" fill="none" stroke="#000" stroke-width="1.15" stroke-linejoin="round" stroke-linecap="round"/><path d="M55.3,264.5 L58.5,262.9 L61.6,264.5 L63.2,266.9 L60.8,269.2 L58.5,268.5 L57.7,271.6 L56.1,274.0 L54.5,277.1 L54.5,283.5 L56.1,285.0 L57.7,281.1 L59.2,277.9 L60.8,280.3 L62.4,283.5 L64.0,280.3 L65.6,277.1 L67.1,280.3 L68.7,283.5 L71.1,281.9 L72.7,278.7 L73.5,274.0 L75.8,271.6 L79.0,269.2 L81.4,266.9 L82.9,262.9 L84.5,259.8 L86.1,257.4 L86.9,255.0 L85.3,252.7 L82.9,253.5 L81.4,255.8 L79.0,257.4 L76.6,258.2 L75.0,255.8 L73.5,253.5 L71.9,255.8 L69.5,256.6 L66.4,255.8 L63.2,255.0 L62.4,257.4" fill="none" stroke="#000" stroke-width="1.15" stroke-linejoin="round" stroke-linecap="round"/><path d="M74.2,195.0 L75.8,199.7 L79.0,202.1 L82.1,199.7 L86.1,197.4 L90.0,195.0" fill="none" stroke="#000" stroke-width="1.15" stroke-linejoin="round" stroke-linecap="round"/><path d="M70.3,215.5 L72.7,212.4 L75.8,214.0 L79.0,211.6 L82.1,210.0 L85.3,210.8 L88.5,209.2 L92.4,210.0 L94.8,213.2 L93.2,217.1 L90.0,218.7 L88.5,221.9 L90.8,224.2 L88.5,226.6 L85.3,225.8 L82.1,228.2 L79.0,226.6 L75.8,228.2 L73.5,225.8 L71.1,223.4 L71.9,219.5Z" fill="none" stroke="#000" stroke-width="1.15" stroke-linejoin="round" stroke-linecap="round"/><path d="M67.9,230.5 L71.1,229.0 L75.0,230.5 L79.0,229.8 L82.1,232.1 L80.6,235.3 L77.4,236.9 L74.2,236.1 L71.9,238.4 L68.7,236.9 L66.4,234.5Z" fill="none" stroke="#000" stroke-width="1.15" stroke-linejoin="round" stroke-linecap="round"/><path d="M82.1,232.9 L86.1,232.1 L88.5,234.5 L87.7,238.4 L85.3,240.8 L82.1,240.0 L81.4,236.9Z" fill="none" stroke="#000" stroke-width="1.15" stroke-linejoin="round" stroke-linecap="round"/><path d="M88.5,210.0 L91.6,210.8 L94.8,210.0 L97.9,212.4 L100.0,215.5" fill="none" stroke="#000" stroke-width="1.15" stroke-linejoin="round" stroke-linecap="round"/><path d="M65.6,247.1 L69.5,244.0 L74.2,242.4 L79.0,240.8 L82.9,242.4 L86.1,245.6 L83.7,248.7 L79.8,250.3 L75.8,249.5 L71.9,251.1 L67.9,250.3Z" fill="none" stroke="#000" stroke-width="1.15" stroke-linejoin="round" stroke-linecap="round"/><path d="M88.5,242.4 L91.6,240.8 L94.8,242.4 L96.4,247.1 L94.8,251.9 L91.6,254.2 L89.3,251.1 L90.0,247.1Z" fill="none" stroke="#000" stroke-width="1.15" stroke-linejoin="round" stroke-linecap="round"/><path d="M93.2,223.4 L96.4,221.9 L100.0,222.6" fill="none" stroke="#000" stroke-width="1.15" stroke-linejoin="round" stroke-linecap="round"/><path d="M92.4,231.3 L95.6,229.0 L100.0,229.8" fill="none" stroke="#000" stroke-width="1.15" stroke-linejoin="round" stroke-linecap="round"/><path d="M94.8,236.1 L97.9,234.5 L100.0,235.3" fill="none" stroke="#000" stroke-width="1.15" stroke-linejoin="round" stroke-linecap="round"/><path d="M66.4,262.9 L68.7,261.4 L70.3,263.7 L68.2,265.3Z" fill="none" stroke="#000" stroke-width="1.15" stroke-linejoin="round" stroke-linecap="round"/><path d="M95.0,214.0 L97.4,214.7 L96.6,217.9 L98.9,221.1 L102.1,219.5 L103.7,222.6 L102.9,225.8 L105.3,228.2 L104.5,232.1 L106.8,235.3 L106.1,237.7 L108.4,240.0 L110.8,242.4 L114.0,244.0 L117.1,246.3 L119.5,249.5 L120.3,253.5 L118.7,256.6 L115.5,257.4 L111.6,256.9 L107.6,255.8 L104.5,253.5 L101.3,251.1 L98.2,249.5 L95.0,247.9" fill="none" stroke="#000" stroke-width="1.15" stroke-linejoin="round" stroke-linecap="round"/><path d="M95.0,223.4 L97.4,225.0 L98.9,228.2 L97.4,230.5 L99.7,232.9 L98.2,236.1 L101.3,237.7 L100.5,240.8 L102.9,242.4 L102.1,245.6 L98.9,246.3 L95.8,244.8" fill="none" stroke="#000" stroke-width="1.15" stroke-linejoin="round" stroke-linecap="round"/><path d="M99.7,223.4 L101.6,226.6 L100.5,229.0 L102.6,231.7 L101.3,234.5" fill="none" stroke="#000" stroke-width="1.15" stroke-linejoin="round" stroke-linecap="round"/><path d="M95.0,234.5 L96.9,236.4 L95.8,239.2 L98.2,240.8" fill="none" stroke="#000" stroke-width="1.15" stroke-linejoin="round" stroke-linecap="round"/><path d="M148.7,280.3 L151.1,277.1 L154.2,275.6 L157.4,275.6 L157.9,277.9 L155.8,280.3 L157.4,282.7 L159.5,283.5 L158.2,285.0 L155.8,284.3 L155.3,288.2 L153.5,286.6 L151.1,283.5Z" fill="none" stroke="#000" stroke-width="1.15" stroke-linejoin="round" stroke-linecap="round"/><path d="M164.5,267.7 L166.1,265.3 L167.7,262.9 L166.9,261.4 L168.5,259.8 L170.0,259.0 L170.5,261.4 L169.2,263.7 L168.0,266.1 L166.1,268.5Z" fill="none" stroke="#000" stroke-width="1.15" stroke-linejoin="round" stroke-linecap="round"/><path d="M183.5,262.1 L185.0,261.4 L185.8,265.3 L186.6,270.8 L188.2,275.6 L191.4,280.3 L195.0,283.5" fill="none" stroke="#000" stroke-width="1.15" stroke-linejoin="round" stroke-linecap="round"/><path d="M182.7,262.9 L183.5,269.2 L185.0,275.6 L188.2,281.1 L192.2,285.0 L195.0,286.6" fill="none" stroke="#000" stroke-width="1.15" stroke-linejoin="round" stroke-linecap="round"/><path d="M166.9,202.1 L168.5,200.5 L170.0,202.9 L171.6,205.3 L174.0,204.8 L175.6,206.8 L174.8,210.0 L172.7,210.5 L170.8,208.4 L169.2,206.1 L167.4,204.5Z" fill="none" stroke="#000" stroke-width="1.15" stroke-linejoin="round" stroke-linecap="round"/><path d="M174.8,202.1 L176.4,198.2 L177.9,200.5 L177.1,203.7Z" fill="none" stroke="#000" stroke-width="1.15" stroke-linejoin="round" stroke-linecap="round"/><path d="M177.1,195.0 L181.1,198.2 L183.5,197.4 L186.6,201.3 L188.2,204.5 L190.6,202.9 L191.7,206.8 L189.8,210.0 L187.4,212.4 L188.5,215.5 L190.6,218.7 L192.2,222.6 L193.7,224.2 L191.4,225.8 L188.2,226.6 L185.0,229.0 L184.3,232.1 L186.6,237.7 L188.2,240.8 L190.6,244.8 L192.9,247.9 L195.0,249.5" fill="none" stroke="#000" stroke-width="1.15" stroke-linejoin="round" stroke-linecap="round"/><path d="M181.9,236.4 L180.3,236.1 L177.9,237.7 L175.6,240.0 L173.2,240.8 L171.6,243.2 L174.0,244.8 L177.1,243.2 L179.5,240.8 L181.9,238.4Z" fill="none" stroke="#000" stroke-width="1.15" stroke-linejoin="round" stroke-linecap="round"/><path d="M254.5,204.8 L259.2,203.7 L264.0,204.5 L268.7,207.6 L272.7,212.4 L273.5,214.0 L271.1,210.8 L267.1,207.6 L263.2,206.1 L258.5,205.7 L255.3,206.1Z" fill="none" stroke="#000" stroke-width="1.15" stroke-linejoin="round" stroke-linecap="round"/><path d="M185.0,199.7 L188.2,201.3 L190.5,199.7 L191.3,204.5 L188.9,207.6 L187.4,210.8 L188.9,215.5 L191.3,218.7 L192.1,224.2 L194.5,226.6 L196.8,229.0 L193.7,227.4 L190.5,225.8 L188.2,229.0 L186.6,232.9 L188.9,237.7 L191.3,242.4 L193.7,247.1 L196.8,250.3 L197.6,254.2 L200.8,255.8 L204.0,254.2 L203.2,257.4 L200.0,259.8 L202.4,262.1 L205.5,261.4 L204.7,263.7 L200.8,264.5 L197.6,263.7 L195.3,265.3 L197.6,267.7 L200.8,270.0 L204.0,272.4 L207.1,271.6 L211.1,270.8 L210.3,273.2 L207.1,275.6 L204.7,278.7 L202.4,281.1 L199.2,280.3 L200.8,283.5 L204.0,281.9 L205.5,284.3 L203.2,288.2 L200.8,291.4 L200.0,295.0" fill="none" stroke="#000" stroke-width="1.15" stroke-linejoin="round" stroke-linecap="round"/><path d="M205.5,262.9 L210.3,263.7 L215.0,264.5 L218.2,266.9 L219.4,270.8 L218.2,272.4 L216.6,269.2 L214.2,266.9 L210.3,266.1 L206.3,265.8Z" fill="none" stroke="#000" stroke-width="1.15" stroke-linejoin="round" stroke-linecap="round"/><path d="M185.0,266.1 L186.6,270.8 L188.9,276.4 L192.1,281.1 L196.1,282.7 L196.8,281.1 L193.7,278.7 L190.5,274.0 L188.2,268.5 L185.8,264.5" fill="none" stroke="#000" stroke-width="1.15" stroke-linejoin="round" stroke-linecap="round"/><path d="M195.3,290.6 L196.4,289.8 L197.3,290.9 L196.4,292.0Z" fill="none" stroke="#000" stroke-width="1.15" stroke-linejoin="round" stroke-linecap="round"/><path d="M103.6,256.4 L101.1,259.0 L99.2,262.1 L98.5,265.3 L100.4,268.4 L101.1,271.6 L97.9,274.8 L94.1,277.9 L91.0,280.4 L88.4,282.3 L86.5,284.9 L85.3,287.4 L87.2,288.7 L89.7,286.8 L90.3,284.2 L91.6,283.6 L91.0,286.1 L89.1,288.7 L85.9,290.6 L82.7,290.6" fill="none" stroke="#000" stroke-width="1.15" stroke-linejoin="round" stroke-linecap="round"/><path d="M103.6,256.4 L106.1,257.7 L108.7,257.1 L111.2,259.0 L114.3,258.7 L117.5,259.6 L120.0,260.9 L122.6,261.5 L125.7,261.7 L128.9,262.5 L132.0,264.0 L133.3,267.2 L132.7,269.7 L130.1,270.3 L129.3,268.8 L129.8,272.2 L132.7,272.6 L135.8,273.9 L135.6,276.7 L133.3,278.5 L131.4,281.1 L129.5,284.2 L128.2,286.8 L126.4,288.7 L127.0,290.6 L125.1,292.4 L123.8,295.0 L121.9,297.5 L120.0,299.4 L120.7,296.9 L118.8,300.0 L116.9,302.6 L114.3,304.5 L112.4,305.7 L113.7,303.8 L111.8,306.4 L109.3,309.3 L104.2,310.1 L99.2,310.8" fill="none" stroke="#000" stroke-width="1.15" stroke-linejoin="round" stroke-linecap="round"/><path d="M60.0,267.2 L62.5,265.9 L66.3,264.0 L64.4,261.5 L67.0,260.9 L70.1,263.4 L73.9,261.5 L76.4,258.3 L79.0,256.4 L80.9,253.9 L83.4,252.0 L85.3,249.5 L84.0,246.3 L85.9,243.8 L89.1,242.5 L91.6,244.4 L91.0,247.6 L92.9,250.1 L95.4,252.0 L97.9,252.6 L101.7,252.0 L105.5,250.7 L109.3,251.4 L111.8,248.8 L110.6,245.7 L108.0,243.8 L104.2,243.2" fill="none" stroke="#000" stroke-width="1.15" stroke-linejoin="round" stroke-linecap="round"/><path d="M60.0,283.6 L62.5,280.4 L65.7,277.3 L67.0,279.2 L66.3,283.0 L69.5,283.6 L72.6,281.7 L72.0,277.9 L73.9,274.1 L77.1,271.6 L80.2,269.1 L82.1,265.9 L83.4,262.7 L84.6,260.2 L85.9,257.7 L84.6,255.2" fill="none" stroke="#000" stroke-width="1.15" stroke-linejoin="round" stroke-linecap="round"/><path d="M67.0,262.7 L68.6,262.1 L69.4,263.8 L67.8,264.6Z" fill="none" stroke="#000" stroke-width="1.15" stroke-linejoin="round" stroke-linecap="round"/><path d="M60.0,250.1 L63.8,248.2 L67.6,245.1 L71.4,243.2 L75.2,241.9 L79.0,242.5 L81.5,245.1 L80.2,247.6 L77.7,248.8 L75.2,247.6 L72.6,248.8 L70.1,251.4 L67.6,252.6 L65.1,252.0" fill="none" stroke="#000" stroke-width="1.15" stroke-linejoin="round" stroke-linecap="round"/><path d="M47.4,290.0 L44.2,294.7 L41.4,298.7 L38.7,301.1 L37.6,305.8 L37.1,309.7 L35.5,313.7 L34.0,317.6 L30.8,320.0 L26.9,321.6 L23.7,320.8" fill="none" stroke="#000" stroke-width="1.15" stroke-linejoin="round" stroke-linecap="round"/><path d="M21.3,316.9 L25.3,316.9 L28.4,319.2 L29.2,321.6 L25.3,321.6" fill="none" stroke="#000" stroke-width="1.15" stroke-linejoin="round" stroke-linecap="round"/><path d="M86.1,290.0 L82.1,292.4 L77.4,295.5 L73.5,299.5 L70.3,304.2 L68.7,309.0 L67.9,313.7 L68.7,318.4 L70.3,320.8 L73.5,319.2 L77.4,316.9 L81.4,313.7 L84.5,311.3 L86.9,309.7 L90.8,311.3 L94.8,309.7 L100.0,308.2" fill="none" stroke="#000" stroke-width="1.15" stroke-linejoin="round" stroke-linecap="round"/><path d="M107.6,322.4 L110.0,320.3 L113.2,321.3 L115.5,322.4 L118.7,321.6 L121.9,323.2 L122.6,326.3 L120.3,329.2 L116.3,330.8 L112.4,331.4 L110.0,329.5 L108.4,326.7 L106.8,324.8Z" fill="none" stroke="#000" stroke-width="1.15" stroke-linejoin="round" stroke-linecap="round"/><path d="M129.8,339.9 L131.0,339.4 L131.7,340.6 L130.4,341.3Z" fill="none" stroke="#000" stroke-width="1.15" stroke-linejoin="round" stroke-linecap="round"/><path d="M118.7,376.1 L120.3,372.1 L121.1,369.0 L124.2,367.1 L127.4,365.8 L130.5,367.4 L130.1,371.4 L129.0,375.3 L125.8,377.7 L121.9,378.5Z" fill="none" stroke="#000" stroke-width="1.15" stroke-linejoin="round" stroke-linecap="round"/><path d="M129.0,354.8 L132.1,354.0 L135.3,354.5 L136.4,357.1 L134.5,359.5 L137.3,360.8 L138.0,364.2 L140.0,368.2 L141.6,372.1 L144.3,375.3 L145.9,378.5 L145.6,382.4 L142.4,383.5 L137.7,384.3 L133.7,384.8 L130.5,385.6 L132.9,382.4 L135.3,380.0 L133.7,376.9 L132.1,373.7 L132.9,370.6 L131.7,367.4 L132.6,364.2 L130.5,361.9 L131.7,358.7 L129.4,357.1Z" fill="none" stroke="#000" stroke-width="1.15" stroke-linejoin="round" stroke-linecap="round"/><path d="M195.0,305.8 L189.8,302.6 L183.5,301.1 L178.7,301.8 L174.0,302.6 L170.0,305.0 L166.9,308.2 L164.5,312.1 L162.1,316.1 L160.6,320.0 L161.4,323.2 L159.8,327.9 L157.4,332.7 L155.0,336.6 L152.7,339.8 L151.1,343.7 L150.6,348.5 L152.2,352.4 L154.7,354.8 L157.4,355.1 L159.8,353.2 L161.4,350.8 L163.2,353.2 L164.5,356.4 L166.4,360.3 L167.7,363.5 L169.2,361.1 L170.8,357.9 L173.2,355.6 L174.8,352.4 L173.7,348.5 L172.1,345.3 L172.7,340.6 L171.1,337.4 L172.1,332.7 L173.2,328.7 L174.0,324.0 L176.4,321.6 L178.4,323.2 L177.9,327.1 L176.4,331.1 L175.6,335.0 L177.1,338.2 L180.3,339.8 L183.5,339.0 L187.4,336.6 L191.4,335.8 L195.0,334.2" fill="none" stroke="#000" stroke-width="1.15" stroke-linejoin="round" stroke-linecap="round"/><path d="M159.0,359.5 L159.8,364.2 L158.2,368.2 L160.6,370.6 L159.0,373.7 L155.8,375.3 L153.5,377.7 L151.1,380.8 L148.7,383.2 L146.3,385.6" fill="none" stroke="#000" stroke-width="1.15" stroke-linejoin="round" stroke-linecap="round"/><path d="M161.4,356.4 L163.7,359.5 L164.5,363.5 L162.9,366.6 L160.6,365.8 L159.8,361.9Z" fill="none" stroke="#000" stroke-width="1.15" stroke-linejoin="round" stroke-linecap="round"/><path d="M164.5,367.4 L167.7,368.2 L172.4,367.4 L176.4,365.0 L180.3,363.5 L182.7,360.3 L184.3,356.4 L183.5,353.2 L185.0,349.2 L187.4,350.8 L188.2,347.7 L185.8,345.3 L183.5,343.7 L186.6,340.6 L191.4,337.4 L195.0,335.5" fill="none" stroke="#000" stroke-width="1.15" stroke-linejoin="round" stroke-linecap="round"/><path d="M177.1,350.8 L178.7,350.0 L179.4,352.4 L177.8,353.5Z" fill="none" stroke="#000" stroke-width="1.15" stroke-linejoin="round" stroke-linecap="round"/><path d="M183.5,310.5 L187.4,309.7 L191.4,311.3 L195.0,310.5" fill="none" stroke="#000" stroke-width="1.15" stroke-linejoin="round" stroke-linecap="round"/><path d="M187.4,311.3 L189.8,313.7 L192.9,315.3 L195.0,313.7" fill="none" stroke="#000" stroke-width="1.15" stroke-linejoin="round" stroke-linecap="round"/><path d="M196.1,290.0 L198.4,292.4 L200.0,296.3 L199.2,299.5 L197.6,301.8 L198.4,305.0 L196.1,307.4 L196.8,310.5 L195.3,313.7 L192.1,315.3 L191.3,317.6 L194.5,316.9" fill="none" stroke="#000" stroke-width="1.15" stroke-linejoin="round" stroke-linecap="round"/><path d="M185.0,305.0 L188.2,304.2 L191.3,305.8 L192.1,309.0 L189.7,309.7" fill="none" stroke="#000" stroke-width="1.15" stroke-linejoin="round" stroke-linecap="round"/><path d="M192.1,331.1 L195.3,330.3 L196.8,332.7 L194.5,335.0 L191.6,334.2Z" fill="none" stroke="#000" stroke-width="1.15" stroke-linejoin="round" stroke-linecap="round"/><path d="M185.0,339.0 L188.2,337.4 L192.1,336.6 L193.7,339.0 L189.7,340.6 L186.6,342.1" fill="none" stroke="#000" stroke-width="1.15" stroke-linejoin="round" stroke-linecap="round"/><path d="M185.0,345.3 L187.4,346.1 L188.2,350.0 L185.8,350.8" fill="none" stroke="#000" stroke-width="1.15" stroke-linejoin="round" stroke-linecap="round"/><path d="M198.4,323.5 L199.7,322.9 L200.5,324.4 L199.2,325.4Z" fill="none" stroke="#000" stroke-width="1.15" stroke-linejoin="round" stroke-linecap="round"/><circle cx="134.2" cy="111.4" r="0.9" fill="#000"/><circle cx="158.2" cy="116.3" r="0.9" fill="#000"/><circle cx="13.4" cy="264.5" r="0.9" fill="#000"/><circle cx="26.1" cy="266.9" r="0.9" fill="#000"/><circle cx="47.4" cy="257.4" r="0.9" fill="#000"/><circle cx="46.6" cy="262.9" r="0.9" fill="#000"/></g>
</g>
<circle cx="288.8" cy="697.0" r="140.5" fill="none" stroke="#000" stroke-width="0.9"/>
<text transform="translate(289.6,20) scale(1,1.07)" class="b" font-size="26.1" text-anchor="middle">ANN</text>
<text transform="translate(141.5,46.3) scale(1,1.07)" class="b" font-size="15.7" text-anchor="middle">b01.01ibis (yrs 975-999)</text>
<text transform="translate(436,46.3) scale(1,1.07)" class="b" font-size="15.7" text-anchor="middle">b30.004 (yrs 975-999)</text>
<text transform="translate(289,498.5) scale(1,1.07)" class="b" font-size="15.7" text-anchor="middle">b01.01ibis - b30.004</text>
<text transform="translate(0.5,87.6) scale(1,1.07)" class="b" font-size="13.9">Surface net LW flux</text>
<text transform="translate(283,87.6) scale(1,1.07)" class="b" font-size="13.9" text-anchor="end">W/m~S~2~N~</text>
<text transform="translate(294.8,87.6) scale(1,1.07)" class="b" font-size="13.9">Surface net LW flux</text>
<text transform="translate(577.3,87.6) scale(1,1.07)" class="b" font-size="13.9" text-anchor="end">W/m~S~2~N~</text>
<text transform="translate(147.5,539.6) scale(1,1.07)" class="b" font-size="13.9">Surface net LW flux</text>
<text transform="translate(430,539.6) scale(1,1.07)" class="b" font-size="13.9" text-anchor="end">W/m~S~2~N~</text>
<text x="1.7" y="417" class="s" font-size="12.6" textLength="43.5" lengthAdjust="spacingAndGlyphs">MEAN=</text>
<text x="59.2" y="417" class="s" font-size="12.6" textLength="33.8" lengthAdjust="spacingAndGlyphs">41.41</text>
<text x="107.0" y="417" class="s" font-size="12.6" textLength="31.7" lengthAdjust="spacingAndGlyphs">Min=</text>
<text x="153.2" y="417" class="s" font-size="12.6" textLength="33.8" lengthAdjust="spacingAndGlyphs">17.12</text>
<text x="199.8" y="417" class="s" font-size="12.6" textLength="35.2" lengthAdjust="spacingAndGlyphs">Max=</text>
<text x="247.8" y="417" class="s" font-size="12.6" textLength="35.2" lengthAdjust="spacingAndGlyphs">65.27</text>
<text x="296.0" y="417" class="s" font-size="12.6" textLength="43.5" lengthAdjust="spacingAndGlyphs">MEAN=</text>
<text x="353.5" y="417" class="s" font-size="12.6" textLength="33.8" lengthAdjust="spacingAndGlyphs">33.18</text>
<text x="401.3" y="417" class="s" font-size="12.6" textLength="31.7" lengthAdjust="spacingAndGlyphs">Min=</text>
<text x="447.5" y="417" class="s" font-size="12.6" textLength="33.8" lengthAdjust="spacingAndGlyphs">19.48</text>
<text x="494.1" y="417" class="s" font-size="12.6" textLength="35.2" lengthAdjust="spacingAndGlyphs">Max=</text>
<text x="542.1" y="417" class="s" font-size="12.6" textLength="35.2" lengthAdjust="spacingAndGlyphs">62.38</text>
<text x="447.2" y="584.6" class="s" font-size="12.6" textLength="21.2" lengthAdjust="spacingAndGlyphs">MIN</text>
<text x="476.6" y="584.6" class="s" font-size="12.6" textLength="6.9" lengthAdjust="spacingAndGlyphs">=</text>
<text x="493.7" y="584.6" class="s" font-size="12.6" textLength="42.6" lengthAdjust="spacingAndGlyphs">−29.95</text>
<text x="544.2" y="584.6" class="s" font-size="12.6" textLength="24.7" lengthAdjust="spacingAndGlyphs">MAX</text>
<text x="573.6" y="584.6" class="s" font-size="12.6" textLength="6.9" lengthAdjust="spacingAndGlyphs">=</text>
<text x="598.9" y="584.6" class="s" font-size="12.6" textLength="34.7" lengthAdjust="spacingAndGlyphs">30.09</text>
<text x="22.7" y="455.6" font-size="11" letter-spacing="1.4" text-anchor="middle">5</text>
<text x="56.8" y="455.6" font-size="11" letter-spacing="1.4" text-anchor="middle">15</text>
<text x="90.9" y="455.6" font-size="11" letter-spacing="1.4" text-anchor="middle">30</text>
<text x="125.0" y="455.6" font-size="11" letter-spacing="1.4" text-anchor="middle">50</text>
<text x="159.1" y="455.6" font-size="11" letter-spacing="1.4" text-anchor="middle">70</text>
<text x="193.3" y="455.6" font-size="11" letter-spacing="1.4" text-anchor="middle">90</text>
<text x="227.4" y="455.6" font-size="11" letter-spacing="1.4" text-anchor="middle">110</text>
<text x="261.5" y="455.6" font-size="11" letter-spacing="1.4" text-anchor="middle">130</text>
<text x="316.7" y="455.6" font-size="11" letter-spacing="1.4" text-anchor="middle">5</text>
<text x="350.8" y="455.6" font-size="11" letter-spacing="1.4" text-anchor="middle">15</text>
<text x="384.9" y="455.6" font-size="11" letter-spacing="1.4" text-anchor="middle">30</text>
<text x="419.0" y="455.6" font-size="11" letter-spacing="1.4" text-anchor="middle">50</text>
<text x="453.1" y="455.6" font-size="11" letter-spacing="1.4" text-anchor="middle">70</text>
<text x="487.3" y="455.6" font-size="11" letter-spacing="1.4" text-anchor="middle">90</text>
<text x="521.4" y="455.6" font-size="11" letter-spacing="1.4" text-anchor="middle">110</text>
<text x="555.5" y="455.6" font-size="11" letter-spacing="1.4" text-anchor="middle">130</text>
<text x="559.0" y="825.4" font-size="11" letter-spacing="1.4" text-anchor="middle">−20</text>
<text x="559.0" y="811.3" font-size="11" letter-spacing="1.4" text-anchor="middle">−15</text>
<text x="559.0" y="797.1" font-size="11" letter-spacing="1.4" text-anchor="middle">−10</text>
<text x="559.0" y="783.0" font-size="11" letter-spacing="1.4" text-anchor="middle">−8</text>
<text x="559.0" y="768.8" font-size="11" letter-spacing="1.4" text-anchor="middle">−6</text>
<text x="559.0" y="754.7" font-size="11" letter-spacing="1.4" text-anchor="middle">−4</text>
<text x="559.0" y="740.6" font-size="11" letter-spacing="1.4" text-anchor="middle">−2</text>
<text x="559.0" y="726.4" font-size="11" letter-spacing="1.4" text-anchor="middle">0</text>
<text x="559.0" y="712.3" font-size="11" letter-spacing="1.4" text-anchor="middle">2</text>
<text x="559.0" y="698.1" font-size="11" letter-spacing="1.4" text-anchor="middle">4</text>
<text x="559.0" y="684.0" font-size="11" letter-spacing="1.4" text-anchor="middle">6</text>
<text x="559.0" y="669.9" font-size="11" letter-spacing="1.4" text-anchor="middle">8</text>
<text x="559.0" y="655.7" font-size="11" letter-spacing="1.4" text-anchor="middle">10</text>
<text x="559.0" y="641.6" font-size="11" letter-spacing="1.4" text-anchor="middle">15</text>
<text x="559.0" y="627.4" font-size="11" letter-spacing="1.4" text-anchor="middle">20</text>
<rect x="5.30" y="426.5" width="17.06" height="14" fill="#9370DB" stroke="#000" stroke-width="0.6"/><rect x="22.36" y="426.5" width="17.06" height="14" fill="#0000C8" stroke="#000" stroke-width="0.6"/><rect x="39.42" y="426.5" width="17.06" height="14" fill="#3C64E6" stroke="#000" stroke-width="0.6"/><rect x="56.48" y="426.5" width="17.06" height="14" fill="#789BF2" stroke="#000" stroke-width="0.6"/><rect x="73.54" y="426.5" width="17.06" height="14" fill="#B0E0E6" stroke="#000" stroke-width="0.6"/><rect x="90.60" y="426.5" width="17.06" height="14" fill="#20B2AA" stroke="#000" stroke-width="0.6"/><rect x="107.66" y="426.5" width="17.06" height="14" fill="#BCEE68" stroke="#000" stroke-width="0.6"/><rect x="124.72" y="426.5" width="17.06" height="14" fill="#9ABF32" stroke="#000" stroke-width="0.6"/><rect x="141.78" y="426.5" width="17.06" height="14" fill="#F5E6BE" stroke="#000" stroke-width="0.6"/><rect x="158.84" y="426.5" width="17.06" height="14" fill="#DEB887" stroke="#000" stroke-width="0.6"/><rect x="175.90" y="426.5" width="17.06" height="14" fill="#FFE600" stroke="#000" stroke-width="0.6"/><rect x="192.96" y="426.5" width="17.06" height="14" fill="#FFA500" stroke="#000" stroke-width="0.6"/><rect x="210.02" y="426.5" width="17.06" height="14" fill="#FF4500" stroke="#000" stroke-width="0.6"/><rect x="227.08" y="426.5" width="17.06" height="14" fill="#B22222" stroke="#000" stroke-width="0.6"/><rect x="244.14" y="426.5" width="17.06" height="14" fill="#FFB6C1" stroke="#000" stroke-width="0.6"/><rect x="261.20" y="426.5" width="17.06" height="14" fill="#FF1493" stroke="#000" stroke-width="0.6"/>
<rect x="299.30" y="426.5" width="17.06" height="14" fill="#9370DB" stroke="#000" stroke-width="0.6"/><rect x="316.36" y="426.5" width="17.06" height="14" fill="#0000C8" stroke="#000" stroke-width="0.6"/><rect x="333.42" y="426.5" width="17.06" height="14" fill="#3C64E6" stroke="#000" stroke-width="0.6"/><rect x="350.48" y="426.5" width="17.06" height="14" fill="#789BF2" stroke="#000" stroke-width="0.6"/><rect x="367.54" y="426.5" width="17.06" height="14" fill="#B0E0E6" stroke="#000" stroke-width="0.6"/><rect x="384.60" y="426.5" width="17.06" height="14" fill="#20B2AA" stroke="#000" stroke-width="0.6"/><rect x="401.66" y="426.5" width="17.06" height="14" fill="#BCEE68" stroke="#000" stroke-width="0.6"/><rect x="418.72" y="426.5" width="17.06" height="14" fill="#9ABF32" stroke="#000" stroke-width="0.6"/><rect x="435.78" y="426.5" width="17.06" height="14" fill="#F5E6BE" stroke="#000" stroke-width="0.6"/><rect x="452.84" y="426.5" width="17.06" height="14" fill="#DEB887" stroke="#000" stroke-width="0.6"/><rect x="469.90" y="426.5" width="17.06" height="14" fill="#FFE600" stroke="#000" stroke-width="0.6"/><rect x="486.96" y="426.5" width="17.06" height="14" fill="#FFA500" stroke="#000" stroke-width="0.6"/><rect x="504.02" y="426.5" width="17.06" height="14" fill="#FF4500" stroke="#000" stroke-width="0.6"/><rect x="521.08" y="426.5" width="17.06" height="14" fill="#B22222" stroke="#000" stroke-width="0.6"/><rect x="538.14" y="426.5" width="17.06" height="14" fill="#FFB6C1" stroke="#000" stroke-width="0.6"/><rect x="555.20" y="426.5" width="17.06" height="14" fill="#FF1493" stroke="#000" stroke-width="0.6"/>
<rect x="509.2" y="821.40" width="33.3" height="14.14" fill="#9370DB" stroke="#000" stroke-width="0.6"/><rect x="509.2" y="807.26" width="33.3" height="14.14" fill="#0000C8" stroke="#000" stroke-width="0.6"/><rect x="509.2" y="793.12" width="33.3" height="14.14" fill="#3C64E6" stroke="#000" stroke-width="0.6"/><rect x="509.2" y="778.98" width="33.3" height="14.14" fill="#789BF2" stroke="#000" stroke-width="0.6"/><rect x="509.2" y="764.84" width="33.3" height="14.14" fill="#B0E0E6" stroke="#000" stroke-width="0.6"/><rect x="509.2" y="750.70" width="33.3" height="14.14" fill="#20B2AA" stroke="#000" stroke-width="0.6"/><rect x="509.2" y="736.56" width="33.3" height="14.14" fill="#BCEE68" stroke="#000" stroke-width="0.6"/><rect x="509.2" y="722.42" width="33.3" height="14.14" fill="#9ABF32" stroke="#000" stroke-width="0.6"/><rect x="509.2" y="708.28" width="33.3" height="14.14" fill="#F5E6BE" stroke="#000" stroke-width="0.6"/><rect x="509.2" y="694.14" width="33.3" height="14.14" fill="#DEB887" stroke="#000" stroke-width="0.6"/><rect x="509.2" y="680.00" width="33.3" height="14.14" fill="#FFE600" stroke="#000" stroke-width="0.6"/><rect x="509.2" y="665.86" width="33.3" height="14.14" fill="#FFA500" stroke="#000" stroke-width="0.6"/><rect x="509.2" y="651.72" width="33.3" height="14.14" fill="#FF4500" stroke="#000" stroke-width="0.6"/><rect x="509.2" y="637.58" width="33.3" height="14.14" fill="#B22222" stroke="#000" stroke-width="0.6"/><rect x="509.2" y="623.44" width="33.3" height="14.14" fill="#FFB6C1" stroke="#000" stroke-width="0.6"/><rect x="509.2" y="609.30" width="33.3" height="14.14" fill="#FF1493" stroke="#000" stroke-width="0.6"/>
</svg></body></html>
